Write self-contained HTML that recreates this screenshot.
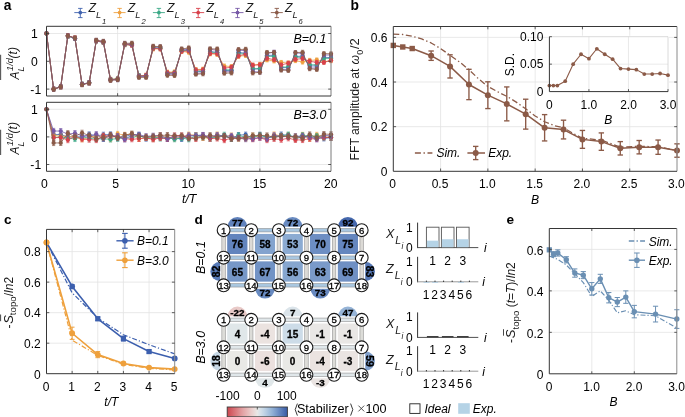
<!DOCTYPE html>
<html><head><meta charset="utf-8"><title>fig</title>
<style>html,body{margin:0;padding:0;background:#fff;width:685px;height:417px;overflow:hidden}
svg{display:block}
text{font-family:"Liberation Sans",sans-serif}</style></head>
<body><svg width="685" height="417" viewBox="0 0 685 417" style="will-change:transform">
<rect x="0" y="0" width="685" height="417" fill="#fff"/>
<g id="pa">
<line x1="117.62" y1="26.3" x2="117.62" y2="96" stroke="#e3e3e3" stroke-width="0.8"/>
<line x1="188.75" y1="26.3" x2="188.75" y2="96" stroke="#e3e3e3" stroke-width="0.8"/>
<line x1="259.88" y1="26.3" x2="259.88" y2="96" stroke="#e3e3e3" stroke-width="0.8"/>
<line x1="46.5" y1="33.5" x2="331" y2="33.5" stroke="#e3e3e3" stroke-width="0.8"/>
<line x1="46.5" y1="61.3" x2="331" y2="61.3" stroke="#e3e3e3" stroke-width="0.8"/>
<line x1="46.5" y1="89.1" x2="331" y2="89.1" stroke="#e3e3e3" stroke-width="0.8"/>
<polyline points="46.5,33.5 53.61,89.17 60.73,86.72 67.84,36.09 74.95,38.23 82.06,84.29 89.17,82.95 96.29,40.82 103.4,42.3 110.51,79.64 117.62,79.18 124.74,44.65 131.85,44.86 138.96,75.85 146.07,76.21 153.19,48.07 160.3,47.91 167.41,73.04 174.53,73.19 181.64,50.55 188.75,49.93 195.86,72.04 202.97,71.03 210.09,51.82 217.2,52.16 224.31,70.66 231.43,70.27 238.54,52.35 245.65,53.32 252.76,68.99 259.88,68.73 266.99,55.35 274.1,55.27 281.21,67.73 288.32,67.58 295.44,56.6 302.55,56.05 309.66,65.92 316.77,65.95 323.89,57.26 331,57.63" fill="none" stroke="#3f62ae" stroke-width="0.75" stroke-linejoin="round"/>
<circle cx="46.5" cy="33.5" r="2.15" fill="#3f62ae" stroke="none" stroke-width="1"/>
<line x1="53.61" y1="87.17" x2="53.61" y2="91.17" stroke="#3f62ae" stroke-width="0.7"/>
<line x1="52.01" y1="87.17" x2="55.21" y2="87.17" stroke="#3f62ae" stroke-width="0.7"/>
<line x1="52.01" y1="91.17" x2="55.21" y2="91.17" stroke="#3f62ae" stroke-width="0.7"/>
<circle cx="53.61" cy="89.17" r="2.15" fill="#3f62ae" stroke="none" stroke-width="1"/>
<line x1="60.73" y1="84.72" x2="60.73" y2="88.72" stroke="#3f62ae" stroke-width="0.7"/>
<line x1="59.12" y1="84.72" x2="62.33" y2="84.72" stroke="#3f62ae" stroke-width="0.7"/>
<line x1="59.12" y1="88.72" x2="62.33" y2="88.72" stroke="#3f62ae" stroke-width="0.7"/>
<circle cx="60.73" cy="86.72" r="2.15" fill="#3f62ae" stroke="none" stroke-width="1"/>
<line x1="67.84" y1="34.09" x2="67.84" y2="38.09" stroke="#3f62ae" stroke-width="0.7"/>
<line x1="66.24" y1="34.09" x2="69.44" y2="34.09" stroke="#3f62ae" stroke-width="0.7"/>
<line x1="66.24" y1="38.09" x2="69.44" y2="38.09" stroke="#3f62ae" stroke-width="0.7"/>
<circle cx="67.84" cy="36.09" r="2.15" fill="#3f62ae" stroke="none" stroke-width="1"/>
<line x1="74.95" y1="36.23" x2="74.95" y2="40.23" stroke="#3f62ae" stroke-width="0.7"/>
<line x1="73.35" y1="36.23" x2="76.55" y2="36.23" stroke="#3f62ae" stroke-width="0.7"/>
<line x1="73.35" y1="40.23" x2="76.55" y2="40.23" stroke="#3f62ae" stroke-width="0.7"/>
<circle cx="74.95" cy="38.23" r="2.15" fill="#3f62ae" stroke="none" stroke-width="1"/>
<line x1="82.06" y1="82.29" x2="82.06" y2="86.29" stroke="#3f62ae" stroke-width="0.7"/>
<line x1="80.46" y1="82.29" x2="83.66" y2="82.29" stroke="#3f62ae" stroke-width="0.7"/>
<line x1="80.46" y1="86.29" x2="83.66" y2="86.29" stroke="#3f62ae" stroke-width="0.7"/>
<circle cx="82.06" cy="84.29" r="2.15" fill="#3f62ae" stroke="none" stroke-width="1"/>
<line x1="89.17" y1="80.95" x2="89.17" y2="84.95" stroke="#3f62ae" stroke-width="0.7"/>
<line x1="87.58" y1="80.95" x2="90.77" y2="80.95" stroke="#3f62ae" stroke-width="0.7"/>
<line x1="87.58" y1="84.95" x2="90.77" y2="84.95" stroke="#3f62ae" stroke-width="0.7"/>
<circle cx="89.17" cy="82.95" r="2.15" fill="#3f62ae" stroke="none" stroke-width="1"/>
<line x1="96.29" y1="38.82" x2="96.29" y2="42.82" stroke="#3f62ae" stroke-width="0.7"/>
<line x1="94.69" y1="38.82" x2="97.89" y2="38.82" stroke="#3f62ae" stroke-width="0.7"/>
<line x1="94.69" y1="42.82" x2="97.89" y2="42.82" stroke="#3f62ae" stroke-width="0.7"/>
<circle cx="96.29" cy="40.82" r="2.15" fill="#3f62ae" stroke="none" stroke-width="1"/>
<line x1="103.4" y1="40.3" x2="103.4" y2="44.3" stroke="#3f62ae" stroke-width="0.7"/>
<line x1="101.8" y1="40.3" x2="105" y2="40.3" stroke="#3f62ae" stroke-width="0.7"/>
<line x1="101.8" y1="44.3" x2="105" y2="44.3" stroke="#3f62ae" stroke-width="0.7"/>
<circle cx="103.4" cy="42.3" r="2.15" fill="#3f62ae" stroke="none" stroke-width="1"/>
<line x1="110.51" y1="77.64" x2="110.51" y2="81.64" stroke="#3f62ae" stroke-width="0.7"/>
<line x1="108.91" y1="77.64" x2="112.11" y2="77.64" stroke="#3f62ae" stroke-width="0.7"/>
<line x1="108.91" y1="81.64" x2="112.11" y2="81.64" stroke="#3f62ae" stroke-width="0.7"/>
<circle cx="110.51" cy="79.64" r="2.15" fill="#3f62ae" stroke="none" stroke-width="1"/>
<line x1="117.62" y1="77.18" x2="117.62" y2="81.18" stroke="#3f62ae" stroke-width="0.7"/>
<line x1="116.03" y1="77.18" x2="119.22" y2="77.18" stroke="#3f62ae" stroke-width="0.7"/>
<line x1="116.03" y1="81.18" x2="119.22" y2="81.18" stroke="#3f62ae" stroke-width="0.7"/>
<circle cx="117.62" cy="79.18" r="2.15" fill="#3f62ae" stroke="none" stroke-width="1"/>
<line x1="124.74" y1="42.65" x2="124.74" y2="46.65" stroke="#3f62ae" stroke-width="0.7"/>
<line x1="123.14" y1="42.65" x2="126.34" y2="42.65" stroke="#3f62ae" stroke-width="0.7"/>
<line x1="123.14" y1="46.65" x2="126.34" y2="46.65" stroke="#3f62ae" stroke-width="0.7"/>
<circle cx="124.74" cy="44.65" r="2.15" fill="#3f62ae" stroke="none" stroke-width="1"/>
<line x1="131.85" y1="42.86" x2="131.85" y2="46.86" stroke="#3f62ae" stroke-width="0.7"/>
<line x1="130.25" y1="42.86" x2="133.45" y2="42.86" stroke="#3f62ae" stroke-width="0.7"/>
<line x1="130.25" y1="46.86" x2="133.45" y2="46.86" stroke="#3f62ae" stroke-width="0.7"/>
<circle cx="131.85" cy="44.86" r="2.15" fill="#3f62ae" stroke="none" stroke-width="1"/>
<line x1="138.96" y1="73.85" x2="138.96" y2="77.85" stroke="#3f62ae" stroke-width="0.7"/>
<line x1="137.36" y1="73.85" x2="140.56" y2="73.85" stroke="#3f62ae" stroke-width="0.7"/>
<line x1="137.36" y1="77.85" x2="140.56" y2="77.85" stroke="#3f62ae" stroke-width="0.7"/>
<circle cx="138.96" cy="75.85" r="2.15" fill="#3f62ae" stroke="none" stroke-width="1"/>
<line x1="146.07" y1="74.21" x2="146.07" y2="78.21" stroke="#3f62ae" stroke-width="0.7"/>
<line x1="144.47" y1="74.21" x2="147.67" y2="74.21" stroke="#3f62ae" stroke-width="0.7"/>
<line x1="144.47" y1="78.21" x2="147.67" y2="78.21" stroke="#3f62ae" stroke-width="0.7"/>
<circle cx="146.07" cy="76.21" r="2.15" fill="#3f62ae" stroke="none" stroke-width="1"/>
<line x1="153.19" y1="46.07" x2="153.19" y2="50.07" stroke="#3f62ae" stroke-width="0.7"/>
<line x1="151.59" y1="46.07" x2="154.79" y2="46.07" stroke="#3f62ae" stroke-width="0.7"/>
<line x1="151.59" y1="50.07" x2="154.79" y2="50.07" stroke="#3f62ae" stroke-width="0.7"/>
<circle cx="153.19" cy="48.07" r="2.15" fill="#3f62ae" stroke="none" stroke-width="1"/>
<line x1="160.3" y1="45.91" x2="160.3" y2="49.91" stroke="#3f62ae" stroke-width="0.7"/>
<line x1="158.7" y1="45.91" x2="161.9" y2="45.91" stroke="#3f62ae" stroke-width="0.7"/>
<line x1="158.7" y1="49.91" x2="161.9" y2="49.91" stroke="#3f62ae" stroke-width="0.7"/>
<circle cx="160.3" cy="47.91" r="2.15" fill="#3f62ae" stroke="none" stroke-width="1"/>
<line x1="167.41" y1="71.04" x2="167.41" y2="75.04" stroke="#3f62ae" stroke-width="0.7"/>
<line x1="165.81" y1="71.04" x2="169.01" y2="71.04" stroke="#3f62ae" stroke-width="0.7"/>
<line x1="165.81" y1="75.04" x2="169.01" y2="75.04" stroke="#3f62ae" stroke-width="0.7"/>
<circle cx="167.41" cy="73.04" r="2.15" fill="#3f62ae" stroke="none" stroke-width="1"/>
<line x1="174.53" y1="71.19" x2="174.53" y2="75.19" stroke="#3f62ae" stroke-width="0.7"/>
<line x1="172.93" y1="71.19" x2="176.12" y2="71.19" stroke="#3f62ae" stroke-width="0.7"/>
<line x1="172.93" y1="75.19" x2="176.12" y2="75.19" stroke="#3f62ae" stroke-width="0.7"/>
<circle cx="174.53" cy="73.19" r="2.15" fill="#3f62ae" stroke="none" stroke-width="1"/>
<line x1="181.64" y1="48.55" x2="181.64" y2="52.55" stroke="#3f62ae" stroke-width="0.7"/>
<line x1="180.04" y1="48.55" x2="183.24" y2="48.55" stroke="#3f62ae" stroke-width="0.7"/>
<line x1="180.04" y1="52.55" x2="183.24" y2="52.55" stroke="#3f62ae" stroke-width="0.7"/>
<circle cx="181.64" cy="50.55" r="2.15" fill="#3f62ae" stroke="none" stroke-width="1"/>
<line x1="188.75" y1="47.93" x2="188.75" y2="51.93" stroke="#3f62ae" stroke-width="0.7"/>
<line x1="187.15" y1="47.93" x2="190.35" y2="47.93" stroke="#3f62ae" stroke-width="0.7"/>
<line x1="187.15" y1="51.93" x2="190.35" y2="51.93" stroke="#3f62ae" stroke-width="0.7"/>
<circle cx="188.75" cy="49.93" r="2.15" fill="#3f62ae" stroke="none" stroke-width="1"/>
<line x1="195.86" y1="70.04" x2="195.86" y2="74.04" stroke="#3f62ae" stroke-width="0.7"/>
<line x1="194.26" y1="70.04" x2="197.46" y2="70.04" stroke="#3f62ae" stroke-width="0.7"/>
<line x1="194.26" y1="74.04" x2="197.46" y2="74.04" stroke="#3f62ae" stroke-width="0.7"/>
<circle cx="195.86" cy="72.04" r="2.15" fill="#3f62ae" stroke="none" stroke-width="1"/>
<line x1="202.97" y1="69.03" x2="202.97" y2="73.03" stroke="#3f62ae" stroke-width="0.7"/>
<line x1="201.38" y1="69.03" x2="204.57" y2="69.03" stroke="#3f62ae" stroke-width="0.7"/>
<line x1="201.38" y1="73.03" x2="204.57" y2="73.03" stroke="#3f62ae" stroke-width="0.7"/>
<circle cx="202.97" cy="71.03" r="2.15" fill="#3f62ae" stroke="none" stroke-width="1"/>
<line x1="210.09" y1="49.82" x2="210.09" y2="53.82" stroke="#3f62ae" stroke-width="0.7"/>
<line x1="208.49" y1="49.82" x2="211.69" y2="49.82" stroke="#3f62ae" stroke-width="0.7"/>
<line x1="208.49" y1="53.82" x2="211.69" y2="53.82" stroke="#3f62ae" stroke-width="0.7"/>
<circle cx="210.09" cy="51.82" r="2.15" fill="#3f62ae" stroke="none" stroke-width="1"/>
<line x1="217.2" y1="50.16" x2="217.2" y2="54.16" stroke="#3f62ae" stroke-width="0.7"/>
<line x1="215.6" y1="50.16" x2="218.8" y2="50.16" stroke="#3f62ae" stroke-width="0.7"/>
<line x1="215.6" y1="54.16" x2="218.8" y2="54.16" stroke="#3f62ae" stroke-width="0.7"/>
<circle cx="217.2" cy="52.16" r="2.15" fill="#3f62ae" stroke="none" stroke-width="1"/>
<line x1="224.31" y1="68.66" x2="224.31" y2="72.66" stroke="#3f62ae" stroke-width="0.7"/>
<line x1="222.71" y1="68.66" x2="225.91" y2="68.66" stroke="#3f62ae" stroke-width="0.7"/>
<line x1="222.71" y1="72.66" x2="225.91" y2="72.66" stroke="#3f62ae" stroke-width="0.7"/>
<circle cx="224.31" cy="70.66" r="2.15" fill="#3f62ae" stroke="none" stroke-width="1"/>
<line x1="231.43" y1="68.27" x2="231.43" y2="72.27" stroke="#3f62ae" stroke-width="0.7"/>
<line x1="229.83" y1="68.27" x2="233.03" y2="68.27" stroke="#3f62ae" stroke-width="0.7"/>
<line x1="229.83" y1="72.27" x2="233.03" y2="72.27" stroke="#3f62ae" stroke-width="0.7"/>
<circle cx="231.43" cy="70.27" r="2.15" fill="#3f62ae" stroke="none" stroke-width="1"/>
<line x1="238.54" y1="50.35" x2="238.54" y2="54.35" stroke="#3f62ae" stroke-width="0.7"/>
<line x1="236.94" y1="50.35" x2="240.14" y2="50.35" stroke="#3f62ae" stroke-width="0.7"/>
<line x1="236.94" y1="54.35" x2="240.14" y2="54.35" stroke="#3f62ae" stroke-width="0.7"/>
<circle cx="238.54" cy="52.35" r="2.15" fill="#3f62ae" stroke="none" stroke-width="1"/>
<line x1="245.65" y1="51.32" x2="245.65" y2="55.32" stroke="#3f62ae" stroke-width="0.7"/>
<line x1="244.05" y1="51.32" x2="247.25" y2="51.32" stroke="#3f62ae" stroke-width="0.7"/>
<line x1="244.05" y1="55.32" x2="247.25" y2="55.32" stroke="#3f62ae" stroke-width="0.7"/>
<circle cx="245.65" cy="53.32" r="2.15" fill="#3f62ae" stroke="none" stroke-width="1"/>
<line x1="252.76" y1="66.99" x2="252.76" y2="70.99" stroke="#3f62ae" stroke-width="0.7"/>
<line x1="251.16" y1="66.99" x2="254.36" y2="66.99" stroke="#3f62ae" stroke-width="0.7"/>
<line x1="251.16" y1="70.99" x2="254.36" y2="70.99" stroke="#3f62ae" stroke-width="0.7"/>
<circle cx="252.76" cy="68.99" r="2.15" fill="#3f62ae" stroke="none" stroke-width="1"/>
<line x1="259.88" y1="66.73" x2="259.88" y2="70.73" stroke="#3f62ae" stroke-width="0.7"/>
<line x1="258.27" y1="66.73" x2="261.48" y2="66.73" stroke="#3f62ae" stroke-width="0.7"/>
<line x1="258.27" y1="70.73" x2="261.48" y2="70.73" stroke="#3f62ae" stroke-width="0.7"/>
<circle cx="259.88" cy="68.73" r="2.15" fill="#3f62ae" stroke="none" stroke-width="1"/>
<line x1="266.99" y1="53.35" x2="266.99" y2="57.35" stroke="#3f62ae" stroke-width="0.7"/>
<line x1="265.39" y1="53.35" x2="268.59" y2="53.35" stroke="#3f62ae" stroke-width="0.7"/>
<line x1="265.39" y1="57.35" x2="268.59" y2="57.35" stroke="#3f62ae" stroke-width="0.7"/>
<circle cx="266.99" cy="55.35" r="2.15" fill="#3f62ae" stroke="none" stroke-width="1"/>
<line x1="274.1" y1="53.27" x2="274.1" y2="57.27" stroke="#3f62ae" stroke-width="0.7"/>
<line x1="272.5" y1="53.27" x2="275.7" y2="53.27" stroke="#3f62ae" stroke-width="0.7"/>
<line x1="272.5" y1="57.27" x2="275.7" y2="57.27" stroke="#3f62ae" stroke-width="0.7"/>
<circle cx="274.1" cy="55.27" r="2.15" fill="#3f62ae" stroke="none" stroke-width="1"/>
<line x1="281.21" y1="65.73" x2="281.21" y2="69.73" stroke="#3f62ae" stroke-width="0.7"/>
<line x1="279.61" y1="65.73" x2="282.81" y2="65.73" stroke="#3f62ae" stroke-width="0.7"/>
<line x1="279.61" y1="69.73" x2="282.81" y2="69.73" stroke="#3f62ae" stroke-width="0.7"/>
<circle cx="281.21" cy="67.73" r="2.15" fill="#3f62ae" stroke="none" stroke-width="1"/>
<line x1="288.32" y1="65.58" x2="288.32" y2="69.58" stroke="#3f62ae" stroke-width="0.7"/>
<line x1="286.72" y1="65.58" x2="289.93" y2="65.58" stroke="#3f62ae" stroke-width="0.7"/>
<line x1="286.72" y1="69.58" x2="289.93" y2="69.58" stroke="#3f62ae" stroke-width="0.7"/>
<circle cx="288.32" cy="67.58" r="2.15" fill="#3f62ae" stroke="none" stroke-width="1"/>
<line x1="295.44" y1="54.6" x2="295.44" y2="58.6" stroke="#3f62ae" stroke-width="0.7"/>
<line x1="293.84" y1="54.6" x2="297.04" y2="54.6" stroke="#3f62ae" stroke-width="0.7"/>
<line x1="293.84" y1="58.6" x2="297.04" y2="58.6" stroke="#3f62ae" stroke-width="0.7"/>
<circle cx="295.44" cy="56.6" r="2.15" fill="#3f62ae" stroke="none" stroke-width="1"/>
<line x1="302.55" y1="54.05" x2="302.55" y2="58.05" stroke="#3f62ae" stroke-width="0.7"/>
<line x1="300.95" y1="54.05" x2="304.15" y2="54.05" stroke="#3f62ae" stroke-width="0.7"/>
<line x1="300.95" y1="58.05" x2="304.15" y2="58.05" stroke="#3f62ae" stroke-width="0.7"/>
<circle cx="302.55" cy="56.05" r="2.15" fill="#3f62ae" stroke="none" stroke-width="1"/>
<line x1="309.66" y1="63.92" x2="309.66" y2="67.92" stroke="#3f62ae" stroke-width="0.7"/>
<line x1="308.06" y1="63.92" x2="311.26" y2="63.92" stroke="#3f62ae" stroke-width="0.7"/>
<line x1="308.06" y1="67.92" x2="311.26" y2="67.92" stroke="#3f62ae" stroke-width="0.7"/>
<circle cx="309.66" cy="65.92" r="2.15" fill="#3f62ae" stroke="none" stroke-width="1"/>
<line x1="316.77" y1="63.95" x2="316.77" y2="67.95" stroke="#3f62ae" stroke-width="0.7"/>
<line x1="315.17" y1="63.95" x2="318.38" y2="63.95" stroke="#3f62ae" stroke-width="0.7"/>
<line x1="315.17" y1="67.95" x2="318.38" y2="67.95" stroke="#3f62ae" stroke-width="0.7"/>
<circle cx="316.77" cy="65.95" r="2.15" fill="#3f62ae" stroke="none" stroke-width="1"/>
<line x1="323.89" y1="55.26" x2="323.89" y2="59.26" stroke="#3f62ae" stroke-width="0.7"/>
<line x1="322.29" y1="55.26" x2="325.49" y2="55.26" stroke="#3f62ae" stroke-width="0.7"/>
<line x1="322.29" y1="59.26" x2="325.49" y2="59.26" stroke="#3f62ae" stroke-width="0.7"/>
<circle cx="323.89" cy="57.26" r="2.15" fill="#3f62ae" stroke="none" stroke-width="1"/>
<line x1="331" y1="55.63" x2="331" y2="59.63" stroke="#3f62ae" stroke-width="0.7"/>
<line x1="329.4" y1="55.63" x2="332.6" y2="55.63" stroke="#3f62ae" stroke-width="0.7"/>
<line x1="329.4" y1="59.63" x2="332.6" y2="59.63" stroke="#3f62ae" stroke-width="0.7"/>
<circle cx="331" cy="57.63" r="2.15" fill="#3f62ae" stroke="none" stroke-width="1"/>
<polyline points="46.5,33.5 53.61,89 60.73,86.76 67.84,35.94 74.95,38.11 82.06,84.32 89.17,82.63 96.29,40.66 103.4,42.18 110.51,79.23 117.62,78.98 124.74,44.7 131.85,45.02 138.96,75.85 146.07,75.28 153.19,48.98 160.3,48.83 167.41,72.13 174.53,71.92 181.64,51.49 188.75,52.23 195.86,69.55 202.97,69.21 210.09,53.84 217.2,54.45 224.31,66.03 231.43,66.57 238.54,56.31 245.65,55.49 252.76,65.13 259.88,64.27 266.99,59.88 274.1,60.97 281.21,62.45 288.32,62.97 295.44,60.64 302.55,62.05 309.66,60.37 316.77,59.98 323.89,61.85 331,60.68" fill="none" stroke="#eea03f" stroke-width="0.75" stroke-linejoin="round"/>
<circle cx="46.5" cy="33.5" r="2.15" fill="#eea03f" stroke="none" stroke-width="1"/>
<line x1="53.61" y1="87" x2="53.61" y2="91" stroke="#eea03f" stroke-width="0.7"/>
<line x1="52.01" y1="87" x2="55.21" y2="87" stroke="#eea03f" stroke-width="0.7"/>
<line x1="52.01" y1="91" x2="55.21" y2="91" stroke="#eea03f" stroke-width="0.7"/>
<circle cx="53.61" cy="89" r="2.15" fill="#eea03f" stroke="none" stroke-width="1"/>
<line x1="60.73" y1="84.76" x2="60.73" y2="88.76" stroke="#eea03f" stroke-width="0.7"/>
<line x1="59.12" y1="84.76" x2="62.33" y2="84.76" stroke="#eea03f" stroke-width="0.7"/>
<line x1="59.12" y1="88.76" x2="62.33" y2="88.76" stroke="#eea03f" stroke-width="0.7"/>
<circle cx="60.73" cy="86.76" r="2.15" fill="#eea03f" stroke="none" stroke-width="1"/>
<line x1="67.84" y1="33.94" x2="67.84" y2="37.94" stroke="#eea03f" stroke-width="0.7"/>
<line x1="66.24" y1="33.94" x2="69.44" y2="33.94" stroke="#eea03f" stroke-width="0.7"/>
<line x1="66.24" y1="37.94" x2="69.44" y2="37.94" stroke="#eea03f" stroke-width="0.7"/>
<circle cx="67.84" cy="35.94" r="2.15" fill="#eea03f" stroke="none" stroke-width="1"/>
<line x1="74.95" y1="36.11" x2="74.95" y2="40.11" stroke="#eea03f" stroke-width="0.7"/>
<line x1="73.35" y1="36.11" x2="76.55" y2="36.11" stroke="#eea03f" stroke-width="0.7"/>
<line x1="73.35" y1="40.11" x2="76.55" y2="40.11" stroke="#eea03f" stroke-width="0.7"/>
<circle cx="74.95" cy="38.11" r="2.15" fill="#eea03f" stroke="none" stroke-width="1"/>
<line x1="82.06" y1="82.32" x2="82.06" y2="86.32" stroke="#eea03f" stroke-width="0.7"/>
<line x1="80.46" y1="82.32" x2="83.66" y2="82.32" stroke="#eea03f" stroke-width="0.7"/>
<line x1="80.46" y1="86.32" x2="83.66" y2="86.32" stroke="#eea03f" stroke-width="0.7"/>
<circle cx="82.06" cy="84.32" r="2.15" fill="#eea03f" stroke="none" stroke-width="1"/>
<line x1="89.17" y1="80.63" x2="89.17" y2="84.63" stroke="#eea03f" stroke-width="0.7"/>
<line x1="87.58" y1="80.63" x2="90.77" y2="80.63" stroke="#eea03f" stroke-width="0.7"/>
<line x1="87.58" y1="84.63" x2="90.77" y2="84.63" stroke="#eea03f" stroke-width="0.7"/>
<circle cx="89.17" cy="82.63" r="2.15" fill="#eea03f" stroke="none" stroke-width="1"/>
<line x1="96.29" y1="38.66" x2="96.29" y2="42.66" stroke="#eea03f" stroke-width="0.7"/>
<line x1="94.69" y1="38.66" x2="97.89" y2="38.66" stroke="#eea03f" stroke-width="0.7"/>
<line x1="94.69" y1="42.66" x2="97.89" y2="42.66" stroke="#eea03f" stroke-width="0.7"/>
<circle cx="96.29" cy="40.66" r="2.15" fill="#eea03f" stroke="none" stroke-width="1"/>
<line x1="103.4" y1="40.18" x2="103.4" y2="44.18" stroke="#eea03f" stroke-width="0.7"/>
<line x1="101.8" y1="40.18" x2="105" y2="40.18" stroke="#eea03f" stroke-width="0.7"/>
<line x1="101.8" y1="44.18" x2="105" y2="44.18" stroke="#eea03f" stroke-width="0.7"/>
<circle cx="103.4" cy="42.18" r="2.15" fill="#eea03f" stroke="none" stroke-width="1"/>
<line x1="110.51" y1="77.23" x2="110.51" y2="81.23" stroke="#eea03f" stroke-width="0.7"/>
<line x1="108.91" y1="77.23" x2="112.11" y2="77.23" stroke="#eea03f" stroke-width="0.7"/>
<line x1="108.91" y1="81.23" x2="112.11" y2="81.23" stroke="#eea03f" stroke-width="0.7"/>
<circle cx="110.51" cy="79.23" r="2.15" fill="#eea03f" stroke="none" stroke-width="1"/>
<line x1="117.62" y1="76.98" x2="117.62" y2="80.98" stroke="#eea03f" stroke-width="0.7"/>
<line x1="116.03" y1="76.98" x2="119.22" y2="76.98" stroke="#eea03f" stroke-width="0.7"/>
<line x1="116.03" y1="80.98" x2="119.22" y2="80.98" stroke="#eea03f" stroke-width="0.7"/>
<circle cx="117.62" cy="78.98" r="2.15" fill="#eea03f" stroke="none" stroke-width="1"/>
<line x1="124.74" y1="42.7" x2="124.74" y2="46.7" stroke="#eea03f" stroke-width="0.7"/>
<line x1="123.14" y1="42.7" x2="126.34" y2="42.7" stroke="#eea03f" stroke-width="0.7"/>
<line x1="123.14" y1="46.7" x2="126.34" y2="46.7" stroke="#eea03f" stroke-width="0.7"/>
<circle cx="124.74" cy="44.7" r="2.15" fill="#eea03f" stroke="none" stroke-width="1"/>
<line x1="131.85" y1="43.02" x2="131.85" y2="47.02" stroke="#eea03f" stroke-width="0.7"/>
<line x1="130.25" y1="43.02" x2="133.45" y2="43.02" stroke="#eea03f" stroke-width="0.7"/>
<line x1="130.25" y1="47.02" x2="133.45" y2="47.02" stroke="#eea03f" stroke-width="0.7"/>
<circle cx="131.85" cy="45.02" r="2.15" fill="#eea03f" stroke="none" stroke-width="1"/>
<line x1="138.96" y1="73.85" x2="138.96" y2="77.85" stroke="#eea03f" stroke-width="0.7"/>
<line x1="137.36" y1="73.85" x2="140.56" y2="73.85" stroke="#eea03f" stroke-width="0.7"/>
<line x1="137.36" y1="77.85" x2="140.56" y2="77.85" stroke="#eea03f" stroke-width="0.7"/>
<circle cx="138.96" cy="75.85" r="2.15" fill="#eea03f" stroke="none" stroke-width="1"/>
<line x1="146.07" y1="73.28" x2="146.07" y2="77.28" stroke="#eea03f" stroke-width="0.7"/>
<line x1="144.47" y1="73.28" x2="147.67" y2="73.28" stroke="#eea03f" stroke-width="0.7"/>
<line x1="144.47" y1="77.28" x2="147.67" y2="77.28" stroke="#eea03f" stroke-width="0.7"/>
<circle cx="146.07" cy="75.28" r="2.15" fill="#eea03f" stroke="none" stroke-width="1"/>
<line x1="153.19" y1="46.98" x2="153.19" y2="50.98" stroke="#eea03f" stroke-width="0.7"/>
<line x1="151.59" y1="46.98" x2="154.79" y2="46.98" stroke="#eea03f" stroke-width="0.7"/>
<line x1="151.59" y1="50.98" x2="154.79" y2="50.98" stroke="#eea03f" stroke-width="0.7"/>
<circle cx="153.19" cy="48.98" r="2.15" fill="#eea03f" stroke="none" stroke-width="1"/>
<line x1="160.3" y1="46.83" x2="160.3" y2="50.83" stroke="#eea03f" stroke-width="0.7"/>
<line x1="158.7" y1="46.83" x2="161.9" y2="46.83" stroke="#eea03f" stroke-width="0.7"/>
<line x1="158.7" y1="50.83" x2="161.9" y2="50.83" stroke="#eea03f" stroke-width="0.7"/>
<circle cx="160.3" cy="48.83" r="2.15" fill="#eea03f" stroke="none" stroke-width="1"/>
<line x1="167.41" y1="70.13" x2="167.41" y2="74.13" stroke="#eea03f" stroke-width="0.7"/>
<line x1="165.81" y1="70.13" x2="169.01" y2="70.13" stroke="#eea03f" stroke-width="0.7"/>
<line x1="165.81" y1="74.13" x2="169.01" y2="74.13" stroke="#eea03f" stroke-width="0.7"/>
<circle cx="167.41" cy="72.13" r="2.15" fill="#eea03f" stroke="none" stroke-width="1"/>
<line x1="174.53" y1="69.92" x2="174.53" y2="73.92" stroke="#eea03f" stroke-width="0.7"/>
<line x1="172.93" y1="69.92" x2="176.12" y2="69.92" stroke="#eea03f" stroke-width="0.7"/>
<line x1="172.93" y1="73.92" x2="176.12" y2="73.92" stroke="#eea03f" stroke-width="0.7"/>
<circle cx="174.53" cy="71.92" r="2.15" fill="#eea03f" stroke="none" stroke-width="1"/>
<line x1="181.64" y1="49.49" x2="181.64" y2="53.49" stroke="#eea03f" stroke-width="0.7"/>
<line x1="180.04" y1="49.49" x2="183.24" y2="49.49" stroke="#eea03f" stroke-width="0.7"/>
<line x1="180.04" y1="53.49" x2="183.24" y2="53.49" stroke="#eea03f" stroke-width="0.7"/>
<circle cx="181.64" cy="51.49" r="2.15" fill="#eea03f" stroke="none" stroke-width="1"/>
<line x1="188.75" y1="50.23" x2="188.75" y2="54.23" stroke="#eea03f" stroke-width="0.7"/>
<line x1="187.15" y1="50.23" x2="190.35" y2="50.23" stroke="#eea03f" stroke-width="0.7"/>
<line x1="187.15" y1="54.23" x2="190.35" y2="54.23" stroke="#eea03f" stroke-width="0.7"/>
<circle cx="188.75" cy="52.23" r="2.15" fill="#eea03f" stroke="none" stroke-width="1"/>
<line x1="195.86" y1="67.55" x2="195.86" y2="71.55" stroke="#eea03f" stroke-width="0.7"/>
<line x1="194.26" y1="67.55" x2="197.46" y2="67.55" stroke="#eea03f" stroke-width="0.7"/>
<line x1="194.26" y1="71.55" x2="197.46" y2="71.55" stroke="#eea03f" stroke-width="0.7"/>
<circle cx="195.86" cy="69.55" r="2.15" fill="#eea03f" stroke="none" stroke-width="1"/>
<line x1="202.97" y1="67.21" x2="202.97" y2="71.21" stroke="#eea03f" stroke-width="0.7"/>
<line x1="201.38" y1="67.21" x2="204.57" y2="67.21" stroke="#eea03f" stroke-width="0.7"/>
<line x1="201.38" y1="71.21" x2="204.57" y2="71.21" stroke="#eea03f" stroke-width="0.7"/>
<circle cx="202.97" cy="69.21" r="2.15" fill="#eea03f" stroke="none" stroke-width="1"/>
<line x1="210.09" y1="51.84" x2="210.09" y2="55.84" stroke="#eea03f" stroke-width="0.7"/>
<line x1="208.49" y1="51.84" x2="211.69" y2="51.84" stroke="#eea03f" stroke-width="0.7"/>
<line x1="208.49" y1="55.84" x2="211.69" y2="55.84" stroke="#eea03f" stroke-width="0.7"/>
<circle cx="210.09" cy="53.84" r="2.15" fill="#eea03f" stroke="none" stroke-width="1"/>
<line x1="217.2" y1="52.45" x2="217.2" y2="56.45" stroke="#eea03f" stroke-width="0.7"/>
<line x1="215.6" y1="52.45" x2="218.8" y2="52.45" stroke="#eea03f" stroke-width="0.7"/>
<line x1="215.6" y1="56.45" x2="218.8" y2="56.45" stroke="#eea03f" stroke-width="0.7"/>
<circle cx="217.2" cy="54.45" r="2.15" fill="#eea03f" stroke="none" stroke-width="1"/>
<line x1="224.31" y1="64.03" x2="224.31" y2="68.03" stroke="#eea03f" stroke-width="0.7"/>
<line x1="222.71" y1="64.03" x2="225.91" y2="64.03" stroke="#eea03f" stroke-width="0.7"/>
<line x1="222.71" y1="68.03" x2="225.91" y2="68.03" stroke="#eea03f" stroke-width="0.7"/>
<circle cx="224.31" cy="66.03" r="2.15" fill="#eea03f" stroke="none" stroke-width="1"/>
<line x1="231.43" y1="64.57" x2="231.43" y2="68.57" stroke="#eea03f" stroke-width="0.7"/>
<line x1="229.83" y1="64.57" x2="233.03" y2="64.57" stroke="#eea03f" stroke-width="0.7"/>
<line x1="229.83" y1="68.57" x2="233.03" y2="68.57" stroke="#eea03f" stroke-width="0.7"/>
<circle cx="231.43" cy="66.57" r="2.15" fill="#eea03f" stroke="none" stroke-width="1"/>
<line x1="238.54" y1="54.31" x2="238.54" y2="58.31" stroke="#eea03f" stroke-width="0.7"/>
<line x1="236.94" y1="54.31" x2="240.14" y2="54.31" stroke="#eea03f" stroke-width="0.7"/>
<line x1="236.94" y1="58.31" x2="240.14" y2="58.31" stroke="#eea03f" stroke-width="0.7"/>
<circle cx="238.54" cy="56.31" r="2.15" fill="#eea03f" stroke="none" stroke-width="1"/>
<line x1="245.65" y1="53.49" x2="245.65" y2="57.49" stroke="#eea03f" stroke-width="0.7"/>
<line x1="244.05" y1="53.49" x2="247.25" y2="53.49" stroke="#eea03f" stroke-width="0.7"/>
<line x1="244.05" y1="57.49" x2="247.25" y2="57.49" stroke="#eea03f" stroke-width="0.7"/>
<circle cx="245.65" cy="55.49" r="2.15" fill="#eea03f" stroke="none" stroke-width="1"/>
<line x1="252.76" y1="63.13" x2="252.76" y2="67.13" stroke="#eea03f" stroke-width="0.7"/>
<line x1="251.16" y1="63.13" x2="254.36" y2="63.13" stroke="#eea03f" stroke-width="0.7"/>
<line x1="251.16" y1="67.13" x2="254.36" y2="67.13" stroke="#eea03f" stroke-width="0.7"/>
<circle cx="252.76" cy="65.13" r="2.15" fill="#eea03f" stroke="none" stroke-width="1"/>
<line x1="259.88" y1="62.27" x2="259.88" y2="66.27" stroke="#eea03f" stroke-width="0.7"/>
<line x1="258.27" y1="62.27" x2="261.48" y2="62.27" stroke="#eea03f" stroke-width="0.7"/>
<line x1="258.27" y1="66.27" x2="261.48" y2="66.27" stroke="#eea03f" stroke-width="0.7"/>
<circle cx="259.88" cy="64.27" r="2.15" fill="#eea03f" stroke="none" stroke-width="1"/>
<line x1="266.99" y1="57.88" x2="266.99" y2="61.88" stroke="#eea03f" stroke-width="0.7"/>
<line x1="265.39" y1="57.88" x2="268.59" y2="57.88" stroke="#eea03f" stroke-width="0.7"/>
<line x1="265.39" y1="61.88" x2="268.59" y2="61.88" stroke="#eea03f" stroke-width="0.7"/>
<circle cx="266.99" cy="59.88" r="2.15" fill="#eea03f" stroke="none" stroke-width="1"/>
<line x1="274.1" y1="58.97" x2="274.1" y2="62.97" stroke="#eea03f" stroke-width="0.7"/>
<line x1="272.5" y1="58.97" x2="275.7" y2="58.97" stroke="#eea03f" stroke-width="0.7"/>
<line x1="272.5" y1="62.97" x2="275.7" y2="62.97" stroke="#eea03f" stroke-width="0.7"/>
<circle cx="274.1" cy="60.97" r="2.15" fill="#eea03f" stroke="none" stroke-width="1"/>
<line x1="281.21" y1="60.45" x2="281.21" y2="64.45" stroke="#eea03f" stroke-width="0.7"/>
<line x1="279.61" y1="60.45" x2="282.81" y2="60.45" stroke="#eea03f" stroke-width="0.7"/>
<line x1="279.61" y1="64.45" x2="282.81" y2="64.45" stroke="#eea03f" stroke-width="0.7"/>
<circle cx="281.21" cy="62.45" r="2.15" fill="#eea03f" stroke="none" stroke-width="1"/>
<line x1="288.32" y1="60.97" x2="288.32" y2="64.97" stroke="#eea03f" stroke-width="0.7"/>
<line x1="286.72" y1="60.97" x2="289.93" y2="60.97" stroke="#eea03f" stroke-width="0.7"/>
<line x1="286.72" y1="64.97" x2="289.93" y2="64.97" stroke="#eea03f" stroke-width="0.7"/>
<circle cx="288.32" cy="62.97" r="2.15" fill="#eea03f" stroke="none" stroke-width="1"/>
<line x1="295.44" y1="58.64" x2="295.44" y2="62.64" stroke="#eea03f" stroke-width="0.7"/>
<line x1="293.84" y1="58.64" x2="297.04" y2="58.64" stroke="#eea03f" stroke-width="0.7"/>
<line x1="293.84" y1="62.64" x2="297.04" y2="62.64" stroke="#eea03f" stroke-width="0.7"/>
<circle cx="295.44" cy="60.64" r="2.15" fill="#eea03f" stroke="none" stroke-width="1"/>
<line x1="302.55" y1="60.05" x2="302.55" y2="64.05" stroke="#eea03f" stroke-width="0.7"/>
<line x1="300.95" y1="60.05" x2="304.15" y2="60.05" stroke="#eea03f" stroke-width="0.7"/>
<line x1="300.95" y1="64.05" x2="304.15" y2="64.05" stroke="#eea03f" stroke-width="0.7"/>
<circle cx="302.55" cy="62.05" r="2.15" fill="#eea03f" stroke="none" stroke-width="1"/>
<line x1="309.66" y1="58.37" x2="309.66" y2="62.37" stroke="#eea03f" stroke-width="0.7"/>
<line x1="308.06" y1="58.37" x2="311.26" y2="58.37" stroke="#eea03f" stroke-width="0.7"/>
<line x1="308.06" y1="62.37" x2="311.26" y2="62.37" stroke="#eea03f" stroke-width="0.7"/>
<circle cx="309.66" cy="60.37" r="2.15" fill="#eea03f" stroke="none" stroke-width="1"/>
<line x1="316.77" y1="57.98" x2="316.77" y2="61.98" stroke="#eea03f" stroke-width="0.7"/>
<line x1="315.17" y1="57.98" x2="318.38" y2="57.98" stroke="#eea03f" stroke-width="0.7"/>
<line x1="315.17" y1="61.98" x2="318.38" y2="61.98" stroke="#eea03f" stroke-width="0.7"/>
<circle cx="316.77" cy="59.98" r="2.15" fill="#eea03f" stroke="none" stroke-width="1"/>
<line x1="323.89" y1="59.85" x2="323.89" y2="63.85" stroke="#eea03f" stroke-width="0.7"/>
<line x1="322.29" y1="59.85" x2="325.49" y2="59.85" stroke="#eea03f" stroke-width="0.7"/>
<line x1="322.29" y1="63.85" x2="325.49" y2="63.85" stroke="#eea03f" stroke-width="0.7"/>
<circle cx="323.89" cy="61.85" r="2.15" fill="#eea03f" stroke="none" stroke-width="1"/>
<line x1="331" y1="58.68" x2="331" y2="62.68" stroke="#eea03f" stroke-width="0.7"/>
<line x1="329.4" y1="58.68" x2="332.6" y2="58.68" stroke="#eea03f" stroke-width="0.7"/>
<line x1="329.4" y1="62.68" x2="332.6" y2="62.68" stroke="#eea03f" stroke-width="0.7"/>
<circle cx="331" cy="60.68" r="2.15" fill="#eea03f" stroke="none" stroke-width="1"/>
<polyline points="46.5,33.5 53.61,89.17 60.73,86.87 67.84,36.06 74.95,38.4 82.06,84.17 89.17,82.61 96.29,41.05 103.4,42.44 110.51,79.51 117.62,78.83 124.74,44.51 131.85,44.7 138.96,75.74 146.07,75.67 153.19,48.01 160.3,48.15 167.41,73.54 174.53,72.59 181.64,50.5 188.75,50.37 195.86,70.92 202.97,71.13 210.09,52.1 217.2,52.64 224.31,69.63 231.43,70.09 238.54,53.76 245.65,53.82 252.76,69 259.88,68.56 266.99,56.27 274.1,56.54 281.21,67.06 288.32,66.95 295.44,56.92 302.55,57.63 309.66,64.65 316.77,64.87 323.89,58.55 331,58.56" fill="none" stroke="#3aa886" stroke-width="0.75" stroke-linejoin="round"/>
<circle cx="46.5" cy="33.5" r="2.15" fill="#3aa886" stroke="none" stroke-width="1"/>
<line x1="53.61" y1="87.17" x2="53.61" y2="91.17" stroke="#3aa886" stroke-width="0.7"/>
<line x1="52.01" y1="87.17" x2="55.21" y2="87.17" stroke="#3aa886" stroke-width="0.7"/>
<line x1="52.01" y1="91.17" x2="55.21" y2="91.17" stroke="#3aa886" stroke-width="0.7"/>
<circle cx="53.61" cy="89.17" r="2.15" fill="#3aa886" stroke="none" stroke-width="1"/>
<line x1="60.73" y1="84.87" x2="60.73" y2="88.87" stroke="#3aa886" stroke-width="0.7"/>
<line x1="59.12" y1="84.87" x2="62.33" y2="84.87" stroke="#3aa886" stroke-width="0.7"/>
<line x1="59.12" y1="88.87" x2="62.33" y2="88.87" stroke="#3aa886" stroke-width="0.7"/>
<circle cx="60.73" cy="86.87" r="2.15" fill="#3aa886" stroke="none" stroke-width="1"/>
<line x1="67.84" y1="34.06" x2="67.84" y2="38.06" stroke="#3aa886" stroke-width="0.7"/>
<line x1="66.24" y1="34.06" x2="69.44" y2="34.06" stroke="#3aa886" stroke-width="0.7"/>
<line x1="66.24" y1="38.06" x2="69.44" y2="38.06" stroke="#3aa886" stroke-width="0.7"/>
<circle cx="67.84" cy="36.06" r="2.15" fill="#3aa886" stroke="none" stroke-width="1"/>
<line x1="74.95" y1="36.4" x2="74.95" y2="40.4" stroke="#3aa886" stroke-width="0.7"/>
<line x1="73.35" y1="36.4" x2="76.55" y2="36.4" stroke="#3aa886" stroke-width="0.7"/>
<line x1="73.35" y1="40.4" x2="76.55" y2="40.4" stroke="#3aa886" stroke-width="0.7"/>
<circle cx="74.95" cy="38.4" r="2.15" fill="#3aa886" stroke="none" stroke-width="1"/>
<line x1="82.06" y1="82.17" x2="82.06" y2="86.17" stroke="#3aa886" stroke-width="0.7"/>
<line x1="80.46" y1="82.17" x2="83.66" y2="82.17" stroke="#3aa886" stroke-width="0.7"/>
<line x1="80.46" y1="86.17" x2="83.66" y2="86.17" stroke="#3aa886" stroke-width="0.7"/>
<circle cx="82.06" cy="84.17" r="2.15" fill="#3aa886" stroke="none" stroke-width="1"/>
<line x1="89.17" y1="80.61" x2="89.17" y2="84.61" stroke="#3aa886" stroke-width="0.7"/>
<line x1="87.58" y1="80.61" x2="90.77" y2="80.61" stroke="#3aa886" stroke-width="0.7"/>
<line x1="87.58" y1="84.61" x2="90.77" y2="84.61" stroke="#3aa886" stroke-width="0.7"/>
<circle cx="89.17" cy="82.61" r="2.15" fill="#3aa886" stroke="none" stroke-width="1"/>
<line x1="96.29" y1="39.05" x2="96.29" y2="43.05" stroke="#3aa886" stroke-width="0.7"/>
<line x1="94.69" y1="39.05" x2="97.89" y2="39.05" stroke="#3aa886" stroke-width="0.7"/>
<line x1="94.69" y1="43.05" x2="97.89" y2="43.05" stroke="#3aa886" stroke-width="0.7"/>
<circle cx="96.29" cy="41.05" r="2.15" fill="#3aa886" stroke="none" stroke-width="1"/>
<line x1="103.4" y1="40.44" x2="103.4" y2="44.44" stroke="#3aa886" stroke-width="0.7"/>
<line x1="101.8" y1="40.44" x2="105" y2="40.44" stroke="#3aa886" stroke-width="0.7"/>
<line x1="101.8" y1="44.44" x2="105" y2="44.44" stroke="#3aa886" stroke-width="0.7"/>
<circle cx="103.4" cy="42.44" r="2.15" fill="#3aa886" stroke="none" stroke-width="1"/>
<line x1="110.51" y1="77.51" x2="110.51" y2="81.51" stroke="#3aa886" stroke-width="0.7"/>
<line x1="108.91" y1="77.51" x2="112.11" y2="77.51" stroke="#3aa886" stroke-width="0.7"/>
<line x1="108.91" y1="81.51" x2="112.11" y2="81.51" stroke="#3aa886" stroke-width="0.7"/>
<circle cx="110.51" cy="79.51" r="2.15" fill="#3aa886" stroke="none" stroke-width="1"/>
<line x1="117.62" y1="76.83" x2="117.62" y2="80.83" stroke="#3aa886" stroke-width="0.7"/>
<line x1="116.03" y1="76.83" x2="119.22" y2="76.83" stroke="#3aa886" stroke-width="0.7"/>
<line x1="116.03" y1="80.83" x2="119.22" y2="80.83" stroke="#3aa886" stroke-width="0.7"/>
<circle cx="117.62" cy="78.83" r="2.15" fill="#3aa886" stroke="none" stroke-width="1"/>
<line x1="124.74" y1="42.51" x2="124.74" y2="46.51" stroke="#3aa886" stroke-width="0.7"/>
<line x1="123.14" y1="42.51" x2="126.34" y2="42.51" stroke="#3aa886" stroke-width="0.7"/>
<line x1="123.14" y1="46.51" x2="126.34" y2="46.51" stroke="#3aa886" stroke-width="0.7"/>
<circle cx="124.74" cy="44.51" r="2.15" fill="#3aa886" stroke="none" stroke-width="1"/>
<line x1="131.85" y1="42.7" x2="131.85" y2="46.7" stroke="#3aa886" stroke-width="0.7"/>
<line x1="130.25" y1="42.7" x2="133.45" y2="42.7" stroke="#3aa886" stroke-width="0.7"/>
<line x1="130.25" y1="46.7" x2="133.45" y2="46.7" stroke="#3aa886" stroke-width="0.7"/>
<circle cx="131.85" cy="44.7" r="2.15" fill="#3aa886" stroke="none" stroke-width="1"/>
<line x1="138.96" y1="73.74" x2="138.96" y2="77.74" stroke="#3aa886" stroke-width="0.7"/>
<line x1="137.36" y1="73.74" x2="140.56" y2="73.74" stroke="#3aa886" stroke-width="0.7"/>
<line x1="137.36" y1="77.74" x2="140.56" y2="77.74" stroke="#3aa886" stroke-width="0.7"/>
<circle cx="138.96" cy="75.74" r="2.15" fill="#3aa886" stroke="none" stroke-width="1"/>
<line x1="146.07" y1="73.67" x2="146.07" y2="77.67" stroke="#3aa886" stroke-width="0.7"/>
<line x1="144.47" y1="73.67" x2="147.67" y2="73.67" stroke="#3aa886" stroke-width="0.7"/>
<line x1="144.47" y1="77.67" x2="147.67" y2="77.67" stroke="#3aa886" stroke-width="0.7"/>
<circle cx="146.07" cy="75.67" r="2.15" fill="#3aa886" stroke="none" stroke-width="1"/>
<line x1="153.19" y1="46.01" x2="153.19" y2="50.01" stroke="#3aa886" stroke-width="0.7"/>
<line x1="151.59" y1="46.01" x2="154.79" y2="46.01" stroke="#3aa886" stroke-width="0.7"/>
<line x1="151.59" y1="50.01" x2="154.79" y2="50.01" stroke="#3aa886" stroke-width="0.7"/>
<circle cx="153.19" cy="48.01" r="2.15" fill="#3aa886" stroke="none" stroke-width="1"/>
<line x1="160.3" y1="46.15" x2="160.3" y2="50.15" stroke="#3aa886" stroke-width="0.7"/>
<line x1="158.7" y1="46.15" x2="161.9" y2="46.15" stroke="#3aa886" stroke-width="0.7"/>
<line x1="158.7" y1="50.15" x2="161.9" y2="50.15" stroke="#3aa886" stroke-width="0.7"/>
<circle cx="160.3" cy="48.15" r="2.15" fill="#3aa886" stroke="none" stroke-width="1"/>
<line x1="167.41" y1="71.54" x2="167.41" y2="75.54" stroke="#3aa886" stroke-width="0.7"/>
<line x1="165.81" y1="71.54" x2="169.01" y2="71.54" stroke="#3aa886" stroke-width="0.7"/>
<line x1="165.81" y1="75.54" x2="169.01" y2="75.54" stroke="#3aa886" stroke-width="0.7"/>
<circle cx="167.41" cy="73.54" r="2.15" fill="#3aa886" stroke="none" stroke-width="1"/>
<line x1="174.53" y1="70.59" x2="174.53" y2="74.59" stroke="#3aa886" stroke-width="0.7"/>
<line x1="172.93" y1="70.59" x2="176.12" y2="70.59" stroke="#3aa886" stroke-width="0.7"/>
<line x1="172.93" y1="74.59" x2="176.12" y2="74.59" stroke="#3aa886" stroke-width="0.7"/>
<circle cx="174.53" cy="72.59" r="2.15" fill="#3aa886" stroke="none" stroke-width="1"/>
<line x1="181.64" y1="48.5" x2="181.64" y2="52.5" stroke="#3aa886" stroke-width="0.7"/>
<line x1="180.04" y1="48.5" x2="183.24" y2="48.5" stroke="#3aa886" stroke-width="0.7"/>
<line x1="180.04" y1="52.5" x2="183.24" y2="52.5" stroke="#3aa886" stroke-width="0.7"/>
<circle cx="181.64" cy="50.5" r="2.15" fill="#3aa886" stroke="none" stroke-width="1"/>
<line x1="188.75" y1="48.37" x2="188.75" y2="52.37" stroke="#3aa886" stroke-width="0.7"/>
<line x1="187.15" y1="48.37" x2="190.35" y2="48.37" stroke="#3aa886" stroke-width="0.7"/>
<line x1="187.15" y1="52.37" x2="190.35" y2="52.37" stroke="#3aa886" stroke-width="0.7"/>
<circle cx="188.75" cy="50.37" r="2.15" fill="#3aa886" stroke="none" stroke-width="1"/>
<line x1="195.86" y1="68.92" x2="195.86" y2="72.92" stroke="#3aa886" stroke-width="0.7"/>
<line x1="194.26" y1="68.92" x2="197.46" y2="68.92" stroke="#3aa886" stroke-width="0.7"/>
<line x1="194.26" y1="72.92" x2="197.46" y2="72.92" stroke="#3aa886" stroke-width="0.7"/>
<circle cx="195.86" cy="70.92" r="2.15" fill="#3aa886" stroke="none" stroke-width="1"/>
<line x1="202.97" y1="69.13" x2="202.97" y2="73.13" stroke="#3aa886" stroke-width="0.7"/>
<line x1="201.38" y1="69.13" x2="204.57" y2="69.13" stroke="#3aa886" stroke-width="0.7"/>
<line x1="201.38" y1="73.13" x2="204.57" y2="73.13" stroke="#3aa886" stroke-width="0.7"/>
<circle cx="202.97" cy="71.13" r="2.15" fill="#3aa886" stroke="none" stroke-width="1"/>
<line x1="210.09" y1="50.1" x2="210.09" y2="54.1" stroke="#3aa886" stroke-width="0.7"/>
<line x1="208.49" y1="50.1" x2="211.69" y2="50.1" stroke="#3aa886" stroke-width="0.7"/>
<line x1="208.49" y1="54.1" x2="211.69" y2="54.1" stroke="#3aa886" stroke-width="0.7"/>
<circle cx="210.09" cy="52.1" r="2.15" fill="#3aa886" stroke="none" stroke-width="1"/>
<line x1="217.2" y1="50.64" x2="217.2" y2="54.64" stroke="#3aa886" stroke-width="0.7"/>
<line x1="215.6" y1="50.64" x2="218.8" y2="50.64" stroke="#3aa886" stroke-width="0.7"/>
<line x1="215.6" y1="54.64" x2="218.8" y2="54.64" stroke="#3aa886" stroke-width="0.7"/>
<circle cx="217.2" cy="52.64" r="2.15" fill="#3aa886" stroke="none" stroke-width="1"/>
<line x1="224.31" y1="67.63" x2="224.31" y2="71.63" stroke="#3aa886" stroke-width="0.7"/>
<line x1="222.71" y1="67.63" x2="225.91" y2="67.63" stroke="#3aa886" stroke-width="0.7"/>
<line x1="222.71" y1="71.63" x2="225.91" y2="71.63" stroke="#3aa886" stroke-width="0.7"/>
<circle cx="224.31" cy="69.63" r="2.15" fill="#3aa886" stroke="none" stroke-width="1"/>
<line x1="231.43" y1="68.09" x2="231.43" y2="72.09" stroke="#3aa886" stroke-width="0.7"/>
<line x1="229.83" y1="68.09" x2="233.03" y2="68.09" stroke="#3aa886" stroke-width="0.7"/>
<line x1="229.83" y1="72.09" x2="233.03" y2="72.09" stroke="#3aa886" stroke-width="0.7"/>
<circle cx="231.43" cy="70.09" r="2.15" fill="#3aa886" stroke="none" stroke-width="1"/>
<line x1="238.54" y1="51.76" x2="238.54" y2="55.76" stroke="#3aa886" stroke-width="0.7"/>
<line x1="236.94" y1="51.76" x2="240.14" y2="51.76" stroke="#3aa886" stroke-width="0.7"/>
<line x1="236.94" y1="55.76" x2="240.14" y2="55.76" stroke="#3aa886" stroke-width="0.7"/>
<circle cx="238.54" cy="53.76" r="2.15" fill="#3aa886" stroke="none" stroke-width="1"/>
<line x1="245.65" y1="51.82" x2="245.65" y2="55.82" stroke="#3aa886" stroke-width="0.7"/>
<line x1="244.05" y1="51.82" x2="247.25" y2="51.82" stroke="#3aa886" stroke-width="0.7"/>
<line x1="244.05" y1="55.82" x2="247.25" y2="55.82" stroke="#3aa886" stroke-width="0.7"/>
<circle cx="245.65" cy="53.82" r="2.15" fill="#3aa886" stroke="none" stroke-width="1"/>
<line x1="252.76" y1="67" x2="252.76" y2="71" stroke="#3aa886" stroke-width="0.7"/>
<line x1="251.16" y1="67" x2="254.36" y2="67" stroke="#3aa886" stroke-width="0.7"/>
<line x1="251.16" y1="71" x2="254.36" y2="71" stroke="#3aa886" stroke-width="0.7"/>
<circle cx="252.76" cy="69" r="2.15" fill="#3aa886" stroke="none" stroke-width="1"/>
<line x1="259.88" y1="66.56" x2="259.88" y2="70.56" stroke="#3aa886" stroke-width="0.7"/>
<line x1="258.27" y1="66.56" x2="261.48" y2="66.56" stroke="#3aa886" stroke-width="0.7"/>
<line x1="258.27" y1="70.56" x2="261.48" y2="70.56" stroke="#3aa886" stroke-width="0.7"/>
<circle cx="259.88" cy="68.56" r="2.15" fill="#3aa886" stroke="none" stroke-width="1"/>
<line x1="266.99" y1="54.27" x2="266.99" y2="58.27" stroke="#3aa886" stroke-width="0.7"/>
<line x1="265.39" y1="54.27" x2="268.59" y2="54.27" stroke="#3aa886" stroke-width="0.7"/>
<line x1="265.39" y1="58.27" x2="268.59" y2="58.27" stroke="#3aa886" stroke-width="0.7"/>
<circle cx="266.99" cy="56.27" r="2.15" fill="#3aa886" stroke="none" stroke-width="1"/>
<line x1="274.1" y1="54.54" x2="274.1" y2="58.54" stroke="#3aa886" stroke-width="0.7"/>
<line x1="272.5" y1="54.54" x2="275.7" y2="54.54" stroke="#3aa886" stroke-width="0.7"/>
<line x1="272.5" y1="58.54" x2="275.7" y2="58.54" stroke="#3aa886" stroke-width="0.7"/>
<circle cx="274.1" cy="56.54" r="2.15" fill="#3aa886" stroke="none" stroke-width="1"/>
<line x1="281.21" y1="65.06" x2="281.21" y2="69.06" stroke="#3aa886" stroke-width="0.7"/>
<line x1="279.61" y1="65.06" x2="282.81" y2="65.06" stroke="#3aa886" stroke-width="0.7"/>
<line x1="279.61" y1="69.06" x2="282.81" y2="69.06" stroke="#3aa886" stroke-width="0.7"/>
<circle cx="281.21" cy="67.06" r="2.15" fill="#3aa886" stroke="none" stroke-width="1"/>
<line x1="288.32" y1="64.95" x2="288.32" y2="68.95" stroke="#3aa886" stroke-width="0.7"/>
<line x1="286.72" y1="64.95" x2="289.93" y2="64.95" stroke="#3aa886" stroke-width="0.7"/>
<line x1="286.72" y1="68.95" x2="289.93" y2="68.95" stroke="#3aa886" stroke-width="0.7"/>
<circle cx="288.32" cy="66.95" r="2.15" fill="#3aa886" stroke="none" stroke-width="1"/>
<line x1="295.44" y1="54.92" x2="295.44" y2="58.92" stroke="#3aa886" stroke-width="0.7"/>
<line x1="293.84" y1="54.92" x2="297.04" y2="54.92" stroke="#3aa886" stroke-width="0.7"/>
<line x1="293.84" y1="58.92" x2="297.04" y2="58.92" stroke="#3aa886" stroke-width="0.7"/>
<circle cx="295.44" cy="56.92" r="2.15" fill="#3aa886" stroke="none" stroke-width="1"/>
<line x1="302.55" y1="55.63" x2="302.55" y2="59.63" stroke="#3aa886" stroke-width="0.7"/>
<line x1="300.95" y1="55.63" x2="304.15" y2="55.63" stroke="#3aa886" stroke-width="0.7"/>
<line x1="300.95" y1="59.63" x2="304.15" y2="59.63" stroke="#3aa886" stroke-width="0.7"/>
<circle cx="302.55" cy="57.63" r="2.15" fill="#3aa886" stroke="none" stroke-width="1"/>
<line x1="309.66" y1="62.65" x2="309.66" y2="66.65" stroke="#3aa886" stroke-width="0.7"/>
<line x1="308.06" y1="62.65" x2="311.26" y2="62.65" stroke="#3aa886" stroke-width="0.7"/>
<line x1="308.06" y1="66.65" x2="311.26" y2="66.65" stroke="#3aa886" stroke-width="0.7"/>
<circle cx="309.66" cy="64.65" r="2.15" fill="#3aa886" stroke="none" stroke-width="1"/>
<line x1="316.77" y1="62.87" x2="316.77" y2="66.87" stroke="#3aa886" stroke-width="0.7"/>
<line x1="315.17" y1="62.87" x2="318.38" y2="62.87" stroke="#3aa886" stroke-width="0.7"/>
<line x1="315.17" y1="66.87" x2="318.38" y2="66.87" stroke="#3aa886" stroke-width="0.7"/>
<circle cx="316.77" cy="64.87" r="2.15" fill="#3aa886" stroke="none" stroke-width="1"/>
<line x1="323.89" y1="56.55" x2="323.89" y2="60.55" stroke="#3aa886" stroke-width="0.7"/>
<line x1="322.29" y1="56.55" x2="325.49" y2="56.55" stroke="#3aa886" stroke-width="0.7"/>
<line x1="322.29" y1="60.55" x2="325.49" y2="60.55" stroke="#3aa886" stroke-width="0.7"/>
<circle cx="323.89" cy="58.55" r="2.15" fill="#3aa886" stroke="none" stroke-width="1"/>
<line x1="331" y1="56.56" x2="331" y2="60.56" stroke="#3aa886" stroke-width="0.7"/>
<line x1="329.4" y1="56.56" x2="332.6" y2="56.56" stroke="#3aa886" stroke-width="0.7"/>
<line x1="329.4" y1="60.56" x2="332.6" y2="60.56" stroke="#3aa886" stroke-width="0.7"/>
<circle cx="331" cy="58.56" r="2.15" fill="#3aa886" stroke="none" stroke-width="1"/>
<polyline points="46.5,33.5 53.61,89.13 60.73,86.97 67.84,35.69 74.95,37.91 82.06,84.4 89.17,82.89 96.29,40.9 103.4,42.15 110.51,79.77 117.62,79.09 124.74,44.19 131.85,45.15 138.96,76.25 146.07,75.29 153.19,48.21 160.3,48.82 167.41,72.79 174.53,72.94 181.64,51.27 188.75,50.95 195.86,70.05 202.97,69.85 210.09,53.38 217.2,53.67 224.31,68.11 231.43,67.25 238.54,55.95 245.65,54.12 252.76,65.15 259.88,64.86 266.99,58.32 274.1,59.66 281.21,64.91 288.32,63.21 295.44,59.31 302.55,58.58 309.66,61.35 316.77,62.35 323.89,62.45 331,60.2" fill="none" stroke="#d8404a" stroke-width="0.75" stroke-linejoin="round"/>
<circle cx="46.5" cy="33.5" r="2.15" fill="#d8404a" stroke="none" stroke-width="1"/>
<line x1="53.61" y1="87.13" x2="53.61" y2="91.13" stroke="#d8404a" stroke-width="0.7"/>
<line x1="52.01" y1="87.13" x2="55.21" y2="87.13" stroke="#d8404a" stroke-width="0.7"/>
<line x1="52.01" y1="91.13" x2="55.21" y2="91.13" stroke="#d8404a" stroke-width="0.7"/>
<circle cx="53.61" cy="89.13" r="2.15" fill="#d8404a" stroke="none" stroke-width="1"/>
<line x1="60.73" y1="84.97" x2="60.73" y2="88.97" stroke="#d8404a" stroke-width="0.7"/>
<line x1="59.12" y1="84.97" x2="62.33" y2="84.97" stroke="#d8404a" stroke-width="0.7"/>
<line x1="59.12" y1="88.97" x2="62.33" y2="88.97" stroke="#d8404a" stroke-width="0.7"/>
<circle cx="60.73" cy="86.97" r="2.15" fill="#d8404a" stroke="none" stroke-width="1"/>
<line x1="67.84" y1="33.69" x2="67.84" y2="37.69" stroke="#d8404a" stroke-width="0.7"/>
<line x1="66.24" y1="33.69" x2="69.44" y2="33.69" stroke="#d8404a" stroke-width="0.7"/>
<line x1="66.24" y1="37.69" x2="69.44" y2="37.69" stroke="#d8404a" stroke-width="0.7"/>
<circle cx="67.84" cy="35.69" r="2.15" fill="#d8404a" stroke="none" stroke-width="1"/>
<line x1="74.95" y1="35.91" x2="74.95" y2="39.91" stroke="#d8404a" stroke-width="0.7"/>
<line x1="73.35" y1="35.91" x2="76.55" y2="35.91" stroke="#d8404a" stroke-width="0.7"/>
<line x1="73.35" y1="39.91" x2="76.55" y2="39.91" stroke="#d8404a" stroke-width="0.7"/>
<circle cx="74.95" cy="37.91" r="2.15" fill="#d8404a" stroke="none" stroke-width="1"/>
<line x1="82.06" y1="82.4" x2="82.06" y2="86.4" stroke="#d8404a" stroke-width="0.7"/>
<line x1="80.46" y1="82.4" x2="83.66" y2="82.4" stroke="#d8404a" stroke-width="0.7"/>
<line x1="80.46" y1="86.4" x2="83.66" y2="86.4" stroke="#d8404a" stroke-width="0.7"/>
<circle cx="82.06" cy="84.4" r="2.15" fill="#d8404a" stroke="none" stroke-width="1"/>
<line x1="89.17" y1="80.89" x2="89.17" y2="84.89" stroke="#d8404a" stroke-width="0.7"/>
<line x1="87.58" y1="80.89" x2="90.77" y2="80.89" stroke="#d8404a" stroke-width="0.7"/>
<line x1="87.58" y1="84.89" x2="90.77" y2="84.89" stroke="#d8404a" stroke-width="0.7"/>
<circle cx="89.17" cy="82.89" r="2.15" fill="#d8404a" stroke="none" stroke-width="1"/>
<line x1="96.29" y1="38.9" x2="96.29" y2="42.9" stroke="#d8404a" stroke-width="0.7"/>
<line x1="94.69" y1="38.9" x2="97.89" y2="38.9" stroke="#d8404a" stroke-width="0.7"/>
<line x1="94.69" y1="42.9" x2="97.89" y2="42.9" stroke="#d8404a" stroke-width="0.7"/>
<circle cx="96.29" cy="40.9" r="2.15" fill="#d8404a" stroke="none" stroke-width="1"/>
<line x1="103.4" y1="40.15" x2="103.4" y2="44.15" stroke="#d8404a" stroke-width="0.7"/>
<line x1="101.8" y1="40.15" x2="105" y2="40.15" stroke="#d8404a" stroke-width="0.7"/>
<line x1="101.8" y1="44.15" x2="105" y2="44.15" stroke="#d8404a" stroke-width="0.7"/>
<circle cx="103.4" cy="42.15" r="2.15" fill="#d8404a" stroke="none" stroke-width="1"/>
<line x1="110.51" y1="77.77" x2="110.51" y2="81.77" stroke="#d8404a" stroke-width="0.7"/>
<line x1="108.91" y1="77.77" x2="112.11" y2="77.77" stroke="#d8404a" stroke-width="0.7"/>
<line x1="108.91" y1="81.77" x2="112.11" y2="81.77" stroke="#d8404a" stroke-width="0.7"/>
<circle cx="110.51" cy="79.77" r="2.15" fill="#d8404a" stroke="none" stroke-width="1"/>
<line x1="117.62" y1="77.09" x2="117.62" y2="81.09" stroke="#d8404a" stroke-width="0.7"/>
<line x1="116.03" y1="77.09" x2="119.22" y2="77.09" stroke="#d8404a" stroke-width="0.7"/>
<line x1="116.03" y1="81.09" x2="119.22" y2="81.09" stroke="#d8404a" stroke-width="0.7"/>
<circle cx="117.62" cy="79.09" r="2.15" fill="#d8404a" stroke="none" stroke-width="1"/>
<line x1="124.74" y1="42.19" x2="124.74" y2="46.19" stroke="#d8404a" stroke-width="0.7"/>
<line x1="123.14" y1="42.19" x2="126.34" y2="42.19" stroke="#d8404a" stroke-width="0.7"/>
<line x1="123.14" y1="46.19" x2="126.34" y2="46.19" stroke="#d8404a" stroke-width="0.7"/>
<circle cx="124.74" cy="44.19" r="2.15" fill="#d8404a" stroke="none" stroke-width="1"/>
<line x1="131.85" y1="43.15" x2="131.85" y2="47.15" stroke="#d8404a" stroke-width="0.7"/>
<line x1="130.25" y1="43.15" x2="133.45" y2="43.15" stroke="#d8404a" stroke-width="0.7"/>
<line x1="130.25" y1="47.15" x2="133.45" y2="47.15" stroke="#d8404a" stroke-width="0.7"/>
<circle cx="131.85" cy="45.15" r="2.15" fill="#d8404a" stroke="none" stroke-width="1"/>
<line x1="138.96" y1="74.25" x2="138.96" y2="78.25" stroke="#d8404a" stroke-width="0.7"/>
<line x1="137.36" y1="74.25" x2="140.56" y2="74.25" stroke="#d8404a" stroke-width="0.7"/>
<line x1="137.36" y1="78.25" x2="140.56" y2="78.25" stroke="#d8404a" stroke-width="0.7"/>
<circle cx="138.96" cy="76.25" r="2.15" fill="#d8404a" stroke="none" stroke-width="1"/>
<line x1="146.07" y1="73.29" x2="146.07" y2="77.29" stroke="#d8404a" stroke-width="0.7"/>
<line x1="144.47" y1="73.29" x2="147.67" y2="73.29" stroke="#d8404a" stroke-width="0.7"/>
<line x1="144.47" y1="77.29" x2="147.67" y2="77.29" stroke="#d8404a" stroke-width="0.7"/>
<circle cx="146.07" cy="75.29" r="2.15" fill="#d8404a" stroke="none" stroke-width="1"/>
<line x1="153.19" y1="46.21" x2="153.19" y2="50.21" stroke="#d8404a" stroke-width="0.7"/>
<line x1="151.59" y1="46.21" x2="154.79" y2="46.21" stroke="#d8404a" stroke-width="0.7"/>
<line x1="151.59" y1="50.21" x2="154.79" y2="50.21" stroke="#d8404a" stroke-width="0.7"/>
<circle cx="153.19" cy="48.21" r="2.15" fill="#d8404a" stroke="none" stroke-width="1"/>
<line x1="160.3" y1="46.82" x2="160.3" y2="50.82" stroke="#d8404a" stroke-width="0.7"/>
<line x1="158.7" y1="46.82" x2="161.9" y2="46.82" stroke="#d8404a" stroke-width="0.7"/>
<line x1="158.7" y1="50.82" x2="161.9" y2="50.82" stroke="#d8404a" stroke-width="0.7"/>
<circle cx="160.3" cy="48.82" r="2.15" fill="#d8404a" stroke="none" stroke-width="1"/>
<line x1="167.41" y1="70.79" x2="167.41" y2="74.79" stroke="#d8404a" stroke-width="0.7"/>
<line x1="165.81" y1="70.79" x2="169.01" y2="70.79" stroke="#d8404a" stroke-width="0.7"/>
<line x1="165.81" y1="74.79" x2="169.01" y2="74.79" stroke="#d8404a" stroke-width="0.7"/>
<circle cx="167.41" cy="72.79" r="2.15" fill="#d8404a" stroke="none" stroke-width="1"/>
<line x1="174.53" y1="70.94" x2="174.53" y2="74.94" stroke="#d8404a" stroke-width="0.7"/>
<line x1="172.93" y1="70.94" x2="176.12" y2="70.94" stroke="#d8404a" stroke-width="0.7"/>
<line x1="172.93" y1="74.94" x2="176.12" y2="74.94" stroke="#d8404a" stroke-width="0.7"/>
<circle cx="174.53" cy="72.94" r="2.15" fill="#d8404a" stroke="none" stroke-width="1"/>
<line x1="181.64" y1="49.27" x2="181.64" y2="53.27" stroke="#d8404a" stroke-width="0.7"/>
<line x1="180.04" y1="49.27" x2="183.24" y2="49.27" stroke="#d8404a" stroke-width="0.7"/>
<line x1="180.04" y1="53.27" x2="183.24" y2="53.27" stroke="#d8404a" stroke-width="0.7"/>
<circle cx="181.64" cy="51.27" r="2.15" fill="#d8404a" stroke="none" stroke-width="1"/>
<line x1="188.75" y1="48.95" x2="188.75" y2="52.95" stroke="#d8404a" stroke-width="0.7"/>
<line x1="187.15" y1="48.95" x2="190.35" y2="48.95" stroke="#d8404a" stroke-width="0.7"/>
<line x1="187.15" y1="52.95" x2="190.35" y2="52.95" stroke="#d8404a" stroke-width="0.7"/>
<circle cx="188.75" cy="50.95" r="2.15" fill="#d8404a" stroke="none" stroke-width="1"/>
<line x1="195.86" y1="68.05" x2="195.86" y2="72.05" stroke="#d8404a" stroke-width="0.7"/>
<line x1="194.26" y1="68.05" x2="197.46" y2="68.05" stroke="#d8404a" stroke-width="0.7"/>
<line x1="194.26" y1="72.05" x2="197.46" y2="72.05" stroke="#d8404a" stroke-width="0.7"/>
<circle cx="195.86" cy="70.05" r="2.15" fill="#d8404a" stroke="none" stroke-width="1"/>
<line x1="202.97" y1="67.85" x2="202.97" y2="71.85" stroke="#d8404a" stroke-width="0.7"/>
<line x1="201.38" y1="67.85" x2="204.57" y2="67.85" stroke="#d8404a" stroke-width="0.7"/>
<line x1="201.38" y1="71.85" x2="204.57" y2="71.85" stroke="#d8404a" stroke-width="0.7"/>
<circle cx="202.97" cy="69.85" r="2.15" fill="#d8404a" stroke="none" stroke-width="1"/>
<line x1="210.09" y1="51.38" x2="210.09" y2="55.38" stroke="#d8404a" stroke-width="0.7"/>
<line x1="208.49" y1="51.38" x2="211.69" y2="51.38" stroke="#d8404a" stroke-width="0.7"/>
<line x1="208.49" y1="55.38" x2="211.69" y2="55.38" stroke="#d8404a" stroke-width="0.7"/>
<circle cx="210.09" cy="53.38" r="2.15" fill="#d8404a" stroke="none" stroke-width="1"/>
<line x1="217.2" y1="51.67" x2="217.2" y2="55.67" stroke="#d8404a" stroke-width="0.7"/>
<line x1="215.6" y1="51.67" x2="218.8" y2="51.67" stroke="#d8404a" stroke-width="0.7"/>
<line x1="215.6" y1="55.67" x2="218.8" y2="55.67" stroke="#d8404a" stroke-width="0.7"/>
<circle cx="217.2" cy="53.67" r="2.15" fill="#d8404a" stroke="none" stroke-width="1"/>
<line x1="224.31" y1="66.11" x2="224.31" y2="70.11" stroke="#d8404a" stroke-width="0.7"/>
<line x1="222.71" y1="66.11" x2="225.91" y2="66.11" stroke="#d8404a" stroke-width="0.7"/>
<line x1="222.71" y1="70.11" x2="225.91" y2="70.11" stroke="#d8404a" stroke-width="0.7"/>
<circle cx="224.31" cy="68.11" r="2.15" fill="#d8404a" stroke="none" stroke-width="1"/>
<line x1="231.43" y1="65.25" x2="231.43" y2="69.25" stroke="#d8404a" stroke-width="0.7"/>
<line x1="229.83" y1="65.25" x2="233.03" y2="65.25" stroke="#d8404a" stroke-width="0.7"/>
<line x1="229.83" y1="69.25" x2="233.03" y2="69.25" stroke="#d8404a" stroke-width="0.7"/>
<circle cx="231.43" cy="67.25" r="2.15" fill="#d8404a" stroke="none" stroke-width="1"/>
<line x1="238.54" y1="53.95" x2="238.54" y2="57.95" stroke="#d8404a" stroke-width="0.7"/>
<line x1="236.94" y1="53.95" x2="240.14" y2="53.95" stroke="#d8404a" stroke-width="0.7"/>
<line x1="236.94" y1="57.95" x2="240.14" y2="57.95" stroke="#d8404a" stroke-width="0.7"/>
<circle cx="238.54" cy="55.95" r="2.15" fill="#d8404a" stroke="none" stroke-width="1"/>
<line x1="245.65" y1="52.12" x2="245.65" y2="56.12" stroke="#d8404a" stroke-width="0.7"/>
<line x1="244.05" y1="52.12" x2="247.25" y2="52.12" stroke="#d8404a" stroke-width="0.7"/>
<line x1="244.05" y1="56.12" x2="247.25" y2="56.12" stroke="#d8404a" stroke-width="0.7"/>
<circle cx="245.65" cy="54.12" r="2.15" fill="#d8404a" stroke="none" stroke-width="1"/>
<line x1="252.76" y1="63.15" x2="252.76" y2="67.15" stroke="#d8404a" stroke-width="0.7"/>
<line x1="251.16" y1="63.15" x2="254.36" y2="63.15" stroke="#d8404a" stroke-width="0.7"/>
<line x1="251.16" y1="67.15" x2="254.36" y2="67.15" stroke="#d8404a" stroke-width="0.7"/>
<circle cx="252.76" cy="65.15" r="2.15" fill="#d8404a" stroke="none" stroke-width="1"/>
<line x1="259.88" y1="62.86" x2="259.88" y2="66.86" stroke="#d8404a" stroke-width="0.7"/>
<line x1="258.27" y1="62.86" x2="261.48" y2="62.86" stroke="#d8404a" stroke-width="0.7"/>
<line x1="258.27" y1="66.86" x2="261.48" y2="66.86" stroke="#d8404a" stroke-width="0.7"/>
<circle cx="259.88" cy="64.86" r="2.15" fill="#d8404a" stroke="none" stroke-width="1"/>
<line x1="266.99" y1="56.32" x2="266.99" y2="60.32" stroke="#d8404a" stroke-width="0.7"/>
<line x1="265.39" y1="56.32" x2="268.59" y2="56.32" stroke="#d8404a" stroke-width="0.7"/>
<line x1="265.39" y1="60.32" x2="268.59" y2="60.32" stroke="#d8404a" stroke-width="0.7"/>
<circle cx="266.99" cy="58.32" r="2.15" fill="#d8404a" stroke="none" stroke-width="1"/>
<line x1="274.1" y1="57.66" x2="274.1" y2="61.66" stroke="#d8404a" stroke-width="0.7"/>
<line x1="272.5" y1="57.66" x2="275.7" y2="57.66" stroke="#d8404a" stroke-width="0.7"/>
<line x1="272.5" y1="61.66" x2="275.7" y2="61.66" stroke="#d8404a" stroke-width="0.7"/>
<circle cx="274.1" cy="59.66" r="2.15" fill="#d8404a" stroke="none" stroke-width="1"/>
<line x1="281.21" y1="62.91" x2="281.21" y2="66.91" stroke="#d8404a" stroke-width="0.7"/>
<line x1="279.61" y1="62.91" x2="282.81" y2="62.91" stroke="#d8404a" stroke-width="0.7"/>
<line x1="279.61" y1="66.91" x2="282.81" y2="66.91" stroke="#d8404a" stroke-width="0.7"/>
<circle cx="281.21" cy="64.91" r="2.15" fill="#d8404a" stroke="none" stroke-width="1"/>
<line x1="288.32" y1="61.21" x2="288.32" y2="65.21" stroke="#d8404a" stroke-width="0.7"/>
<line x1="286.72" y1="61.21" x2="289.93" y2="61.21" stroke="#d8404a" stroke-width="0.7"/>
<line x1="286.72" y1="65.21" x2="289.93" y2="65.21" stroke="#d8404a" stroke-width="0.7"/>
<circle cx="288.32" cy="63.21" r="2.15" fill="#d8404a" stroke="none" stroke-width="1"/>
<line x1="295.44" y1="57.31" x2="295.44" y2="61.31" stroke="#d8404a" stroke-width="0.7"/>
<line x1="293.84" y1="57.31" x2="297.04" y2="57.31" stroke="#d8404a" stroke-width="0.7"/>
<line x1="293.84" y1="61.31" x2="297.04" y2="61.31" stroke="#d8404a" stroke-width="0.7"/>
<circle cx="295.44" cy="59.31" r="2.15" fill="#d8404a" stroke="none" stroke-width="1"/>
<line x1="302.55" y1="56.58" x2="302.55" y2="60.58" stroke="#d8404a" stroke-width="0.7"/>
<line x1="300.95" y1="56.58" x2="304.15" y2="56.58" stroke="#d8404a" stroke-width="0.7"/>
<line x1="300.95" y1="60.58" x2="304.15" y2="60.58" stroke="#d8404a" stroke-width="0.7"/>
<circle cx="302.55" cy="58.58" r="2.15" fill="#d8404a" stroke="none" stroke-width="1"/>
<line x1="309.66" y1="59.35" x2="309.66" y2="63.35" stroke="#d8404a" stroke-width="0.7"/>
<line x1="308.06" y1="59.35" x2="311.26" y2="59.35" stroke="#d8404a" stroke-width="0.7"/>
<line x1="308.06" y1="63.35" x2="311.26" y2="63.35" stroke="#d8404a" stroke-width="0.7"/>
<circle cx="309.66" cy="61.35" r="2.15" fill="#d8404a" stroke="none" stroke-width="1"/>
<line x1="316.77" y1="60.35" x2="316.77" y2="64.35" stroke="#d8404a" stroke-width="0.7"/>
<line x1="315.17" y1="60.35" x2="318.38" y2="60.35" stroke="#d8404a" stroke-width="0.7"/>
<line x1="315.17" y1="64.35" x2="318.38" y2="64.35" stroke="#d8404a" stroke-width="0.7"/>
<circle cx="316.77" cy="62.35" r="2.15" fill="#d8404a" stroke="none" stroke-width="1"/>
<line x1="323.89" y1="60.45" x2="323.89" y2="64.45" stroke="#d8404a" stroke-width="0.7"/>
<line x1="322.29" y1="60.45" x2="325.49" y2="60.45" stroke="#d8404a" stroke-width="0.7"/>
<line x1="322.29" y1="64.45" x2="325.49" y2="64.45" stroke="#d8404a" stroke-width="0.7"/>
<circle cx="323.89" cy="62.45" r="2.15" fill="#d8404a" stroke="none" stroke-width="1"/>
<line x1="331" y1="58.2" x2="331" y2="62.2" stroke="#d8404a" stroke-width="0.7"/>
<line x1="329.4" y1="58.2" x2="332.6" y2="58.2" stroke="#d8404a" stroke-width="0.7"/>
<line x1="329.4" y1="62.2" x2="332.6" y2="62.2" stroke="#d8404a" stroke-width="0.7"/>
<circle cx="331" cy="60.2" r="2.15" fill="#d8404a" stroke="none" stroke-width="1"/>
<polyline points="46.5,33.5 53.61,89.04 60.73,86.69 67.84,35.8 74.95,38.35 82.06,84.29 89.17,82.73 96.29,40.39 103.4,41.55 110.51,80.06 117.62,79.66 124.74,43.54 131.85,44.16 138.96,76.68 146.07,76.5 153.19,46.93 160.3,46.97 167.41,74.22 174.53,74.37 181.64,49.43 188.75,49.25 195.86,73.5 202.97,72.7 210.09,49.44 217.2,50.2 224.31,71.87 231.43,71.65 238.54,50.22 245.65,50.63 252.76,71.55 259.88,72.07 266.99,53.5 274.1,52.21 281.21,69.5 288.32,69.66 295.44,52.79 302.55,53.56 309.66,68.03 316.77,68.07 323.89,55 331,54.96" fill="none" stroke="#7658a6" stroke-width="0.75" stroke-linejoin="round"/>
<circle cx="46.5" cy="33.5" r="2.15" fill="#7658a6" stroke="none" stroke-width="1"/>
<line x1="53.61" y1="87.04" x2="53.61" y2="91.04" stroke="#7658a6" stroke-width="0.7"/>
<line x1="52.01" y1="87.04" x2="55.21" y2="87.04" stroke="#7658a6" stroke-width="0.7"/>
<line x1="52.01" y1="91.04" x2="55.21" y2="91.04" stroke="#7658a6" stroke-width="0.7"/>
<circle cx="53.61" cy="89.04" r="2.15" fill="#7658a6" stroke="none" stroke-width="1"/>
<line x1="60.73" y1="84.69" x2="60.73" y2="88.69" stroke="#7658a6" stroke-width="0.7"/>
<line x1="59.12" y1="84.69" x2="62.33" y2="84.69" stroke="#7658a6" stroke-width="0.7"/>
<line x1="59.12" y1="88.69" x2="62.33" y2="88.69" stroke="#7658a6" stroke-width="0.7"/>
<circle cx="60.73" cy="86.69" r="2.15" fill="#7658a6" stroke="none" stroke-width="1"/>
<line x1="67.84" y1="33.8" x2="67.84" y2="37.8" stroke="#7658a6" stroke-width="0.7"/>
<line x1="66.24" y1="33.8" x2="69.44" y2="33.8" stroke="#7658a6" stroke-width="0.7"/>
<line x1="66.24" y1="37.8" x2="69.44" y2="37.8" stroke="#7658a6" stroke-width="0.7"/>
<circle cx="67.84" cy="35.8" r="2.15" fill="#7658a6" stroke="none" stroke-width="1"/>
<line x1="74.95" y1="36.35" x2="74.95" y2="40.35" stroke="#7658a6" stroke-width="0.7"/>
<line x1="73.35" y1="36.35" x2="76.55" y2="36.35" stroke="#7658a6" stroke-width="0.7"/>
<line x1="73.35" y1="40.35" x2="76.55" y2="40.35" stroke="#7658a6" stroke-width="0.7"/>
<circle cx="74.95" cy="38.35" r="2.15" fill="#7658a6" stroke="none" stroke-width="1"/>
<line x1="82.06" y1="82.29" x2="82.06" y2="86.29" stroke="#7658a6" stroke-width="0.7"/>
<line x1="80.46" y1="82.29" x2="83.66" y2="82.29" stroke="#7658a6" stroke-width="0.7"/>
<line x1="80.46" y1="86.29" x2="83.66" y2="86.29" stroke="#7658a6" stroke-width="0.7"/>
<circle cx="82.06" cy="84.29" r="2.15" fill="#7658a6" stroke="none" stroke-width="1"/>
<line x1="89.17" y1="80.73" x2="89.17" y2="84.73" stroke="#7658a6" stroke-width="0.7"/>
<line x1="87.58" y1="80.73" x2="90.77" y2="80.73" stroke="#7658a6" stroke-width="0.7"/>
<line x1="87.58" y1="84.73" x2="90.77" y2="84.73" stroke="#7658a6" stroke-width="0.7"/>
<circle cx="89.17" cy="82.73" r="2.15" fill="#7658a6" stroke="none" stroke-width="1"/>
<line x1="96.29" y1="38.39" x2="96.29" y2="42.39" stroke="#7658a6" stroke-width="0.7"/>
<line x1="94.69" y1="38.39" x2="97.89" y2="38.39" stroke="#7658a6" stroke-width="0.7"/>
<line x1="94.69" y1="42.39" x2="97.89" y2="42.39" stroke="#7658a6" stroke-width="0.7"/>
<circle cx="96.29" cy="40.39" r="2.15" fill="#7658a6" stroke="none" stroke-width="1"/>
<line x1="103.4" y1="39.55" x2="103.4" y2="43.55" stroke="#7658a6" stroke-width="0.7"/>
<line x1="101.8" y1="39.55" x2="105" y2="39.55" stroke="#7658a6" stroke-width="0.7"/>
<line x1="101.8" y1="43.55" x2="105" y2="43.55" stroke="#7658a6" stroke-width="0.7"/>
<circle cx="103.4" cy="41.55" r="2.15" fill="#7658a6" stroke="none" stroke-width="1"/>
<line x1="110.51" y1="78.06" x2="110.51" y2="82.06" stroke="#7658a6" stroke-width="0.7"/>
<line x1="108.91" y1="78.06" x2="112.11" y2="78.06" stroke="#7658a6" stroke-width="0.7"/>
<line x1="108.91" y1="82.06" x2="112.11" y2="82.06" stroke="#7658a6" stroke-width="0.7"/>
<circle cx="110.51" cy="80.06" r="2.15" fill="#7658a6" stroke="none" stroke-width="1"/>
<line x1="117.62" y1="77.66" x2="117.62" y2="81.66" stroke="#7658a6" stroke-width="0.7"/>
<line x1="116.03" y1="77.66" x2="119.22" y2="77.66" stroke="#7658a6" stroke-width="0.7"/>
<line x1="116.03" y1="81.66" x2="119.22" y2="81.66" stroke="#7658a6" stroke-width="0.7"/>
<circle cx="117.62" cy="79.66" r="2.15" fill="#7658a6" stroke="none" stroke-width="1"/>
<line x1="124.74" y1="41.54" x2="124.74" y2="45.54" stroke="#7658a6" stroke-width="0.7"/>
<line x1="123.14" y1="41.54" x2="126.34" y2="41.54" stroke="#7658a6" stroke-width="0.7"/>
<line x1="123.14" y1="45.54" x2="126.34" y2="45.54" stroke="#7658a6" stroke-width="0.7"/>
<circle cx="124.74" cy="43.54" r="2.15" fill="#7658a6" stroke="none" stroke-width="1"/>
<line x1="131.85" y1="42.16" x2="131.85" y2="46.16" stroke="#7658a6" stroke-width="0.7"/>
<line x1="130.25" y1="42.16" x2="133.45" y2="42.16" stroke="#7658a6" stroke-width="0.7"/>
<line x1="130.25" y1="46.16" x2="133.45" y2="46.16" stroke="#7658a6" stroke-width="0.7"/>
<circle cx="131.85" cy="44.16" r="2.15" fill="#7658a6" stroke="none" stroke-width="1"/>
<line x1="138.96" y1="74.68" x2="138.96" y2="78.68" stroke="#7658a6" stroke-width="0.7"/>
<line x1="137.36" y1="74.68" x2="140.56" y2="74.68" stroke="#7658a6" stroke-width="0.7"/>
<line x1="137.36" y1="78.68" x2="140.56" y2="78.68" stroke="#7658a6" stroke-width="0.7"/>
<circle cx="138.96" cy="76.68" r="2.15" fill="#7658a6" stroke="none" stroke-width="1"/>
<line x1="146.07" y1="74.5" x2="146.07" y2="78.5" stroke="#7658a6" stroke-width="0.7"/>
<line x1="144.47" y1="74.5" x2="147.67" y2="74.5" stroke="#7658a6" stroke-width="0.7"/>
<line x1="144.47" y1="78.5" x2="147.67" y2="78.5" stroke="#7658a6" stroke-width="0.7"/>
<circle cx="146.07" cy="76.5" r="2.15" fill="#7658a6" stroke="none" stroke-width="1"/>
<line x1="153.19" y1="44.93" x2="153.19" y2="48.93" stroke="#7658a6" stroke-width="0.7"/>
<line x1="151.59" y1="44.93" x2="154.79" y2="44.93" stroke="#7658a6" stroke-width="0.7"/>
<line x1="151.59" y1="48.93" x2="154.79" y2="48.93" stroke="#7658a6" stroke-width="0.7"/>
<circle cx="153.19" cy="46.93" r="2.15" fill="#7658a6" stroke="none" stroke-width="1"/>
<line x1="160.3" y1="44.97" x2="160.3" y2="48.97" stroke="#7658a6" stroke-width="0.7"/>
<line x1="158.7" y1="44.97" x2="161.9" y2="44.97" stroke="#7658a6" stroke-width="0.7"/>
<line x1="158.7" y1="48.97" x2="161.9" y2="48.97" stroke="#7658a6" stroke-width="0.7"/>
<circle cx="160.3" cy="46.97" r="2.15" fill="#7658a6" stroke="none" stroke-width="1"/>
<line x1="167.41" y1="72.22" x2="167.41" y2="76.22" stroke="#7658a6" stroke-width="0.7"/>
<line x1="165.81" y1="72.22" x2="169.01" y2="72.22" stroke="#7658a6" stroke-width="0.7"/>
<line x1="165.81" y1="76.22" x2="169.01" y2="76.22" stroke="#7658a6" stroke-width="0.7"/>
<circle cx="167.41" cy="74.22" r="2.15" fill="#7658a6" stroke="none" stroke-width="1"/>
<line x1="174.53" y1="72.37" x2="174.53" y2="76.37" stroke="#7658a6" stroke-width="0.7"/>
<line x1="172.93" y1="72.37" x2="176.12" y2="72.37" stroke="#7658a6" stroke-width="0.7"/>
<line x1="172.93" y1="76.37" x2="176.12" y2="76.37" stroke="#7658a6" stroke-width="0.7"/>
<circle cx="174.53" cy="74.37" r="2.15" fill="#7658a6" stroke="none" stroke-width="1"/>
<line x1="181.64" y1="47.43" x2="181.64" y2="51.43" stroke="#7658a6" stroke-width="0.7"/>
<line x1="180.04" y1="47.43" x2="183.24" y2="47.43" stroke="#7658a6" stroke-width="0.7"/>
<line x1="180.04" y1="51.43" x2="183.24" y2="51.43" stroke="#7658a6" stroke-width="0.7"/>
<circle cx="181.64" cy="49.43" r="2.15" fill="#7658a6" stroke="none" stroke-width="1"/>
<line x1="188.75" y1="47.25" x2="188.75" y2="51.25" stroke="#7658a6" stroke-width="0.7"/>
<line x1="187.15" y1="47.25" x2="190.35" y2="47.25" stroke="#7658a6" stroke-width="0.7"/>
<line x1="187.15" y1="51.25" x2="190.35" y2="51.25" stroke="#7658a6" stroke-width="0.7"/>
<circle cx="188.75" cy="49.25" r="2.15" fill="#7658a6" stroke="none" stroke-width="1"/>
<line x1="195.86" y1="71.5" x2="195.86" y2="75.5" stroke="#7658a6" stroke-width="0.7"/>
<line x1="194.26" y1="71.5" x2="197.46" y2="71.5" stroke="#7658a6" stroke-width="0.7"/>
<line x1="194.26" y1="75.5" x2="197.46" y2="75.5" stroke="#7658a6" stroke-width="0.7"/>
<circle cx="195.86" cy="73.5" r="2.15" fill="#7658a6" stroke="none" stroke-width="1"/>
<line x1="202.97" y1="70.7" x2="202.97" y2="74.7" stroke="#7658a6" stroke-width="0.7"/>
<line x1="201.38" y1="70.7" x2="204.57" y2="70.7" stroke="#7658a6" stroke-width="0.7"/>
<line x1="201.38" y1="74.7" x2="204.57" y2="74.7" stroke="#7658a6" stroke-width="0.7"/>
<circle cx="202.97" cy="72.7" r="2.15" fill="#7658a6" stroke="none" stroke-width="1"/>
<line x1="210.09" y1="47.44" x2="210.09" y2="51.44" stroke="#7658a6" stroke-width="0.7"/>
<line x1="208.49" y1="47.44" x2="211.69" y2="47.44" stroke="#7658a6" stroke-width="0.7"/>
<line x1="208.49" y1="51.44" x2="211.69" y2="51.44" stroke="#7658a6" stroke-width="0.7"/>
<circle cx="210.09" cy="49.44" r="2.15" fill="#7658a6" stroke="none" stroke-width="1"/>
<line x1="217.2" y1="48.2" x2="217.2" y2="52.2" stroke="#7658a6" stroke-width="0.7"/>
<line x1="215.6" y1="48.2" x2="218.8" y2="48.2" stroke="#7658a6" stroke-width="0.7"/>
<line x1="215.6" y1="52.2" x2="218.8" y2="52.2" stroke="#7658a6" stroke-width="0.7"/>
<circle cx="217.2" cy="50.2" r="2.15" fill="#7658a6" stroke="none" stroke-width="1"/>
<line x1="224.31" y1="69.87" x2="224.31" y2="73.87" stroke="#7658a6" stroke-width="0.7"/>
<line x1="222.71" y1="69.87" x2="225.91" y2="69.87" stroke="#7658a6" stroke-width="0.7"/>
<line x1="222.71" y1="73.87" x2="225.91" y2="73.87" stroke="#7658a6" stroke-width="0.7"/>
<circle cx="224.31" cy="71.87" r="2.15" fill="#7658a6" stroke="none" stroke-width="1"/>
<line x1="231.43" y1="69.65" x2="231.43" y2="73.65" stroke="#7658a6" stroke-width="0.7"/>
<line x1="229.83" y1="69.65" x2="233.03" y2="69.65" stroke="#7658a6" stroke-width="0.7"/>
<line x1="229.83" y1="73.65" x2="233.03" y2="73.65" stroke="#7658a6" stroke-width="0.7"/>
<circle cx="231.43" cy="71.65" r="2.15" fill="#7658a6" stroke="none" stroke-width="1"/>
<line x1="238.54" y1="48.22" x2="238.54" y2="52.22" stroke="#7658a6" stroke-width="0.7"/>
<line x1="236.94" y1="48.22" x2="240.14" y2="48.22" stroke="#7658a6" stroke-width="0.7"/>
<line x1="236.94" y1="52.22" x2="240.14" y2="52.22" stroke="#7658a6" stroke-width="0.7"/>
<circle cx="238.54" cy="50.22" r="2.15" fill="#7658a6" stroke="none" stroke-width="1"/>
<line x1="245.65" y1="48.63" x2="245.65" y2="52.63" stroke="#7658a6" stroke-width="0.7"/>
<line x1="244.05" y1="48.63" x2="247.25" y2="48.63" stroke="#7658a6" stroke-width="0.7"/>
<line x1="244.05" y1="52.63" x2="247.25" y2="52.63" stroke="#7658a6" stroke-width="0.7"/>
<circle cx="245.65" cy="50.63" r="2.15" fill="#7658a6" stroke="none" stroke-width="1"/>
<line x1="252.76" y1="69.55" x2="252.76" y2="73.55" stroke="#7658a6" stroke-width="0.7"/>
<line x1="251.16" y1="69.55" x2="254.36" y2="69.55" stroke="#7658a6" stroke-width="0.7"/>
<line x1="251.16" y1="73.55" x2="254.36" y2="73.55" stroke="#7658a6" stroke-width="0.7"/>
<circle cx="252.76" cy="71.55" r="2.15" fill="#7658a6" stroke="none" stroke-width="1"/>
<line x1="259.88" y1="70.07" x2="259.88" y2="74.07" stroke="#7658a6" stroke-width="0.7"/>
<line x1="258.27" y1="70.07" x2="261.48" y2="70.07" stroke="#7658a6" stroke-width="0.7"/>
<line x1="258.27" y1="74.07" x2="261.48" y2="74.07" stroke="#7658a6" stroke-width="0.7"/>
<circle cx="259.88" cy="72.07" r="2.15" fill="#7658a6" stroke="none" stroke-width="1"/>
<line x1="266.99" y1="51.5" x2="266.99" y2="55.5" stroke="#7658a6" stroke-width="0.7"/>
<line x1="265.39" y1="51.5" x2="268.59" y2="51.5" stroke="#7658a6" stroke-width="0.7"/>
<line x1="265.39" y1="55.5" x2="268.59" y2="55.5" stroke="#7658a6" stroke-width="0.7"/>
<circle cx="266.99" cy="53.5" r="2.15" fill="#7658a6" stroke="none" stroke-width="1"/>
<line x1="274.1" y1="50.21" x2="274.1" y2="54.21" stroke="#7658a6" stroke-width="0.7"/>
<line x1="272.5" y1="50.21" x2="275.7" y2="50.21" stroke="#7658a6" stroke-width="0.7"/>
<line x1="272.5" y1="54.21" x2="275.7" y2="54.21" stroke="#7658a6" stroke-width="0.7"/>
<circle cx="274.1" cy="52.21" r="2.15" fill="#7658a6" stroke="none" stroke-width="1"/>
<line x1="281.21" y1="67.5" x2="281.21" y2="71.5" stroke="#7658a6" stroke-width="0.7"/>
<line x1="279.61" y1="67.5" x2="282.81" y2="67.5" stroke="#7658a6" stroke-width="0.7"/>
<line x1="279.61" y1="71.5" x2="282.81" y2="71.5" stroke="#7658a6" stroke-width="0.7"/>
<circle cx="281.21" cy="69.5" r="2.15" fill="#7658a6" stroke="none" stroke-width="1"/>
<line x1="288.32" y1="67.66" x2="288.32" y2="71.66" stroke="#7658a6" stroke-width="0.7"/>
<line x1="286.72" y1="67.66" x2="289.93" y2="67.66" stroke="#7658a6" stroke-width="0.7"/>
<line x1="286.72" y1="71.66" x2="289.93" y2="71.66" stroke="#7658a6" stroke-width="0.7"/>
<circle cx="288.32" cy="69.66" r="2.15" fill="#7658a6" stroke="none" stroke-width="1"/>
<line x1="295.44" y1="50.79" x2="295.44" y2="54.79" stroke="#7658a6" stroke-width="0.7"/>
<line x1="293.84" y1="50.79" x2="297.04" y2="50.79" stroke="#7658a6" stroke-width="0.7"/>
<line x1="293.84" y1="54.79" x2="297.04" y2="54.79" stroke="#7658a6" stroke-width="0.7"/>
<circle cx="295.44" cy="52.79" r="2.15" fill="#7658a6" stroke="none" stroke-width="1"/>
<line x1="302.55" y1="51.56" x2="302.55" y2="55.56" stroke="#7658a6" stroke-width="0.7"/>
<line x1="300.95" y1="51.56" x2="304.15" y2="51.56" stroke="#7658a6" stroke-width="0.7"/>
<line x1="300.95" y1="55.56" x2="304.15" y2="55.56" stroke="#7658a6" stroke-width="0.7"/>
<circle cx="302.55" cy="53.56" r="2.15" fill="#7658a6" stroke="none" stroke-width="1"/>
<line x1="309.66" y1="66.03" x2="309.66" y2="70.03" stroke="#7658a6" stroke-width="0.7"/>
<line x1="308.06" y1="66.03" x2="311.26" y2="66.03" stroke="#7658a6" stroke-width="0.7"/>
<line x1="308.06" y1="70.03" x2="311.26" y2="70.03" stroke="#7658a6" stroke-width="0.7"/>
<circle cx="309.66" cy="68.03" r="2.15" fill="#7658a6" stroke="none" stroke-width="1"/>
<line x1="316.77" y1="66.07" x2="316.77" y2="70.07" stroke="#7658a6" stroke-width="0.7"/>
<line x1="315.17" y1="66.07" x2="318.38" y2="66.07" stroke="#7658a6" stroke-width="0.7"/>
<line x1="315.17" y1="70.07" x2="318.38" y2="70.07" stroke="#7658a6" stroke-width="0.7"/>
<circle cx="316.77" cy="68.07" r="2.15" fill="#7658a6" stroke="none" stroke-width="1"/>
<line x1="323.89" y1="53" x2="323.89" y2="57" stroke="#7658a6" stroke-width="0.7"/>
<line x1="322.29" y1="53" x2="325.49" y2="53" stroke="#7658a6" stroke-width="0.7"/>
<line x1="322.29" y1="57" x2="325.49" y2="57" stroke="#7658a6" stroke-width="0.7"/>
<circle cx="323.89" cy="55" r="2.15" fill="#7658a6" stroke="none" stroke-width="1"/>
<line x1="331" y1="52.96" x2="331" y2="56.96" stroke="#7658a6" stroke-width="0.7"/>
<line x1="329.4" y1="52.96" x2="332.6" y2="52.96" stroke="#7658a6" stroke-width="0.7"/>
<line x1="329.4" y1="56.96" x2="332.6" y2="56.96" stroke="#7658a6" stroke-width="0.7"/>
<circle cx="331" cy="54.96" r="2.15" fill="#7658a6" stroke="none" stroke-width="1"/>
<polyline points="46.5,33.5 53.61,89.18 60.73,86.85 67.84,35.82 74.95,37.98 82.06,84.82 89.17,83.06 96.29,40.25 103.4,41.31 110.51,80.43 117.62,79.67 124.74,43.28 131.85,43.22 138.96,77.42 146.07,77.4 153.19,46.27 160.3,46.69 167.41,75.25 174.53,75.49 181.64,48.98 188.75,47.94 195.86,74.14 202.97,73.84 210.09,48.83 217.2,49.01 224.31,73.18 231.43,72.95 238.54,49.56 245.65,49.27 252.76,72.93 259.88,72.34 266.99,52.47 274.1,52.44 281.21,70.09 288.32,70.46 295.44,52.59 302.55,52.28 309.66,68.72 316.77,69.45 323.89,53.61 331,53.78" fill="none" stroke="#8a5a48" stroke-width="0.75" stroke-linejoin="round"/>
<circle cx="46.5" cy="33.5" r="2.15" fill="#8a5a48" stroke="none" stroke-width="1"/>
<line x1="53.61" y1="87.18" x2="53.61" y2="91.18" stroke="#8a5a48" stroke-width="0.7"/>
<line x1="52.01" y1="87.18" x2="55.21" y2="87.18" stroke="#8a5a48" stroke-width="0.7"/>
<line x1="52.01" y1="91.18" x2="55.21" y2="91.18" stroke="#8a5a48" stroke-width="0.7"/>
<circle cx="53.61" cy="89.18" r="2.15" fill="#8a5a48" stroke="none" stroke-width="1"/>
<line x1="60.73" y1="84.85" x2="60.73" y2="88.85" stroke="#8a5a48" stroke-width="0.7"/>
<line x1="59.12" y1="84.85" x2="62.33" y2="84.85" stroke="#8a5a48" stroke-width="0.7"/>
<line x1="59.12" y1="88.85" x2="62.33" y2="88.85" stroke="#8a5a48" stroke-width="0.7"/>
<circle cx="60.73" cy="86.85" r="2.15" fill="#8a5a48" stroke="none" stroke-width="1"/>
<line x1="67.84" y1="33.82" x2="67.84" y2="37.82" stroke="#8a5a48" stroke-width="0.7"/>
<line x1="66.24" y1="33.82" x2="69.44" y2="33.82" stroke="#8a5a48" stroke-width="0.7"/>
<line x1="66.24" y1="37.82" x2="69.44" y2="37.82" stroke="#8a5a48" stroke-width="0.7"/>
<circle cx="67.84" cy="35.82" r="2.15" fill="#8a5a48" stroke="none" stroke-width="1"/>
<line x1="74.95" y1="35.98" x2="74.95" y2="39.98" stroke="#8a5a48" stroke-width="0.7"/>
<line x1="73.35" y1="35.98" x2="76.55" y2="35.98" stroke="#8a5a48" stroke-width="0.7"/>
<line x1="73.35" y1="39.98" x2="76.55" y2="39.98" stroke="#8a5a48" stroke-width="0.7"/>
<circle cx="74.95" cy="37.98" r="2.15" fill="#8a5a48" stroke="none" stroke-width="1"/>
<line x1="82.06" y1="82.82" x2="82.06" y2="86.82" stroke="#8a5a48" stroke-width="0.7"/>
<line x1="80.46" y1="82.82" x2="83.66" y2="82.82" stroke="#8a5a48" stroke-width="0.7"/>
<line x1="80.46" y1="86.82" x2="83.66" y2="86.82" stroke="#8a5a48" stroke-width="0.7"/>
<circle cx="82.06" cy="84.82" r="2.15" fill="#8a5a48" stroke="none" stroke-width="1"/>
<line x1="89.17" y1="81.06" x2="89.17" y2="85.06" stroke="#8a5a48" stroke-width="0.7"/>
<line x1="87.58" y1="81.06" x2="90.77" y2="81.06" stroke="#8a5a48" stroke-width="0.7"/>
<line x1="87.58" y1="85.06" x2="90.77" y2="85.06" stroke="#8a5a48" stroke-width="0.7"/>
<circle cx="89.17" cy="83.06" r="2.15" fill="#8a5a48" stroke="none" stroke-width="1"/>
<line x1="96.29" y1="38.25" x2="96.29" y2="42.25" stroke="#8a5a48" stroke-width="0.7"/>
<line x1="94.69" y1="38.25" x2="97.89" y2="38.25" stroke="#8a5a48" stroke-width="0.7"/>
<line x1="94.69" y1="42.25" x2="97.89" y2="42.25" stroke="#8a5a48" stroke-width="0.7"/>
<circle cx="96.29" cy="40.25" r="2.15" fill="#8a5a48" stroke="none" stroke-width="1"/>
<line x1="103.4" y1="39.31" x2="103.4" y2="43.31" stroke="#8a5a48" stroke-width="0.7"/>
<line x1="101.8" y1="39.31" x2="105" y2="39.31" stroke="#8a5a48" stroke-width="0.7"/>
<line x1="101.8" y1="43.31" x2="105" y2="43.31" stroke="#8a5a48" stroke-width="0.7"/>
<circle cx="103.4" cy="41.31" r="2.15" fill="#8a5a48" stroke="none" stroke-width="1"/>
<line x1="110.51" y1="78.43" x2="110.51" y2="82.43" stroke="#8a5a48" stroke-width="0.7"/>
<line x1="108.91" y1="78.43" x2="112.11" y2="78.43" stroke="#8a5a48" stroke-width="0.7"/>
<line x1="108.91" y1="82.43" x2="112.11" y2="82.43" stroke="#8a5a48" stroke-width="0.7"/>
<circle cx="110.51" cy="80.43" r="2.15" fill="#8a5a48" stroke="none" stroke-width="1"/>
<line x1="117.62" y1="77.67" x2="117.62" y2="81.67" stroke="#8a5a48" stroke-width="0.7"/>
<line x1="116.03" y1="77.67" x2="119.22" y2="77.67" stroke="#8a5a48" stroke-width="0.7"/>
<line x1="116.03" y1="81.67" x2="119.22" y2="81.67" stroke="#8a5a48" stroke-width="0.7"/>
<circle cx="117.62" cy="79.67" r="2.15" fill="#8a5a48" stroke="none" stroke-width="1"/>
<line x1="124.74" y1="41.28" x2="124.74" y2="45.28" stroke="#8a5a48" stroke-width="0.7"/>
<line x1="123.14" y1="41.28" x2="126.34" y2="41.28" stroke="#8a5a48" stroke-width="0.7"/>
<line x1="123.14" y1="45.28" x2="126.34" y2="45.28" stroke="#8a5a48" stroke-width="0.7"/>
<circle cx="124.74" cy="43.28" r="2.15" fill="#8a5a48" stroke="none" stroke-width="1"/>
<line x1="131.85" y1="41.22" x2="131.85" y2="45.22" stroke="#8a5a48" stroke-width="0.7"/>
<line x1="130.25" y1="41.22" x2="133.45" y2="41.22" stroke="#8a5a48" stroke-width="0.7"/>
<line x1="130.25" y1="45.22" x2="133.45" y2="45.22" stroke="#8a5a48" stroke-width="0.7"/>
<circle cx="131.85" cy="43.22" r="2.15" fill="#8a5a48" stroke="none" stroke-width="1"/>
<line x1="138.96" y1="75.42" x2="138.96" y2="79.42" stroke="#8a5a48" stroke-width="0.7"/>
<line x1="137.36" y1="75.42" x2="140.56" y2="75.42" stroke="#8a5a48" stroke-width="0.7"/>
<line x1="137.36" y1="79.42" x2="140.56" y2="79.42" stroke="#8a5a48" stroke-width="0.7"/>
<circle cx="138.96" cy="77.42" r="2.15" fill="#8a5a48" stroke="none" stroke-width="1"/>
<line x1="146.07" y1="75.4" x2="146.07" y2="79.4" stroke="#8a5a48" stroke-width="0.7"/>
<line x1="144.47" y1="75.4" x2="147.67" y2="75.4" stroke="#8a5a48" stroke-width="0.7"/>
<line x1="144.47" y1="79.4" x2="147.67" y2="79.4" stroke="#8a5a48" stroke-width="0.7"/>
<circle cx="146.07" cy="77.4" r="2.15" fill="#8a5a48" stroke="none" stroke-width="1"/>
<line x1="153.19" y1="44.27" x2="153.19" y2="48.27" stroke="#8a5a48" stroke-width="0.7"/>
<line x1="151.59" y1="44.27" x2="154.79" y2="44.27" stroke="#8a5a48" stroke-width="0.7"/>
<line x1="151.59" y1="48.27" x2="154.79" y2="48.27" stroke="#8a5a48" stroke-width="0.7"/>
<circle cx="153.19" cy="46.27" r="2.15" fill="#8a5a48" stroke="none" stroke-width="1"/>
<line x1="160.3" y1="44.69" x2="160.3" y2="48.69" stroke="#8a5a48" stroke-width="0.7"/>
<line x1="158.7" y1="44.69" x2="161.9" y2="44.69" stroke="#8a5a48" stroke-width="0.7"/>
<line x1="158.7" y1="48.69" x2="161.9" y2="48.69" stroke="#8a5a48" stroke-width="0.7"/>
<circle cx="160.3" cy="46.69" r="2.15" fill="#8a5a48" stroke="none" stroke-width="1"/>
<line x1="167.41" y1="73.25" x2="167.41" y2="77.25" stroke="#8a5a48" stroke-width="0.7"/>
<line x1="165.81" y1="73.25" x2="169.01" y2="73.25" stroke="#8a5a48" stroke-width="0.7"/>
<line x1="165.81" y1="77.25" x2="169.01" y2="77.25" stroke="#8a5a48" stroke-width="0.7"/>
<circle cx="167.41" cy="75.25" r="2.15" fill="#8a5a48" stroke="none" stroke-width="1"/>
<line x1="174.53" y1="73.49" x2="174.53" y2="77.49" stroke="#8a5a48" stroke-width="0.7"/>
<line x1="172.93" y1="73.49" x2="176.12" y2="73.49" stroke="#8a5a48" stroke-width="0.7"/>
<line x1="172.93" y1="77.49" x2="176.12" y2="77.49" stroke="#8a5a48" stroke-width="0.7"/>
<circle cx="174.53" cy="75.49" r="2.15" fill="#8a5a48" stroke="none" stroke-width="1"/>
<line x1="181.64" y1="46.98" x2="181.64" y2="50.98" stroke="#8a5a48" stroke-width="0.7"/>
<line x1="180.04" y1="46.98" x2="183.24" y2="46.98" stroke="#8a5a48" stroke-width="0.7"/>
<line x1="180.04" y1="50.98" x2="183.24" y2="50.98" stroke="#8a5a48" stroke-width="0.7"/>
<circle cx="181.64" cy="48.98" r="2.15" fill="#8a5a48" stroke="none" stroke-width="1"/>
<line x1="188.75" y1="45.94" x2="188.75" y2="49.94" stroke="#8a5a48" stroke-width="0.7"/>
<line x1="187.15" y1="45.94" x2="190.35" y2="45.94" stroke="#8a5a48" stroke-width="0.7"/>
<line x1="187.15" y1="49.94" x2="190.35" y2="49.94" stroke="#8a5a48" stroke-width="0.7"/>
<circle cx="188.75" cy="47.94" r="2.15" fill="#8a5a48" stroke="none" stroke-width="1"/>
<line x1="195.86" y1="72.14" x2="195.86" y2="76.14" stroke="#8a5a48" stroke-width="0.7"/>
<line x1="194.26" y1="72.14" x2="197.46" y2="72.14" stroke="#8a5a48" stroke-width="0.7"/>
<line x1="194.26" y1="76.14" x2="197.46" y2="76.14" stroke="#8a5a48" stroke-width="0.7"/>
<circle cx="195.86" cy="74.14" r="2.15" fill="#8a5a48" stroke="none" stroke-width="1"/>
<line x1="202.97" y1="71.84" x2="202.97" y2="75.84" stroke="#8a5a48" stroke-width="0.7"/>
<line x1="201.38" y1="71.84" x2="204.57" y2="71.84" stroke="#8a5a48" stroke-width="0.7"/>
<line x1="201.38" y1="75.84" x2="204.57" y2="75.84" stroke="#8a5a48" stroke-width="0.7"/>
<circle cx="202.97" cy="73.84" r="2.15" fill="#8a5a48" stroke="none" stroke-width="1"/>
<line x1="210.09" y1="46.83" x2="210.09" y2="50.83" stroke="#8a5a48" stroke-width="0.7"/>
<line x1="208.49" y1="46.83" x2="211.69" y2="46.83" stroke="#8a5a48" stroke-width="0.7"/>
<line x1="208.49" y1="50.83" x2="211.69" y2="50.83" stroke="#8a5a48" stroke-width="0.7"/>
<circle cx="210.09" cy="48.83" r="2.15" fill="#8a5a48" stroke="none" stroke-width="1"/>
<line x1="217.2" y1="47.01" x2="217.2" y2="51.01" stroke="#8a5a48" stroke-width="0.7"/>
<line x1="215.6" y1="47.01" x2="218.8" y2="47.01" stroke="#8a5a48" stroke-width="0.7"/>
<line x1="215.6" y1="51.01" x2="218.8" y2="51.01" stroke="#8a5a48" stroke-width="0.7"/>
<circle cx="217.2" cy="49.01" r="2.15" fill="#8a5a48" stroke="none" stroke-width="1"/>
<line x1="224.31" y1="71.18" x2="224.31" y2="75.18" stroke="#8a5a48" stroke-width="0.7"/>
<line x1="222.71" y1="71.18" x2="225.91" y2="71.18" stroke="#8a5a48" stroke-width="0.7"/>
<line x1="222.71" y1="75.18" x2="225.91" y2="75.18" stroke="#8a5a48" stroke-width="0.7"/>
<circle cx="224.31" cy="73.18" r="2.15" fill="#8a5a48" stroke="none" stroke-width="1"/>
<line x1="231.43" y1="70.95" x2="231.43" y2="74.95" stroke="#8a5a48" stroke-width="0.7"/>
<line x1="229.83" y1="70.95" x2="233.03" y2="70.95" stroke="#8a5a48" stroke-width="0.7"/>
<line x1="229.83" y1="74.95" x2="233.03" y2="74.95" stroke="#8a5a48" stroke-width="0.7"/>
<circle cx="231.43" cy="72.95" r="2.15" fill="#8a5a48" stroke="none" stroke-width="1"/>
<line x1="238.54" y1="47.56" x2="238.54" y2="51.56" stroke="#8a5a48" stroke-width="0.7"/>
<line x1="236.94" y1="47.56" x2="240.14" y2="47.56" stroke="#8a5a48" stroke-width="0.7"/>
<line x1="236.94" y1="51.56" x2="240.14" y2="51.56" stroke="#8a5a48" stroke-width="0.7"/>
<circle cx="238.54" cy="49.56" r="2.15" fill="#8a5a48" stroke="none" stroke-width="1"/>
<line x1="245.65" y1="47.27" x2="245.65" y2="51.27" stroke="#8a5a48" stroke-width="0.7"/>
<line x1="244.05" y1="47.27" x2="247.25" y2="47.27" stroke="#8a5a48" stroke-width="0.7"/>
<line x1="244.05" y1="51.27" x2="247.25" y2="51.27" stroke="#8a5a48" stroke-width="0.7"/>
<circle cx="245.65" cy="49.27" r="2.15" fill="#8a5a48" stroke="none" stroke-width="1"/>
<line x1="252.76" y1="70.93" x2="252.76" y2="74.93" stroke="#8a5a48" stroke-width="0.7"/>
<line x1="251.16" y1="70.93" x2="254.36" y2="70.93" stroke="#8a5a48" stroke-width="0.7"/>
<line x1="251.16" y1="74.93" x2="254.36" y2="74.93" stroke="#8a5a48" stroke-width="0.7"/>
<circle cx="252.76" cy="72.93" r="2.15" fill="#8a5a48" stroke="none" stroke-width="1"/>
<line x1="259.88" y1="70.34" x2="259.88" y2="74.34" stroke="#8a5a48" stroke-width="0.7"/>
<line x1="258.27" y1="70.34" x2="261.48" y2="70.34" stroke="#8a5a48" stroke-width="0.7"/>
<line x1="258.27" y1="74.34" x2="261.48" y2="74.34" stroke="#8a5a48" stroke-width="0.7"/>
<circle cx="259.88" cy="72.34" r="2.15" fill="#8a5a48" stroke="none" stroke-width="1"/>
<line x1="266.99" y1="50.47" x2="266.99" y2="54.47" stroke="#8a5a48" stroke-width="0.7"/>
<line x1="265.39" y1="50.47" x2="268.59" y2="50.47" stroke="#8a5a48" stroke-width="0.7"/>
<line x1="265.39" y1="54.47" x2="268.59" y2="54.47" stroke="#8a5a48" stroke-width="0.7"/>
<circle cx="266.99" cy="52.47" r="2.15" fill="#8a5a48" stroke="none" stroke-width="1"/>
<line x1="274.1" y1="50.44" x2="274.1" y2="54.44" stroke="#8a5a48" stroke-width="0.7"/>
<line x1="272.5" y1="50.44" x2="275.7" y2="50.44" stroke="#8a5a48" stroke-width="0.7"/>
<line x1="272.5" y1="54.44" x2="275.7" y2="54.44" stroke="#8a5a48" stroke-width="0.7"/>
<circle cx="274.1" cy="52.44" r="2.15" fill="#8a5a48" stroke="none" stroke-width="1"/>
<line x1="281.21" y1="68.09" x2="281.21" y2="72.09" stroke="#8a5a48" stroke-width="0.7"/>
<line x1="279.61" y1="68.09" x2="282.81" y2="68.09" stroke="#8a5a48" stroke-width="0.7"/>
<line x1="279.61" y1="72.09" x2="282.81" y2="72.09" stroke="#8a5a48" stroke-width="0.7"/>
<circle cx="281.21" cy="70.09" r="2.15" fill="#8a5a48" stroke="none" stroke-width="1"/>
<line x1="288.32" y1="68.46" x2="288.32" y2="72.46" stroke="#8a5a48" stroke-width="0.7"/>
<line x1="286.72" y1="68.46" x2="289.93" y2="68.46" stroke="#8a5a48" stroke-width="0.7"/>
<line x1="286.72" y1="72.46" x2="289.93" y2="72.46" stroke="#8a5a48" stroke-width="0.7"/>
<circle cx="288.32" cy="70.46" r="2.15" fill="#8a5a48" stroke="none" stroke-width="1"/>
<line x1="295.44" y1="50.59" x2="295.44" y2="54.59" stroke="#8a5a48" stroke-width="0.7"/>
<line x1="293.84" y1="50.59" x2="297.04" y2="50.59" stroke="#8a5a48" stroke-width="0.7"/>
<line x1="293.84" y1="54.59" x2="297.04" y2="54.59" stroke="#8a5a48" stroke-width="0.7"/>
<circle cx="295.44" cy="52.59" r="2.15" fill="#8a5a48" stroke="none" stroke-width="1"/>
<line x1="302.55" y1="50.28" x2="302.55" y2="54.28" stroke="#8a5a48" stroke-width="0.7"/>
<line x1="300.95" y1="50.28" x2="304.15" y2="50.28" stroke="#8a5a48" stroke-width="0.7"/>
<line x1="300.95" y1="54.28" x2="304.15" y2="54.28" stroke="#8a5a48" stroke-width="0.7"/>
<circle cx="302.55" cy="52.28" r="2.15" fill="#8a5a48" stroke="none" stroke-width="1"/>
<line x1="309.66" y1="66.72" x2="309.66" y2="70.72" stroke="#8a5a48" stroke-width="0.7"/>
<line x1="308.06" y1="66.72" x2="311.26" y2="66.72" stroke="#8a5a48" stroke-width="0.7"/>
<line x1="308.06" y1="70.72" x2="311.26" y2="70.72" stroke="#8a5a48" stroke-width="0.7"/>
<circle cx="309.66" cy="68.72" r="2.15" fill="#8a5a48" stroke="none" stroke-width="1"/>
<line x1="316.77" y1="67.45" x2="316.77" y2="71.45" stroke="#8a5a48" stroke-width="0.7"/>
<line x1="315.17" y1="67.45" x2="318.38" y2="67.45" stroke="#8a5a48" stroke-width="0.7"/>
<line x1="315.17" y1="71.45" x2="318.38" y2="71.45" stroke="#8a5a48" stroke-width="0.7"/>
<circle cx="316.77" cy="69.45" r="2.15" fill="#8a5a48" stroke="none" stroke-width="1"/>
<line x1="323.89" y1="51.61" x2="323.89" y2="55.61" stroke="#8a5a48" stroke-width="0.7"/>
<line x1="322.29" y1="51.61" x2="325.49" y2="51.61" stroke="#8a5a48" stroke-width="0.7"/>
<line x1="322.29" y1="55.61" x2="325.49" y2="55.61" stroke="#8a5a48" stroke-width="0.7"/>
<circle cx="323.89" cy="53.61" r="2.15" fill="#8a5a48" stroke="none" stroke-width="1"/>
<line x1="331" y1="51.78" x2="331" y2="55.78" stroke="#8a5a48" stroke-width="0.7"/>
<line x1="329.4" y1="51.78" x2="332.6" y2="51.78" stroke="#8a5a48" stroke-width="0.7"/>
<line x1="329.4" y1="55.78" x2="332.6" y2="55.78" stroke="#8a5a48" stroke-width="0.7"/>
<circle cx="331" cy="53.78" r="2.15" fill="#8a5a48" stroke="none" stroke-width="1"/>
<line x1="46.5" y1="26.3" x2="331" y2="26.3" stroke="#363636" stroke-width="1"/>
<line x1="331" y1="26.3" x2="331" y2="96" stroke="#7a7a7a" stroke-width="1"/>
<line x1="46.5" y1="26.3" x2="46.5" y2="96" stroke="#363636" stroke-width="1"/>
<line x1="46.5" y1="96" x2="331" y2="96" stroke="#363636" stroke-width="1"/>
<line x1="117.62" y1="96" x2="117.62" y2="93.2" stroke="#363636" stroke-width="0.8"/>
<line x1="117.62" y1="26.3" x2="117.62" y2="29.1" stroke="#363636" stroke-width="0.8"/>
<line x1="188.75" y1="96" x2="188.75" y2="93.2" stroke="#363636" stroke-width="0.8"/>
<line x1="188.75" y1="26.3" x2="188.75" y2="29.1" stroke="#363636" stroke-width="0.8"/>
<line x1="259.88" y1="96" x2="259.88" y2="93.2" stroke="#363636" stroke-width="0.8"/>
<line x1="259.88" y1="26.3" x2="259.88" y2="29.1" stroke="#363636" stroke-width="0.8"/>
<line x1="46.5" y1="33.5" x2="49.3" y2="33.5" stroke="#363636" stroke-width="0.8"/>
<line x1="331" y1="33.5" x2="328.2" y2="33.5" stroke="#363636" stroke-width="0.8"/>
<line x1="46.5" y1="61.3" x2="49.3" y2="61.3" stroke="#363636" stroke-width="0.8"/>
<line x1="331" y1="61.3" x2="328.2" y2="61.3" stroke="#363636" stroke-width="0.8"/>
<line x1="46.5" y1="89.1" x2="49.3" y2="89.1" stroke="#363636" stroke-width="0.8"/>
<line x1="331" y1="89.1" x2="328.2" y2="89.1" stroke="#363636" stroke-width="0.8"/>
<text x="37.8" y="38.1" font-size="12.2" text-anchor="end">1</text>
<text x="37.7" y="65.9" font-size="12.2" text-anchor="end">0</text>
<text x="41.2" y="93.7" font-size="12.2" text-anchor="end">-1</text>
<text x="326.5" y="43.4" font-size="12.5" text-anchor="end" font-style="italic">B=0.1</text>
<line x1="117.62" y1="102.3" x2="117.62" y2="171.3" stroke="#e3e3e3" stroke-width="0.8"/>
<line x1="188.75" y1="102.3" x2="188.75" y2="171.3" stroke="#e3e3e3" stroke-width="0.8"/>
<line x1="259.88" y1="102.3" x2="259.88" y2="171.3" stroke="#e3e3e3" stroke-width="0.8"/>
<line x1="46.5" y1="109.3" x2="331" y2="109.3" stroke="#e3e3e3" stroke-width="0.8"/>
<line x1="46.5" y1="136.9" x2="331" y2="136.9" stroke="#e3e3e3" stroke-width="0.8"/>
<line x1="46.5" y1="164.5" x2="331" y2="164.5" stroke="#e3e3e3" stroke-width="0.8"/>
<polyline points="46.5,109.3 53.61,134.67 60.73,134.37 67.84,137.16 74.95,136.72 82.06,137.02 89.17,134.46 96.29,135.8 103.4,134.82 110.51,134.46 117.62,138.23 124.74,136.57 131.85,134.45 138.96,135.02 146.07,138.6 153.19,138.68 160.3,137.17 167.41,138.91 174.53,138.12 181.64,138.9 188.75,136.1 195.86,135.57 202.97,135.04 210.09,138.52 217.2,135.89 224.31,136.15 231.43,138.58 238.54,135.1 245.65,134.71 252.76,138.22 259.88,134.78 266.99,137.38 274.1,136.96 281.21,134.6 288.32,135.34 295.44,138.49 302.55,137.22 309.66,136.83 316.77,137.65 323.89,138.33 331,137.75" fill="none" stroke="#3f62ae" stroke-width="0.75" stroke-linejoin="round"/>
<circle cx="46.5" cy="109.3" r="2.15" fill="#3f62ae" stroke="none" stroke-width="1"/>
<line x1="53.61" y1="132.07" x2="53.61" y2="137.27" stroke="#3f62ae" stroke-width="0.7"/>
<line x1="52.01" y1="132.07" x2="55.21" y2="132.07" stroke="#3f62ae" stroke-width="0.7"/>
<line x1="52.01" y1="137.27" x2="55.21" y2="137.27" stroke="#3f62ae" stroke-width="0.7"/>
<circle cx="53.61" cy="134.67" r="2.15" fill="#3f62ae" stroke="none" stroke-width="1"/>
<line x1="60.73" y1="131.77" x2="60.73" y2="136.97" stroke="#3f62ae" stroke-width="0.7"/>
<line x1="59.12" y1="131.77" x2="62.33" y2="131.77" stroke="#3f62ae" stroke-width="0.7"/>
<line x1="59.12" y1="136.97" x2="62.33" y2="136.97" stroke="#3f62ae" stroke-width="0.7"/>
<circle cx="60.73" cy="134.37" r="2.15" fill="#3f62ae" stroke="none" stroke-width="1"/>
<line x1="67.84" y1="134.56" x2="67.84" y2="139.76" stroke="#3f62ae" stroke-width="0.7"/>
<line x1="66.24" y1="134.56" x2="69.44" y2="134.56" stroke="#3f62ae" stroke-width="0.7"/>
<line x1="66.24" y1="139.76" x2="69.44" y2="139.76" stroke="#3f62ae" stroke-width="0.7"/>
<circle cx="67.84" cy="137.16" r="2.15" fill="#3f62ae" stroke="none" stroke-width="1"/>
<line x1="74.95" y1="134.12" x2="74.95" y2="139.32" stroke="#3f62ae" stroke-width="0.7"/>
<line x1="73.35" y1="134.12" x2="76.55" y2="134.12" stroke="#3f62ae" stroke-width="0.7"/>
<line x1="73.35" y1="139.32" x2="76.55" y2="139.32" stroke="#3f62ae" stroke-width="0.7"/>
<circle cx="74.95" cy="136.72" r="2.15" fill="#3f62ae" stroke="none" stroke-width="1"/>
<line x1="82.06" y1="134.42" x2="82.06" y2="139.62" stroke="#3f62ae" stroke-width="0.7"/>
<line x1="80.46" y1="134.42" x2="83.66" y2="134.42" stroke="#3f62ae" stroke-width="0.7"/>
<line x1="80.46" y1="139.62" x2="83.66" y2="139.62" stroke="#3f62ae" stroke-width="0.7"/>
<circle cx="82.06" cy="137.02" r="2.15" fill="#3f62ae" stroke="none" stroke-width="1"/>
<line x1="89.17" y1="131.86" x2="89.17" y2="137.06" stroke="#3f62ae" stroke-width="0.7"/>
<line x1="87.58" y1="131.86" x2="90.77" y2="131.86" stroke="#3f62ae" stroke-width="0.7"/>
<line x1="87.58" y1="137.06" x2="90.77" y2="137.06" stroke="#3f62ae" stroke-width="0.7"/>
<circle cx="89.17" cy="134.46" r="2.15" fill="#3f62ae" stroke="none" stroke-width="1"/>
<line x1="96.29" y1="133.2" x2="96.29" y2="138.4" stroke="#3f62ae" stroke-width="0.7"/>
<line x1="94.69" y1="133.2" x2="97.89" y2="133.2" stroke="#3f62ae" stroke-width="0.7"/>
<line x1="94.69" y1="138.4" x2="97.89" y2="138.4" stroke="#3f62ae" stroke-width="0.7"/>
<circle cx="96.29" cy="135.8" r="2.15" fill="#3f62ae" stroke="none" stroke-width="1"/>
<line x1="103.4" y1="132.22" x2="103.4" y2="137.42" stroke="#3f62ae" stroke-width="0.7"/>
<line x1="101.8" y1="132.22" x2="105" y2="132.22" stroke="#3f62ae" stroke-width="0.7"/>
<line x1="101.8" y1="137.42" x2="105" y2="137.42" stroke="#3f62ae" stroke-width="0.7"/>
<circle cx="103.4" cy="134.82" r="2.15" fill="#3f62ae" stroke="none" stroke-width="1"/>
<line x1="110.51" y1="131.86" x2="110.51" y2="137.06" stroke="#3f62ae" stroke-width="0.7"/>
<line x1="108.91" y1="131.86" x2="112.11" y2="131.86" stroke="#3f62ae" stroke-width="0.7"/>
<line x1="108.91" y1="137.06" x2="112.11" y2="137.06" stroke="#3f62ae" stroke-width="0.7"/>
<circle cx="110.51" cy="134.46" r="2.15" fill="#3f62ae" stroke="none" stroke-width="1"/>
<line x1="117.62" y1="135.63" x2="117.62" y2="140.83" stroke="#3f62ae" stroke-width="0.7"/>
<line x1="116.03" y1="135.63" x2="119.22" y2="135.63" stroke="#3f62ae" stroke-width="0.7"/>
<line x1="116.03" y1="140.83" x2="119.22" y2="140.83" stroke="#3f62ae" stroke-width="0.7"/>
<circle cx="117.62" cy="138.23" r="2.15" fill="#3f62ae" stroke="none" stroke-width="1"/>
<line x1="124.74" y1="133.97" x2="124.74" y2="139.17" stroke="#3f62ae" stroke-width="0.7"/>
<line x1="123.14" y1="133.97" x2="126.34" y2="133.97" stroke="#3f62ae" stroke-width="0.7"/>
<line x1="123.14" y1="139.17" x2="126.34" y2="139.17" stroke="#3f62ae" stroke-width="0.7"/>
<circle cx="124.74" cy="136.57" r="2.15" fill="#3f62ae" stroke="none" stroke-width="1"/>
<line x1="131.85" y1="131.85" x2="131.85" y2="137.05" stroke="#3f62ae" stroke-width="0.7"/>
<line x1="130.25" y1="131.85" x2="133.45" y2="131.85" stroke="#3f62ae" stroke-width="0.7"/>
<line x1="130.25" y1="137.05" x2="133.45" y2="137.05" stroke="#3f62ae" stroke-width="0.7"/>
<circle cx="131.85" cy="134.45" r="2.15" fill="#3f62ae" stroke="none" stroke-width="1"/>
<line x1="138.96" y1="132.42" x2="138.96" y2="137.62" stroke="#3f62ae" stroke-width="0.7"/>
<line x1="137.36" y1="132.42" x2="140.56" y2="132.42" stroke="#3f62ae" stroke-width="0.7"/>
<line x1="137.36" y1="137.62" x2="140.56" y2="137.62" stroke="#3f62ae" stroke-width="0.7"/>
<circle cx="138.96" cy="135.02" r="2.15" fill="#3f62ae" stroke="none" stroke-width="1"/>
<line x1="146.07" y1="136" x2="146.07" y2="141.2" stroke="#3f62ae" stroke-width="0.7"/>
<line x1="144.47" y1="136" x2="147.67" y2="136" stroke="#3f62ae" stroke-width="0.7"/>
<line x1="144.47" y1="141.2" x2="147.67" y2="141.2" stroke="#3f62ae" stroke-width="0.7"/>
<circle cx="146.07" cy="138.6" r="2.15" fill="#3f62ae" stroke="none" stroke-width="1"/>
<line x1="153.19" y1="136.08" x2="153.19" y2="141.28" stroke="#3f62ae" stroke-width="0.7"/>
<line x1="151.59" y1="136.08" x2="154.79" y2="136.08" stroke="#3f62ae" stroke-width="0.7"/>
<line x1="151.59" y1="141.28" x2="154.79" y2="141.28" stroke="#3f62ae" stroke-width="0.7"/>
<circle cx="153.19" cy="138.68" r="2.15" fill="#3f62ae" stroke="none" stroke-width="1"/>
<line x1="160.3" y1="134.57" x2="160.3" y2="139.77" stroke="#3f62ae" stroke-width="0.7"/>
<line x1="158.7" y1="134.57" x2="161.9" y2="134.57" stroke="#3f62ae" stroke-width="0.7"/>
<line x1="158.7" y1="139.77" x2="161.9" y2="139.77" stroke="#3f62ae" stroke-width="0.7"/>
<circle cx="160.3" cy="137.17" r="2.15" fill="#3f62ae" stroke="none" stroke-width="1"/>
<line x1="167.41" y1="136.31" x2="167.41" y2="141.51" stroke="#3f62ae" stroke-width="0.7"/>
<line x1="165.81" y1="136.31" x2="169.01" y2="136.31" stroke="#3f62ae" stroke-width="0.7"/>
<line x1="165.81" y1="141.51" x2="169.01" y2="141.51" stroke="#3f62ae" stroke-width="0.7"/>
<circle cx="167.41" cy="138.91" r="2.15" fill="#3f62ae" stroke="none" stroke-width="1"/>
<line x1="174.53" y1="135.52" x2="174.53" y2="140.72" stroke="#3f62ae" stroke-width="0.7"/>
<line x1="172.93" y1="135.52" x2="176.12" y2="135.52" stroke="#3f62ae" stroke-width="0.7"/>
<line x1="172.93" y1="140.72" x2="176.12" y2="140.72" stroke="#3f62ae" stroke-width="0.7"/>
<circle cx="174.53" cy="138.12" r="2.15" fill="#3f62ae" stroke="none" stroke-width="1"/>
<line x1="181.64" y1="136.3" x2="181.64" y2="141.5" stroke="#3f62ae" stroke-width="0.7"/>
<line x1="180.04" y1="136.3" x2="183.24" y2="136.3" stroke="#3f62ae" stroke-width="0.7"/>
<line x1="180.04" y1="141.5" x2="183.24" y2="141.5" stroke="#3f62ae" stroke-width="0.7"/>
<circle cx="181.64" cy="138.9" r="2.15" fill="#3f62ae" stroke="none" stroke-width="1"/>
<line x1="188.75" y1="133.5" x2="188.75" y2="138.7" stroke="#3f62ae" stroke-width="0.7"/>
<line x1="187.15" y1="133.5" x2="190.35" y2="133.5" stroke="#3f62ae" stroke-width="0.7"/>
<line x1="187.15" y1="138.7" x2="190.35" y2="138.7" stroke="#3f62ae" stroke-width="0.7"/>
<circle cx="188.75" cy="136.1" r="2.15" fill="#3f62ae" stroke="none" stroke-width="1"/>
<line x1="195.86" y1="132.97" x2="195.86" y2="138.17" stroke="#3f62ae" stroke-width="0.7"/>
<line x1="194.26" y1="132.97" x2="197.46" y2="132.97" stroke="#3f62ae" stroke-width="0.7"/>
<line x1="194.26" y1="138.17" x2="197.46" y2="138.17" stroke="#3f62ae" stroke-width="0.7"/>
<circle cx="195.86" cy="135.57" r="2.15" fill="#3f62ae" stroke="none" stroke-width="1"/>
<line x1="202.97" y1="132.44" x2="202.97" y2="137.64" stroke="#3f62ae" stroke-width="0.7"/>
<line x1="201.38" y1="132.44" x2="204.57" y2="132.44" stroke="#3f62ae" stroke-width="0.7"/>
<line x1="201.38" y1="137.64" x2="204.57" y2="137.64" stroke="#3f62ae" stroke-width="0.7"/>
<circle cx="202.97" cy="135.04" r="2.15" fill="#3f62ae" stroke="none" stroke-width="1"/>
<line x1="210.09" y1="135.92" x2="210.09" y2="141.12" stroke="#3f62ae" stroke-width="0.7"/>
<line x1="208.49" y1="135.92" x2="211.69" y2="135.92" stroke="#3f62ae" stroke-width="0.7"/>
<line x1="208.49" y1="141.12" x2="211.69" y2="141.12" stroke="#3f62ae" stroke-width="0.7"/>
<circle cx="210.09" cy="138.52" r="2.15" fill="#3f62ae" stroke="none" stroke-width="1"/>
<line x1="217.2" y1="133.29" x2="217.2" y2="138.49" stroke="#3f62ae" stroke-width="0.7"/>
<line x1="215.6" y1="133.29" x2="218.8" y2="133.29" stroke="#3f62ae" stroke-width="0.7"/>
<line x1="215.6" y1="138.49" x2="218.8" y2="138.49" stroke="#3f62ae" stroke-width="0.7"/>
<circle cx="217.2" cy="135.89" r="2.15" fill="#3f62ae" stroke="none" stroke-width="1"/>
<line x1="224.31" y1="133.55" x2="224.31" y2="138.75" stroke="#3f62ae" stroke-width="0.7"/>
<line x1="222.71" y1="133.55" x2="225.91" y2="133.55" stroke="#3f62ae" stroke-width="0.7"/>
<line x1="222.71" y1="138.75" x2="225.91" y2="138.75" stroke="#3f62ae" stroke-width="0.7"/>
<circle cx="224.31" cy="136.15" r="2.15" fill="#3f62ae" stroke="none" stroke-width="1"/>
<line x1="231.43" y1="135.98" x2="231.43" y2="141.18" stroke="#3f62ae" stroke-width="0.7"/>
<line x1="229.83" y1="135.98" x2="233.03" y2="135.98" stroke="#3f62ae" stroke-width="0.7"/>
<line x1="229.83" y1="141.18" x2="233.03" y2="141.18" stroke="#3f62ae" stroke-width="0.7"/>
<circle cx="231.43" cy="138.58" r="2.15" fill="#3f62ae" stroke="none" stroke-width="1"/>
<line x1="238.54" y1="132.5" x2="238.54" y2="137.7" stroke="#3f62ae" stroke-width="0.7"/>
<line x1="236.94" y1="132.5" x2="240.14" y2="132.5" stroke="#3f62ae" stroke-width="0.7"/>
<line x1="236.94" y1="137.7" x2="240.14" y2="137.7" stroke="#3f62ae" stroke-width="0.7"/>
<circle cx="238.54" cy="135.1" r="2.15" fill="#3f62ae" stroke="none" stroke-width="1"/>
<line x1="245.65" y1="132.11" x2="245.65" y2="137.31" stroke="#3f62ae" stroke-width="0.7"/>
<line x1="244.05" y1="132.11" x2="247.25" y2="132.11" stroke="#3f62ae" stroke-width="0.7"/>
<line x1="244.05" y1="137.31" x2="247.25" y2="137.31" stroke="#3f62ae" stroke-width="0.7"/>
<circle cx="245.65" cy="134.71" r="2.15" fill="#3f62ae" stroke="none" stroke-width="1"/>
<line x1="252.76" y1="135.62" x2="252.76" y2="140.82" stroke="#3f62ae" stroke-width="0.7"/>
<line x1="251.16" y1="135.62" x2="254.36" y2="135.62" stroke="#3f62ae" stroke-width="0.7"/>
<line x1="251.16" y1="140.82" x2="254.36" y2="140.82" stroke="#3f62ae" stroke-width="0.7"/>
<circle cx="252.76" cy="138.22" r="2.15" fill="#3f62ae" stroke="none" stroke-width="1"/>
<line x1="259.88" y1="132.18" x2="259.88" y2="137.38" stroke="#3f62ae" stroke-width="0.7"/>
<line x1="258.27" y1="132.18" x2="261.48" y2="132.18" stroke="#3f62ae" stroke-width="0.7"/>
<line x1="258.27" y1="137.38" x2="261.48" y2="137.38" stroke="#3f62ae" stroke-width="0.7"/>
<circle cx="259.88" cy="134.78" r="2.15" fill="#3f62ae" stroke="none" stroke-width="1"/>
<line x1="266.99" y1="134.78" x2="266.99" y2="139.98" stroke="#3f62ae" stroke-width="0.7"/>
<line x1="265.39" y1="134.78" x2="268.59" y2="134.78" stroke="#3f62ae" stroke-width="0.7"/>
<line x1="265.39" y1="139.98" x2="268.59" y2="139.98" stroke="#3f62ae" stroke-width="0.7"/>
<circle cx="266.99" cy="137.38" r="2.15" fill="#3f62ae" stroke="none" stroke-width="1"/>
<line x1="274.1" y1="134.36" x2="274.1" y2="139.56" stroke="#3f62ae" stroke-width="0.7"/>
<line x1="272.5" y1="134.36" x2="275.7" y2="134.36" stroke="#3f62ae" stroke-width="0.7"/>
<line x1="272.5" y1="139.56" x2="275.7" y2="139.56" stroke="#3f62ae" stroke-width="0.7"/>
<circle cx="274.1" cy="136.96" r="2.15" fill="#3f62ae" stroke="none" stroke-width="1"/>
<line x1="281.21" y1="132" x2="281.21" y2="137.2" stroke="#3f62ae" stroke-width="0.7"/>
<line x1="279.61" y1="132" x2="282.81" y2="132" stroke="#3f62ae" stroke-width="0.7"/>
<line x1="279.61" y1="137.2" x2="282.81" y2="137.2" stroke="#3f62ae" stroke-width="0.7"/>
<circle cx="281.21" cy="134.6" r="2.15" fill="#3f62ae" stroke="none" stroke-width="1"/>
<line x1="288.32" y1="132.74" x2="288.32" y2="137.94" stroke="#3f62ae" stroke-width="0.7"/>
<line x1="286.72" y1="132.74" x2="289.93" y2="132.74" stroke="#3f62ae" stroke-width="0.7"/>
<line x1="286.72" y1="137.94" x2="289.93" y2="137.94" stroke="#3f62ae" stroke-width="0.7"/>
<circle cx="288.32" cy="135.34" r="2.15" fill="#3f62ae" stroke="none" stroke-width="1"/>
<line x1="295.44" y1="135.89" x2="295.44" y2="141.09" stroke="#3f62ae" stroke-width="0.7"/>
<line x1="293.84" y1="135.89" x2="297.04" y2="135.89" stroke="#3f62ae" stroke-width="0.7"/>
<line x1="293.84" y1="141.09" x2="297.04" y2="141.09" stroke="#3f62ae" stroke-width="0.7"/>
<circle cx="295.44" cy="138.49" r="2.15" fill="#3f62ae" stroke="none" stroke-width="1"/>
<line x1="302.55" y1="134.62" x2="302.55" y2="139.82" stroke="#3f62ae" stroke-width="0.7"/>
<line x1="300.95" y1="134.62" x2="304.15" y2="134.62" stroke="#3f62ae" stroke-width="0.7"/>
<line x1="300.95" y1="139.82" x2="304.15" y2="139.82" stroke="#3f62ae" stroke-width="0.7"/>
<circle cx="302.55" cy="137.22" r="2.15" fill="#3f62ae" stroke="none" stroke-width="1"/>
<line x1="309.66" y1="134.23" x2="309.66" y2="139.43" stroke="#3f62ae" stroke-width="0.7"/>
<line x1="308.06" y1="134.23" x2="311.26" y2="134.23" stroke="#3f62ae" stroke-width="0.7"/>
<line x1="308.06" y1="139.43" x2="311.26" y2="139.43" stroke="#3f62ae" stroke-width="0.7"/>
<circle cx="309.66" cy="136.83" r="2.15" fill="#3f62ae" stroke="none" stroke-width="1"/>
<line x1="316.77" y1="135.05" x2="316.77" y2="140.25" stroke="#3f62ae" stroke-width="0.7"/>
<line x1="315.17" y1="135.05" x2="318.38" y2="135.05" stroke="#3f62ae" stroke-width="0.7"/>
<line x1="315.17" y1="140.25" x2="318.38" y2="140.25" stroke="#3f62ae" stroke-width="0.7"/>
<circle cx="316.77" cy="137.65" r="2.15" fill="#3f62ae" stroke="none" stroke-width="1"/>
<line x1="323.89" y1="135.73" x2="323.89" y2="140.93" stroke="#3f62ae" stroke-width="0.7"/>
<line x1="322.29" y1="135.73" x2="325.49" y2="135.73" stroke="#3f62ae" stroke-width="0.7"/>
<line x1="322.29" y1="140.93" x2="325.49" y2="140.93" stroke="#3f62ae" stroke-width="0.7"/>
<circle cx="323.89" cy="138.33" r="2.15" fill="#3f62ae" stroke="none" stroke-width="1"/>
<line x1="331" y1="135.15" x2="331" y2="140.35" stroke="#3f62ae" stroke-width="0.7"/>
<line x1="329.4" y1="135.15" x2="332.6" y2="135.15" stroke="#3f62ae" stroke-width="0.7"/>
<line x1="329.4" y1="140.35" x2="332.6" y2="140.35" stroke="#3f62ae" stroke-width="0.7"/>
<circle cx="331" cy="137.75" r="2.15" fill="#3f62ae" stroke="none" stroke-width="1"/>
<polyline points="46.5,109.3 53.61,135.15 60.73,136.32 67.84,136.33 74.95,136.95 82.06,139.28 89.17,137.55 96.29,135.94 103.4,136.56 110.51,139.03 117.62,133.95 124.74,135.03 131.85,134.02 138.96,138.81 146.07,137.72 153.19,138.78 160.3,135.31 167.41,137.7 174.53,138.36 181.64,136.99 188.75,134.69 195.86,135.13 202.97,137.76 210.09,138.27 217.2,134.66 224.31,136.29 231.43,135.68 238.54,138.55 245.65,138.7 252.76,135.74 259.88,136.97 266.99,138.63 274.1,134.57 281.21,135.99 288.32,135.21 295.44,138.58 302.55,134.95 309.66,138.66 316.77,134.92 323.89,136.84 331,137.38" fill="none" stroke="#eea03f" stroke-width="0.75" stroke-linejoin="round"/>
<circle cx="46.5" cy="109.3" r="2.15" fill="#eea03f" stroke="none" stroke-width="1"/>
<line x1="53.61" y1="132.55" x2="53.61" y2="137.75" stroke="#eea03f" stroke-width="0.7"/>
<line x1="52.01" y1="132.55" x2="55.21" y2="132.55" stroke="#eea03f" stroke-width="0.7"/>
<line x1="52.01" y1="137.75" x2="55.21" y2="137.75" stroke="#eea03f" stroke-width="0.7"/>
<circle cx="53.61" cy="135.15" r="2.15" fill="#eea03f" stroke="none" stroke-width="1"/>
<line x1="60.73" y1="133.72" x2="60.73" y2="138.92" stroke="#eea03f" stroke-width="0.7"/>
<line x1="59.12" y1="133.72" x2="62.33" y2="133.72" stroke="#eea03f" stroke-width="0.7"/>
<line x1="59.12" y1="138.92" x2="62.33" y2="138.92" stroke="#eea03f" stroke-width="0.7"/>
<circle cx="60.73" cy="136.32" r="2.15" fill="#eea03f" stroke="none" stroke-width="1"/>
<line x1="67.84" y1="133.73" x2="67.84" y2="138.93" stroke="#eea03f" stroke-width="0.7"/>
<line x1="66.24" y1="133.73" x2="69.44" y2="133.73" stroke="#eea03f" stroke-width="0.7"/>
<line x1="66.24" y1="138.93" x2="69.44" y2="138.93" stroke="#eea03f" stroke-width="0.7"/>
<circle cx="67.84" cy="136.33" r="2.15" fill="#eea03f" stroke="none" stroke-width="1"/>
<line x1="74.95" y1="134.35" x2="74.95" y2="139.55" stroke="#eea03f" stroke-width="0.7"/>
<line x1="73.35" y1="134.35" x2="76.55" y2="134.35" stroke="#eea03f" stroke-width="0.7"/>
<line x1="73.35" y1="139.55" x2="76.55" y2="139.55" stroke="#eea03f" stroke-width="0.7"/>
<circle cx="74.95" cy="136.95" r="2.15" fill="#eea03f" stroke="none" stroke-width="1"/>
<line x1="82.06" y1="136.68" x2="82.06" y2="141.88" stroke="#eea03f" stroke-width="0.7"/>
<line x1="80.46" y1="136.68" x2="83.66" y2="136.68" stroke="#eea03f" stroke-width="0.7"/>
<line x1="80.46" y1="141.88" x2="83.66" y2="141.88" stroke="#eea03f" stroke-width="0.7"/>
<circle cx="82.06" cy="139.28" r="2.15" fill="#eea03f" stroke="none" stroke-width="1"/>
<line x1="89.17" y1="134.95" x2="89.17" y2="140.15" stroke="#eea03f" stroke-width="0.7"/>
<line x1="87.58" y1="134.95" x2="90.77" y2="134.95" stroke="#eea03f" stroke-width="0.7"/>
<line x1="87.58" y1="140.15" x2="90.77" y2="140.15" stroke="#eea03f" stroke-width="0.7"/>
<circle cx="89.17" cy="137.55" r="2.15" fill="#eea03f" stroke="none" stroke-width="1"/>
<line x1="96.29" y1="133.34" x2="96.29" y2="138.54" stroke="#eea03f" stroke-width="0.7"/>
<line x1="94.69" y1="133.34" x2="97.89" y2="133.34" stroke="#eea03f" stroke-width="0.7"/>
<line x1="94.69" y1="138.54" x2="97.89" y2="138.54" stroke="#eea03f" stroke-width="0.7"/>
<circle cx="96.29" cy="135.94" r="2.15" fill="#eea03f" stroke="none" stroke-width="1"/>
<line x1="103.4" y1="133.96" x2="103.4" y2="139.16" stroke="#eea03f" stroke-width="0.7"/>
<line x1="101.8" y1="133.96" x2="105" y2="133.96" stroke="#eea03f" stroke-width="0.7"/>
<line x1="101.8" y1="139.16" x2="105" y2="139.16" stroke="#eea03f" stroke-width="0.7"/>
<circle cx="103.4" cy="136.56" r="2.15" fill="#eea03f" stroke="none" stroke-width="1"/>
<line x1="110.51" y1="136.43" x2="110.51" y2="141.63" stroke="#eea03f" stroke-width="0.7"/>
<line x1="108.91" y1="136.43" x2="112.11" y2="136.43" stroke="#eea03f" stroke-width="0.7"/>
<line x1="108.91" y1="141.63" x2="112.11" y2="141.63" stroke="#eea03f" stroke-width="0.7"/>
<circle cx="110.51" cy="139.03" r="2.15" fill="#eea03f" stroke="none" stroke-width="1"/>
<line x1="117.62" y1="131.35" x2="117.62" y2="136.55" stroke="#eea03f" stroke-width="0.7"/>
<line x1="116.03" y1="131.35" x2="119.22" y2="131.35" stroke="#eea03f" stroke-width="0.7"/>
<line x1="116.03" y1="136.55" x2="119.22" y2="136.55" stroke="#eea03f" stroke-width="0.7"/>
<circle cx="117.62" cy="133.95" r="2.15" fill="#eea03f" stroke="none" stroke-width="1"/>
<line x1="124.74" y1="132.43" x2="124.74" y2="137.63" stroke="#eea03f" stroke-width="0.7"/>
<line x1="123.14" y1="132.43" x2="126.34" y2="132.43" stroke="#eea03f" stroke-width="0.7"/>
<line x1="123.14" y1="137.63" x2="126.34" y2="137.63" stroke="#eea03f" stroke-width="0.7"/>
<circle cx="124.74" cy="135.03" r="2.15" fill="#eea03f" stroke="none" stroke-width="1"/>
<line x1="131.85" y1="131.42" x2="131.85" y2="136.62" stroke="#eea03f" stroke-width="0.7"/>
<line x1="130.25" y1="131.42" x2="133.45" y2="131.42" stroke="#eea03f" stroke-width="0.7"/>
<line x1="130.25" y1="136.62" x2="133.45" y2="136.62" stroke="#eea03f" stroke-width="0.7"/>
<circle cx="131.85" cy="134.02" r="2.15" fill="#eea03f" stroke="none" stroke-width="1"/>
<line x1="138.96" y1="136.21" x2="138.96" y2="141.41" stroke="#eea03f" stroke-width="0.7"/>
<line x1="137.36" y1="136.21" x2="140.56" y2="136.21" stroke="#eea03f" stroke-width="0.7"/>
<line x1="137.36" y1="141.41" x2="140.56" y2="141.41" stroke="#eea03f" stroke-width="0.7"/>
<circle cx="138.96" cy="138.81" r="2.15" fill="#eea03f" stroke="none" stroke-width="1"/>
<line x1="146.07" y1="135.12" x2="146.07" y2="140.32" stroke="#eea03f" stroke-width="0.7"/>
<line x1="144.47" y1="135.12" x2="147.67" y2="135.12" stroke="#eea03f" stroke-width="0.7"/>
<line x1="144.47" y1="140.32" x2="147.67" y2="140.32" stroke="#eea03f" stroke-width="0.7"/>
<circle cx="146.07" cy="137.72" r="2.15" fill="#eea03f" stroke="none" stroke-width="1"/>
<line x1="153.19" y1="136.18" x2="153.19" y2="141.38" stroke="#eea03f" stroke-width="0.7"/>
<line x1="151.59" y1="136.18" x2="154.79" y2="136.18" stroke="#eea03f" stroke-width="0.7"/>
<line x1="151.59" y1="141.38" x2="154.79" y2="141.38" stroke="#eea03f" stroke-width="0.7"/>
<circle cx="153.19" cy="138.78" r="2.15" fill="#eea03f" stroke="none" stroke-width="1"/>
<line x1="160.3" y1="132.71" x2="160.3" y2="137.91" stroke="#eea03f" stroke-width="0.7"/>
<line x1="158.7" y1="132.71" x2="161.9" y2="132.71" stroke="#eea03f" stroke-width="0.7"/>
<line x1="158.7" y1="137.91" x2="161.9" y2="137.91" stroke="#eea03f" stroke-width="0.7"/>
<circle cx="160.3" cy="135.31" r="2.15" fill="#eea03f" stroke="none" stroke-width="1"/>
<line x1="167.41" y1="135.1" x2="167.41" y2="140.3" stroke="#eea03f" stroke-width="0.7"/>
<line x1="165.81" y1="135.1" x2="169.01" y2="135.1" stroke="#eea03f" stroke-width="0.7"/>
<line x1="165.81" y1="140.3" x2="169.01" y2="140.3" stroke="#eea03f" stroke-width="0.7"/>
<circle cx="167.41" cy="137.7" r="2.15" fill="#eea03f" stroke="none" stroke-width="1"/>
<line x1="174.53" y1="135.76" x2="174.53" y2="140.96" stroke="#eea03f" stroke-width="0.7"/>
<line x1="172.93" y1="135.76" x2="176.12" y2="135.76" stroke="#eea03f" stroke-width="0.7"/>
<line x1="172.93" y1="140.96" x2="176.12" y2="140.96" stroke="#eea03f" stroke-width="0.7"/>
<circle cx="174.53" cy="138.36" r="2.15" fill="#eea03f" stroke="none" stroke-width="1"/>
<line x1="181.64" y1="134.39" x2="181.64" y2="139.59" stroke="#eea03f" stroke-width="0.7"/>
<line x1="180.04" y1="134.39" x2="183.24" y2="134.39" stroke="#eea03f" stroke-width="0.7"/>
<line x1="180.04" y1="139.59" x2="183.24" y2="139.59" stroke="#eea03f" stroke-width="0.7"/>
<circle cx="181.64" cy="136.99" r="2.15" fill="#eea03f" stroke="none" stroke-width="1"/>
<line x1="188.75" y1="132.09" x2="188.75" y2="137.29" stroke="#eea03f" stroke-width="0.7"/>
<line x1="187.15" y1="132.09" x2="190.35" y2="132.09" stroke="#eea03f" stroke-width="0.7"/>
<line x1="187.15" y1="137.29" x2="190.35" y2="137.29" stroke="#eea03f" stroke-width="0.7"/>
<circle cx="188.75" cy="134.69" r="2.15" fill="#eea03f" stroke="none" stroke-width="1"/>
<line x1="195.86" y1="132.53" x2="195.86" y2="137.73" stroke="#eea03f" stroke-width="0.7"/>
<line x1="194.26" y1="132.53" x2="197.46" y2="132.53" stroke="#eea03f" stroke-width="0.7"/>
<line x1="194.26" y1="137.73" x2="197.46" y2="137.73" stroke="#eea03f" stroke-width="0.7"/>
<circle cx="195.86" cy="135.13" r="2.15" fill="#eea03f" stroke="none" stroke-width="1"/>
<line x1="202.97" y1="135.16" x2="202.97" y2="140.36" stroke="#eea03f" stroke-width="0.7"/>
<line x1="201.38" y1="135.16" x2="204.57" y2="135.16" stroke="#eea03f" stroke-width="0.7"/>
<line x1="201.38" y1="140.36" x2="204.57" y2="140.36" stroke="#eea03f" stroke-width="0.7"/>
<circle cx="202.97" cy="137.76" r="2.15" fill="#eea03f" stroke="none" stroke-width="1"/>
<line x1="210.09" y1="135.67" x2="210.09" y2="140.87" stroke="#eea03f" stroke-width="0.7"/>
<line x1="208.49" y1="135.67" x2="211.69" y2="135.67" stroke="#eea03f" stroke-width="0.7"/>
<line x1="208.49" y1="140.87" x2="211.69" y2="140.87" stroke="#eea03f" stroke-width="0.7"/>
<circle cx="210.09" cy="138.27" r="2.15" fill="#eea03f" stroke="none" stroke-width="1"/>
<line x1="217.2" y1="132.06" x2="217.2" y2="137.26" stroke="#eea03f" stroke-width="0.7"/>
<line x1="215.6" y1="132.06" x2="218.8" y2="132.06" stroke="#eea03f" stroke-width="0.7"/>
<line x1="215.6" y1="137.26" x2="218.8" y2="137.26" stroke="#eea03f" stroke-width="0.7"/>
<circle cx="217.2" cy="134.66" r="2.15" fill="#eea03f" stroke="none" stroke-width="1"/>
<line x1="224.31" y1="133.69" x2="224.31" y2="138.89" stroke="#eea03f" stroke-width="0.7"/>
<line x1="222.71" y1="133.69" x2="225.91" y2="133.69" stroke="#eea03f" stroke-width="0.7"/>
<line x1="222.71" y1="138.89" x2="225.91" y2="138.89" stroke="#eea03f" stroke-width="0.7"/>
<circle cx="224.31" cy="136.29" r="2.15" fill="#eea03f" stroke="none" stroke-width="1"/>
<line x1="231.43" y1="133.08" x2="231.43" y2="138.28" stroke="#eea03f" stroke-width="0.7"/>
<line x1="229.83" y1="133.08" x2="233.03" y2="133.08" stroke="#eea03f" stroke-width="0.7"/>
<line x1="229.83" y1="138.28" x2="233.03" y2="138.28" stroke="#eea03f" stroke-width="0.7"/>
<circle cx="231.43" cy="135.68" r="2.15" fill="#eea03f" stroke="none" stroke-width="1"/>
<line x1="238.54" y1="135.95" x2="238.54" y2="141.15" stroke="#eea03f" stroke-width="0.7"/>
<line x1="236.94" y1="135.95" x2="240.14" y2="135.95" stroke="#eea03f" stroke-width="0.7"/>
<line x1="236.94" y1="141.15" x2="240.14" y2="141.15" stroke="#eea03f" stroke-width="0.7"/>
<circle cx="238.54" cy="138.55" r="2.15" fill="#eea03f" stroke="none" stroke-width="1"/>
<line x1="245.65" y1="136.1" x2="245.65" y2="141.3" stroke="#eea03f" stroke-width="0.7"/>
<line x1="244.05" y1="136.1" x2="247.25" y2="136.1" stroke="#eea03f" stroke-width="0.7"/>
<line x1="244.05" y1="141.3" x2="247.25" y2="141.3" stroke="#eea03f" stroke-width="0.7"/>
<circle cx="245.65" cy="138.7" r="2.15" fill="#eea03f" stroke="none" stroke-width="1"/>
<line x1="252.76" y1="133.14" x2="252.76" y2="138.34" stroke="#eea03f" stroke-width="0.7"/>
<line x1="251.16" y1="133.14" x2="254.36" y2="133.14" stroke="#eea03f" stroke-width="0.7"/>
<line x1="251.16" y1="138.34" x2="254.36" y2="138.34" stroke="#eea03f" stroke-width="0.7"/>
<circle cx="252.76" cy="135.74" r="2.15" fill="#eea03f" stroke="none" stroke-width="1"/>
<line x1="259.88" y1="134.37" x2="259.88" y2="139.57" stroke="#eea03f" stroke-width="0.7"/>
<line x1="258.27" y1="134.37" x2="261.48" y2="134.37" stroke="#eea03f" stroke-width="0.7"/>
<line x1="258.27" y1="139.57" x2="261.48" y2="139.57" stroke="#eea03f" stroke-width="0.7"/>
<circle cx="259.88" cy="136.97" r="2.15" fill="#eea03f" stroke="none" stroke-width="1"/>
<line x1="266.99" y1="136.03" x2="266.99" y2="141.23" stroke="#eea03f" stroke-width="0.7"/>
<line x1="265.39" y1="136.03" x2="268.59" y2="136.03" stroke="#eea03f" stroke-width="0.7"/>
<line x1="265.39" y1="141.23" x2="268.59" y2="141.23" stroke="#eea03f" stroke-width="0.7"/>
<circle cx="266.99" cy="138.63" r="2.15" fill="#eea03f" stroke="none" stroke-width="1"/>
<line x1="274.1" y1="131.97" x2="274.1" y2="137.17" stroke="#eea03f" stroke-width="0.7"/>
<line x1="272.5" y1="131.97" x2="275.7" y2="131.97" stroke="#eea03f" stroke-width="0.7"/>
<line x1="272.5" y1="137.17" x2="275.7" y2="137.17" stroke="#eea03f" stroke-width="0.7"/>
<circle cx="274.1" cy="134.57" r="2.15" fill="#eea03f" stroke="none" stroke-width="1"/>
<line x1="281.21" y1="133.39" x2="281.21" y2="138.59" stroke="#eea03f" stroke-width="0.7"/>
<line x1="279.61" y1="133.39" x2="282.81" y2="133.39" stroke="#eea03f" stroke-width="0.7"/>
<line x1="279.61" y1="138.59" x2="282.81" y2="138.59" stroke="#eea03f" stroke-width="0.7"/>
<circle cx="281.21" cy="135.99" r="2.15" fill="#eea03f" stroke="none" stroke-width="1"/>
<line x1="288.32" y1="132.61" x2="288.32" y2="137.81" stroke="#eea03f" stroke-width="0.7"/>
<line x1="286.72" y1="132.61" x2="289.93" y2="132.61" stroke="#eea03f" stroke-width="0.7"/>
<line x1="286.72" y1="137.81" x2="289.93" y2="137.81" stroke="#eea03f" stroke-width="0.7"/>
<circle cx="288.32" cy="135.21" r="2.15" fill="#eea03f" stroke="none" stroke-width="1"/>
<line x1="295.44" y1="135.98" x2="295.44" y2="141.18" stroke="#eea03f" stroke-width="0.7"/>
<line x1="293.84" y1="135.98" x2="297.04" y2="135.98" stroke="#eea03f" stroke-width="0.7"/>
<line x1="293.84" y1="141.18" x2="297.04" y2="141.18" stroke="#eea03f" stroke-width="0.7"/>
<circle cx="295.44" cy="138.58" r="2.15" fill="#eea03f" stroke="none" stroke-width="1"/>
<line x1="302.55" y1="132.35" x2="302.55" y2="137.55" stroke="#eea03f" stroke-width="0.7"/>
<line x1="300.95" y1="132.35" x2="304.15" y2="132.35" stroke="#eea03f" stroke-width="0.7"/>
<line x1="300.95" y1="137.55" x2="304.15" y2="137.55" stroke="#eea03f" stroke-width="0.7"/>
<circle cx="302.55" cy="134.95" r="2.15" fill="#eea03f" stroke="none" stroke-width="1"/>
<line x1="309.66" y1="136.06" x2="309.66" y2="141.26" stroke="#eea03f" stroke-width="0.7"/>
<line x1="308.06" y1="136.06" x2="311.26" y2="136.06" stroke="#eea03f" stroke-width="0.7"/>
<line x1="308.06" y1="141.26" x2="311.26" y2="141.26" stroke="#eea03f" stroke-width="0.7"/>
<circle cx="309.66" cy="138.66" r="2.15" fill="#eea03f" stroke="none" stroke-width="1"/>
<line x1="316.77" y1="132.32" x2="316.77" y2="137.52" stroke="#eea03f" stroke-width="0.7"/>
<line x1="315.17" y1="132.32" x2="318.38" y2="132.32" stroke="#eea03f" stroke-width="0.7"/>
<line x1="315.17" y1="137.52" x2="318.38" y2="137.52" stroke="#eea03f" stroke-width="0.7"/>
<circle cx="316.77" cy="134.92" r="2.15" fill="#eea03f" stroke="none" stroke-width="1"/>
<line x1="323.89" y1="134.24" x2="323.89" y2="139.44" stroke="#eea03f" stroke-width="0.7"/>
<line x1="322.29" y1="134.24" x2="325.49" y2="134.24" stroke="#eea03f" stroke-width="0.7"/>
<line x1="322.29" y1="139.44" x2="325.49" y2="139.44" stroke="#eea03f" stroke-width="0.7"/>
<circle cx="323.89" cy="136.84" r="2.15" fill="#eea03f" stroke="none" stroke-width="1"/>
<line x1="331" y1="134.78" x2="331" y2="139.98" stroke="#eea03f" stroke-width="0.7"/>
<line x1="329.4" y1="134.78" x2="332.6" y2="134.78" stroke="#eea03f" stroke-width="0.7"/>
<line x1="329.4" y1="139.98" x2="332.6" y2="139.98" stroke="#eea03f" stroke-width="0.7"/>
<circle cx="331" cy="137.38" r="2.15" fill="#eea03f" stroke="none" stroke-width="1"/>
<polyline points="46.5,109.3 53.61,137.64 60.73,137.02 67.84,138.18 74.95,138.95 82.06,136.75 89.17,138.34 96.29,139.06 103.4,138.77 110.51,139.38 117.62,138.55 124.74,137.94 131.85,137.98 138.96,135.47 146.07,137.89 153.19,136.9 160.3,138.41 167.41,137.62 174.53,139.16 181.64,138.07 188.75,139.17 195.86,135.81 202.97,136.66 210.09,138.36 217.2,137.02 224.31,134.86 231.43,138.75 238.54,135.4 245.65,137.22 252.76,136.92 259.88,135.33 266.99,137.4 274.1,136.87 281.21,136.02 288.32,134.64 295.44,137.64 302.55,135.34 309.66,135.93 316.77,136.26 323.89,137.35 331,137.62" fill="none" stroke="#3aa886" stroke-width="0.75" stroke-linejoin="round"/>
<circle cx="46.5" cy="109.3" r="2.15" fill="#3aa886" stroke="none" stroke-width="1"/>
<line x1="53.61" y1="135.04" x2="53.61" y2="140.24" stroke="#3aa886" stroke-width="0.7"/>
<line x1="52.01" y1="135.04" x2="55.21" y2="135.04" stroke="#3aa886" stroke-width="0.7"/>
<line x1="52.01" y1="140.24" x2="55.21" y2="140.24" stroke="#3aa886" stroke-width="0.7"/>
<circle cx="53.61" cy="137.64" r="2.15" fill="#3aa886" stroke="none" stroke-width="1"/>
<line x1="60.73" y1="134.42" x2="60.73" y2="139.62" stroke="#3aa886" stroke-width="0.7"/>
<line x1="59.12" y1="134.42" x2="62.33" y2="134.42" stroke="#3aa886" stroke-width="0.7"/>
<line x1="59.12" y1="139.62" x2="62.33" y2="139.62" stroke="#3aa886" stroke-width="0.7"/>
<circle cx="60.73" cy="137.02" r="2.15" fill="#3aa886" stroke="none" stroke-width="1"/>
<line x1="67.84" y1="135.58" x2="67.84" y2="140.78" stroke="#3aa886" stroke-width="0.7"/>
<line x1="66.24" y1="135.58" x2="69.44" y2="135.58" stroke="#3aa886" stroke-width="0.7"/>
<line x1="66.24" y1="140.78" x2="69.44" y2="140.78" stroke="#3aa886" stroke-width="0.7"/>
<circle cx="67.84" cy="138.18" r="2.15" fill="#3aa886" stroke="none" stroke-width="1"/>
<line x1="74.95" y1="136.35" x2="74.95" y2="141.55" stroke="#3aa886" stroke-width="0.7"/>
<line x1="73.35" y1="136.35" x2="76.55" y2="136.35" stroke="#3aa886" stroke-width="0.7"/>
<line x1="73.35" y1="141.55" x2="76.55" y2="141.55" stroke="#3aa886" stroke-width="0.7"/>
<circle cx="74.95" cy="138.95" r="2.15" fill="#3aa886" stroke="none" stroke-width="1"/>
<line x1="82.06" y1="134.15" x2="82.06" y2="139.35" stroke="#3aa886" stroke-width="0.7"/>
<line x1="80.46" y1="134.15" x2="83.66" y2="134.15" stroke="#3aa886" stroke-width="0.7"/>
<line x1="80.46" y1="139.35" x2="83.66" y2="139.35" stroke="#3aa886" stroke-width="0.7"/>
<circle cx="82.06" cy="136.75" r="2.15" fill="#3aa886" stroke="none" stroke-width="1"/>
<line x1="89.17" y1="135.74" x2="89.17" y2="140.94" stroke="#3aa886" stroke-width="0.7"/>
<line x1="87.58" y1="135.74" x2="90.77" y2="135.74" stroke="#3aa886" stroke-width="0.7"/>
<line x1="87.58" y1="140.94" x2="90.77" y2="140.94" stroke="#3aa886" stroke-width="0.7"/>
<circle cx="89.17" cy="138.34" r="2.15" fill="#3aa886" stroke="none" stroke-width="1"/>
<line x1="96.29" y1="136.46" x2="96.29" y2="141.66" stroke="#3aa886" stroke-width="0.7"/>
<line x1="94.69" y1="136.46" x2="97.89" y2="136.46" stroke="#3aa886" stroke-width="0.7"/>
<line x1="94.69" y1="141.66" x2="97.89" y2="141.66" stroke="#3aa886" stroke-width="0.7"/>
<circle cx="96.29" cy="139.06" r="2.15" fill="#3aa886" stroke="none" stroke-width="1"/>
<line x1="103.4" y1="136.17" x2="103.4" y2="141.37" stroke="#3aa886" stroke-width="0.7"/>
<line x1="101.8" y1="136.17" x2="105" y2="136.17" stroke="#3aa886" stroke-width="0.7"/>
<line x1="101.8" y1="141.37" x2="105" y2="141.37" stroke="#3aa886" stroke-width="0.7"/>
<circle cx="103.4" cy="138.77" r="2.15" fill="#3aa886" stroke="none" stroke-width="1"/>
<line x1="110.51" y1="136.78" x2="110.51" y2="141.98" stroke="#3aa886" stroke-width="0.7"/>
<line x1="108.91" y1="136.78" x2="112.11" y2="136.78" stroke="#3aa886" stroke-width="0.7"/>
<line x1="108.91" y1="141.98" x2="112.11" y2="141.98" stroke="#3aa886" stroke-width="0.7"/>
<circle cx="110.51" cy="139.38" r="2.15" fill="#3aa886" stroke="none" stroke-width="1"/>
<line x1="117.62" y1="135.95" x2="117.62" y2="141.15" stroke="#3aa886" stroke-width="0.7"/>
<line x1="116.03" y1="135.95" x2="119.22" y2="135.95" stroke="#3aa886" stroke-width="0.7"/>
<line x1="116.03" y1="141.15" x2="119.22" y2="141.15" stroke="#3aa886" stroke-width="0.7"/>
<circle cx="117.62" cy="138.55" r="2.15" fill="#3aa886" stroke="none" stroke-width="1"/>
<line x1="124.74" y1="135.34" x2="124.74" y2="140.54" stroke="#3aa886" stroke-width="0.7"/>
<line x1="123.14" y1="135.34" x2="126.34" y2="135.34" stroke="#3aa886" stroke-width="0.7"/>
<line x1="123.14" y1="140.54" x2="126.34" y2="140.54" stroke="#3aa886" stroke-width="0.7"/>
<circle cx="124.74" cy="137.94" r="2.15" fill="#3aa886" stroke="none" stroke-width="1"/>
<line x1="131.85" y1="135.38" x2="131.85" y2="140.58" stroke="#3aa886" stroke-width="0.7"/>
<line x1="130.25" y1="135.38" x2="133.45" y2="135.38" stroke="#3aa886" stroke-width="0.7"/>
<line x1="130.25" y1="140.58" x2="133.45" y2="140.58" stroke="#3aa886" stroke-width="0.7"/>
<circle cx="131.85" cy="137.98" r="2.15" fill="#3aa886" stroke="none" stroke-width="1"/>
<line x1="138.96" y1="132.87" x2="138.96" y2="138.07" stroke="#3aa886" stroke-width="0.7"/>
<line x1="137.36" y1="132.87" x2="140.56" y2="132.87" stroke="#3aa886" stroke-width="0.7"/>
<line x1="137.36" y1="138.07" x2="140.56" y2="138.07" stroke="#3aa886" stroke-width="0.7"/>
<circle cx="138.96" cy="135.47" r="2.15" fill="#3aa886" stroke="none" stroke-width="1"/>
<line x1="146.07" y1="135.29" x2="146.07" y2="140.49" stroke="#3aa886" stroke-width="0.7"/>
<line x1="144.47" y1="135.29" x2="147.67" y2="135.29" stroke="#3aa886" stroke-width="0.7"/>
<line x1="144.47" y1="140.49" x2="147.67" y2="140.49" stroke="#3aa886" stroke-width="0.7"/>
<circle cx="146.07" cy="137.89" r="2.15" fill="#3aa886" stroke="none" stroke-width="1"/>
<line x1="153.19" y1="134.3" x2="153.19" y2="139.5" stroke="#3aa886" stroke-width="0.7"/>
<line x1="151.59" y1="134.3" x2="154.79" y2="134.3" stroke="#3aa886" stroke-width="0.7"/>
<line x1="151.59" y1="139.5" x2="154.79" y2="139.5" stroke="#3aa886" stroke-width="0.7"/>
<circle cx="153.19" cy="136.9" r="2.15" fill="#3aa886" stroke="none" stroke-width="1"/>
<line x1="160.3" y1="135.81" x2="160.3" y2="141.01" stroke="#3aa886" stroke-width="0.7"/>
<line x1="158.7" y1="135.81" x2="161.9" y2="135.81" stroke="#3aa886" stroke-width="0.7"/>
<line x1="158.7" y1="141.01" x2="161.9" y2="141.01" stroke="#3aa886" stroke-width="0.7"/>
<circle cx="160.3" cy="138.41" r="2.15" fill="#3aa886" stroke="none" stroke-width="1"/>
<line x1="167.41" y1="135.02" x2="167.41" y2="140.22" stroke="#3aa886" stroke-width="0.7"/>
<line x1="165.81" y1="135.02" x2="169.01" y2="135.02" stroke="#3aa886" stroke-width="0.7"/>
<line x1="165.81" y1="140.22" x2="169.01" y2="140.22" stroke="#3aa886" stroke-width="0.7"/>
<circle cx="167.41" cy="137.62" r="2.15" fill="#3aa886" stroke="none" stroke-width="1"/>
<line x1="174.53" y1="136.56" x2="174.53" y2="141.76" stroke="#3aa886" stroke-width="0.7"/>
<line x1="172.93" y1="136.56" x2="176.12" y2="136.56" stroke="#3aa886" stroke-width="0.7"/>
<line x1="172.93" y1="141.76" x2="176.12" y2="141.76" stroke="#3aa886" stroke-width="0.7"/>
<circle cx="174.53" cy="139.16" r="2.15" fill="#3aa886" stroke="none" stroke-width="1"/>
<line x1="181.64" y1="135.47" x2="181.64" y2="140.67" stroke="#3aa886" stroke-width="0.7"/>
<line x1="180.04" y1="135.47" x2="183.24" y2="135.47" stroke="#3aa886" stroke-width="0.7"/>
<line x1="180.04" y1="140.67" x2="183.24" y2="140.67" stroke="#3aa886" stroke-width="0.7"/>
<circle cx="181.64" cy="138.07" r="2.15" fill="#3aa886" stroke="none" stroke-width="1"/>
<line x1="188.75" y1="136.57" x2="188.75" y2="141.77" stroke="#3aa886" stroke-width="0.7"/>
<line x1="187.15" y1="136.57" x2="190.35" y2="136.57" stroke="#3aa886" stroke-width="0.7"/>
<line x1="187.15" y1="141.77" x2="190.35" y2="141.77" stroke="#3aa886" stroke-width="0.7"/>
<circle cx="188.75" cy="139.17" r="2.15" fill="#3aa886" stroke="none" stroke-width="1"/>
<line x1="195.86" y1="133.21" x2="195.86" y2="138.41" stroke="#3aa886" stroke-width="0.7"/>
<line x1="194.26" y1="133.21" x2="197.46" y2="133.21" stroke="#3aa886" stroke-width="0.7"/>
<line x1="194.26" y1="138.41" x2="197.46" y2="138.41" stroke="#3aa886" stroke-width="0.7"/>
<circle cx="195.86" cy="135.81" r="2.15" fill="#3aa886" stroke="none" stroke-width="1"/>
<line x1="202.97" y1="134.06" x2="202.97" y2="139.26" stroke="#3aa886" stroke-width="0.7"/>
<line x1="201.38" y1="134.06" x2="204.57" y2="134.06" stroke="#3aa886" stroke-width="0.7"/>
<line x1="201.38" y1="139.26" x2="204.57" y2="139.26" stroke="#3aa886" stroke-width="0.7"/>
<circle cx="202.97" cy="136.66" r="2.15" fill="#3aa886" stroke="none" stroke-width="1"/>
<line x1="210.09" y1="135.76" x2="210.09" y2="140.96" stroke="#3aa886" stroke-width="0.7"/>
<line x1="208.49" y1="135.76" x2="211.69" y2="135.76" stroke="#3aa886" stroke-width="0.7"/>
<line x1="208.49" y1="140.96" x2="211.69" y2="140.96" stroke="#3aa886" stroke-width="0.7"/>
<circle cx="210.09" cy="138.36" r="2.15" fill="#3aa886" stroke="none" stroke-width="1"/>
<line x1="217.2" y1="134.42" x2="217.2" y2="139.62" stroke="#3aa886" stroke-width="0.7"/>
<line x1="215.6" y1="134.42" x2="218.8" y2="134.42" stroke="#3aa886" stroke-width="0.7"/>
<line x1="215.6" y1="139.62" x2="218.8" y2="139.62" stroke="#3aa886" stroke-width="0.7"/>
<circle cx="217.2" cy="137.02" r="2.15" fill="#3aa886" stroke="none" stroke-width="1"/>
<line x1="224.31" y1="132.26" x2="224.31" y2="137.46" stroke="#3aa886" stroke-width="0.7"/>
<line x1="222.71" y1="132.26" x2="225.91" y2="132.26" stroke="#3aa886" stroke-width="0.7"/>
<line x1="222.71" y1="137.46" x2="225.91" y2="137.46" stroke="#3aa886" stroke-width="0.7"/>
<circle cx="224.31" cy="134.86" r="2.15" fill="#3aa886" stroke="none" stroke-width="1"/>
<line x1="231.43" y1="136.15" x2="231.43" y2="141.35" stroke="#3aa886" stroke-width="0.7"/>
<line x1="229.83" y1="136.15" x2="233.03" y2="136.15" stroke="#3aa886" stroke-width="0.7"/>
<line x1="229.83" y1="141.35" x2="233.03" y2="141.35" stroke="#3aa886" stroke-width="0.7"/>
<circle cx="231.43" cy="138.75" r="2.15" fill="#3aa886" stroke="none" stroke-width="1"/>
<line x1="238.54" y1="132.8" x2="238.54" y2="138" stroke="#3aa886" stroke-width="0.7"/>
<line x1="236.94" y1="132.8" x2="240.14" y2="132.8" stroke="#3aa886" stroke-width="0.7"/>
<line x1="236.94" y1="138" x2="240.14" y2="138" stroke="#3aa886" stroke-width="0.7"/>
<circle cx="238.54" cy="135.4" r="2.15" fill="#3aa886" stroke="none" stroke-width="1"/>
<line x1="245.65" y1="134.62" x2="245.65" y2="139.82" stroke="#3aa886" stroke-width="0.7"/>
<line x1="244.05" y1="134.62" x2="247.25" y2="134.62" stroke="#3aa886" stroke-width="0.7"/>
<line x1="244.05" y1="139.82" x2="247.25" y2="139.82" stroke="#3aa886" stroke-width="0.7"/>
<circle cx="245.65" cy="137.22" r="2.15" fill="#3aa886" stroke="none" stroke-width="1"/>
<line x1="252.76" y1="134.32" x2="252.76" y2="139.52" stroke="#3aa886" stroke-width="0.7"/>
<line x1="251.16" y1="134.32" x2="254.36" y2="134.32" stroke="#3aa886" stroke-width="0.7"/>
<line x1="251.16" y1="139.52" x2="254.36" y2="139.52" stroke="#3aa886" stroke-width="0.7"/>
<circle cx="252.76" cy="136.92" r="2.15" fill="#3aa886" stroke="none" stroke-width="1"/>
<line x1="259.88" y1="132.73" x2="259.88" y2="137.93" stroke="#3aa886" stroke-width="0.7"/>
<line x1="258.27" y1="132.73" x2="261.48" y2="132.73" stroke="#3aa886" stroke-width="0.7"/>
<line x1="258.27" y1="137.93" x2="261.48" y2="137.93" stroke="#3aa886" stroke-width="0.7"/>
<circle cx="259.88" cy="135.33" r="2.15" fill="#3aa886" stroke="none" stroke-width="1"/>
<line x1="266.99" y1="134.8" x2="266.99" y2="140" stroke="#3aa886" stroke-width="0.7"/>
<line x1="265.39" y1="134.8" x2="268.59" y2="134.8" stroke="#3aa886" stroke-width="0.7"/>
<line x1="265.39" y1="140" x2="268.59" y2="140" stroke="#3aa886" stroke-width="0.7"/>
<circle cx="266.99" cy="137.4" r="2.15" fill="#3aa886" stroke="none" stroke-width="1"/>
<line x1="274.1" y1="134.27" x2="274.1" y2="139.47" stroke="#3aa886" stroke-width="0.7"/>
<line x1="272.5" y1="134.27" x2="275.7" y2="134.27" stroke="#3aa886" stroke-width="0.7"/>
<line x1="272.5" y1="139.47" x2="275.7" y2="139.47" stroke="#3aa886" stroke-width="0.7"/>
<circle cx="274.1" cy="136.87" r="2.15" fill="#3aa886" stroke="none" stroke-width="1"/>
<line x1="281.21" y1="133.42" x2="281.21" y2="138.62" stroke="#3aa886" stroke-width="0.7"/>
<line x1="279.61" y1="133.42" x2="282.81" y2="133.42" stroke="#3aa886" stroke-width="0.7"/>
<line x1="279.61" y1="138.62" x2="282.81" y2="138.62" stroke="#3aa886" stroke-width="0.7"/>
<circle cx="281.21" cy="136.02" r="2.15" fill="#3aa886" stroke="none" stroke-width="1"/>
<line x1="288.32" y1="132.04" x2="288.32" y2="137.24" stroke="#3aa886" stroke-width="0.7"/>
<line x1="286.72" y1="132.04" x2="289.93" y2="132.04" stroke="#3aa886" stroke-width="0.7"/>
<line x1="286.72" y1="137.24" x2="289.93" y2="137.24" stroke="#3aa886" stroke-width="0.7"/>
<circle cx="288.32" cy="134.64" r="2.15" fill="#3aa886" stroke="none" stroke-width="1"/>
<line x1="295.44" y1="135.04" x2="295.44" y2="140.24" stroke="#3aa886" stroke-width="0.7"/>
<line x1="293.84" y1="135.04" x2="297.04" y2="135.04" stroke="#3aa886" stroke-width="0.7"/>
<line x1="293.84" y1="140.24" x2="297.04" y2="140.24" stroke="#3aa886" stroke-width="0.7"/>
<circle cx="295.44" cy="137.64" r="2.15" fill="#3aa886" stroke="none" stroke-width="1"/>
<line x1="302.55" y1="132.74" x2="302.55" y2="137.94" stroke="#3aa886" stroke-width="0.7"/>
<line x1="300.95" y1="132.74" x2="304.15" y2="132.74" stroke="#3aa886" stroke-width="0.7"/>
<line x1="300.95" y1="137.94" x2="304.15" y2="137.94" stroke="#3aa886" stroke-width="0.7"/>
<circle cx="302.55" cy="135.34" r="2.15" fill="#3aa886" stroke="none" stroke-width="1"/>
<line x1="309.66" y1="133.33" x2="309.66" y2="138.53" stroke="#3aa886" stroke-width="0.7"/>
<line x1="308.06" y1="133.33" x2="311.26" y2="133.33" stroke="#3aa886" stroke-width="0.7"/>
<line x1="308.06" y1="138.53" x2="311.26" y2="138.53" stroke="#3aa886" stroke-width="0.7"/>
<circle cx="309.66" cy="135.93" r="2.15" fill="#3aa886" stroke="none" stroke-width="1"/>
<line x1="316.77" y1="133.66" x2="316.77" y2="138.86" stroke="#3aa886" stroke-width="0.7"/>
<line x1="315.17" y1="133.66" x2="318.38" y2="133.66" stroke="#3aa886" stroke-width="0.7"/>
<line x1="315.17" y1="138.86" x2="318.38" y2="138.86" stroke="#3aa886" stroke-width="0.7"/>
<circle cx="316.77" cy="136.26" r="2.15" fill="#3aa886" stroke="none" stroke-width="1"/>
<line x1="323.89" y1="134.75" x2="323.89" y2="139.95" stroke="#3aa886" stroke-width="0.7"/>
<line x1="322.29" y1="134.75" x2="325.49" y2="134.75" stroke="#3aa886" stroke-width="0.7"/>
<line x1="322.29" y1="139.95" x2="325.49" y2="139.95" stroke="#3aa886" stroke-width="0.7"/>
<circle cx="323.89" cy="137.35" r="2.15" fill="#3aa886" stroke="none" stroke-width="1"/>
<line x1="331" y1="135.02" x2="331" y2="140.22" stroke="#3aa886" stroke-width="0.7"/>
<line x1="329.4" y1="135.02" x2="332.6" y2="135.02" stroke="#3aa886" stroke-width="0.7"/>
<line x1="329.4" y1="140.22" x2="332.6" y2="140.22" stroke="#3aa886" stroke-width="0.7"/>
<circle cx="331" cy="137.62" r="2.15" fill="#3aa886" stroke="none" stroke-width="1"/>
<polyline points="46.5,109.3 53.61,137.64 60.73,137.51 67.84,140.1 74.95,136.4 82.06,139.08 89.17,139.59 96.29,140.02 103.4,135.84 110.51,135.68 117.62,136.79 124.74,138.93 131.85,139.15 138.96,138.87 146.07,137.92 153.19,139.33 160.3,137.98 167.41,138.84 174.53,135.56 181.64,135.51 188.75,137.51 195.86,138.93 202.97,135.54 210.09,138.62 217.2,138.4 224.31,140.07 231.43,138.28 238.54,137.85 245.65,137.72 252.76,139.13 259.88,137.71 266.99,140.05 274.1,138.83 281.21,139.65 288.32,138.2 295.44,139.88 302.55,139.97 309.66,138.65 316.77,138.98 323.89,137.33 331,137.59" fill="none" stroke="#d8404a" stroke-width="0.75" stroke-linejoin="round"/>
<circle cx="46.5" cy="109.3" r="2.15" fill="#d8404a" stroke="none" stroke-width="1"/>
<line x1="53.61" y1="135.04" x2="53.61" y2="140.24" stroke="#d8404a" stroke-width="0.7"/>
<line x1="52.01" y1="135.04" x2="55.21" y2="135.04" stroke="#d8404a" stroke-width="0.7"/>
<line x1="52.01" y1="140.24" x2="55.21" y2="140.24" stroke="#d8404a" stroke-width="0.7"/>
<circle cx="53.61" cy="137.64" r="2.15" fill="#d8404a" stroke="none" stroke-width="1"/>
<line x1="60.73" y1="134.91" x2="60.73" y2="140.11" stroke="#d8404a" stroke-width="0.7"/>
<line x1="59.12" y1="134.91" x2="62.33" y2="134.91" stroke="#d8404a" stroke-width="0.7"/>
<line x1="59.12" y1="140.11" x2="62.33" y2="140.11" stroke="#d8404a" stroke-width="0.7"/>
<circle cx="60.73" cy="137.51" r="2.15" fill="#d8404a" stroke="none" stroke-width="1"/>
<line x1="67.84" y1="137.5" x2="67.84" y2="142.7" stroke="#d8404a" stroke-width="0.7"/>
<line x1="66.24" y1="137.5" x2="69.44" y2="137.5" stroke="#d8404a" stroke-width="0.7"/>
<line x1="66.24" y1="142.7" x2="69.44" y2="142.7" stroke="#d8404a" stroke-width="0.7"/>
<circle cx="67.84" cy="140.1" r="2.15" fill="#d8404a" stroke="none" stroke-width="1"/>
<line x1="74.95" y1="133.8" x2="74.95" y2="139" stroke="#d8404a" stroke-width="0.7"/>
<line x1="73.35" y1="133.8" x2="76.55" y2="133.8" stroke="#d8404a" stroke-width="0.7"/>
<line x1="73.35" y1="139" x2="76.55" y2="139" stroke="#d8404a" stroke-width="0.7"/>
<circle cx="74.95" cy="136.4" r="2.15" fill="#d8404a" stroke="none" stroke-width="1"/>
<line x1="82.06" y1="136.48" x2="82.06" y2="141.68" stroke="#d8404a" stroke-width="0.7"/>
<line x1="80.46" y1="136.48" x2="83.66" y2="136.48" stroke="#d8404a" stroke-width="0.7"/>
<line x1="80.46" y1="141.68" x2="83.66" y2="141.68" stroke="#d8404a" stroke-width="0.7"/>
<circle cx="82.06" cy="139.08" r="2.15" fill="#d8404a" stroke="none" stroke-width="1"/>
<line x1="89.17" y1="136.99" x2="89.17" y2="142.19" stroke="#d8404a" stroke-width="0.7"/>
<line x1="87.58" y1="136.99" x2="90.77" y2="136.99" stroke="#d8404a" stroke-width="0.7"/>
<line x1="87.58" y1="142.19" x2="90.77" y2="142.19" stroke="#d8404a" stroke-width="0.7"/>
<circle cx="89.17" cy="139.59" r="2.15" fill="#d8404a" stroke="none" stroke-width="1"/>
<line x1="96.29" y1="137.42" x2="96.29" y2="142.62" stroke="#d8404a" stroke-width="0.7"/>
<line x1="94.69" y1="137.42" x2="97.89" y2="137.42" stroke="#d8404a" stroke-width="0.7"/>
<line x1="94.69" y1="142.62" x2="97.89" y2="142.62" stroke="#d8404a" stroke-width="0.7"/>
<circle cx="96.29" cy="140.02" r="2.15" fill="#d8404a" stroke="none" stroke-width="1"/>
<line x1="103.4" y1="133.24" x2="103.4" y2="138.44" stroke="#d8404a" stroke-width="0.7"/>
<line x1="101.8" y1="133.24" x2="105" y2="133.24" stroke="#d8404a" stroke-width="0.7"/>
<line x1="101.8" y1="138.44" x2="105" y2="138.44" stroke="#d8404a" stroke-width="0.7"/>
<circle cx="103.4" cy="135.84" r="2.15" fill="#d8404a" stroke="none" stroke-width="1"/>
<line x1="110.51" y1="133.08" x2="110.51" y2="138.28" stroke="#d8404a" stroke-width="0.7"/>
<line x1="108.91" y1="133.08" x2="112.11" y2="133.08" stroke="#d8404a" stroke-width="0.7"/>
<line x1="108.91" y1="138.28" x2="112.11" y2="138.28" stroke="#d8404a" stroke-width="0.7"/>
<circle cx="110.51" cy="135.68" r="2.15" fill="#d8404a" stroke="none" stroke-width="1"/>
<line x1="117.62" y1="134.19" x2="117.62" y2="139.39" stroke="#d8404a" stroke-width="0.7"/>
<line x1="116.03" y1="134.19" x2="119.22" y2="134.19" stroke="#d8404a" stroke-width="0.7"/>
<line x1="116.03" y1="139.39" x2="119.22" y2="139.39" stroke="#d8404a" stroke-width="0.7"/>
<circle cx="117.62" cy="136.79" r="2.15" fill="#d8404a" stroke="none" stroke-width="1"/>
<line x1="124.74" y1="136.33" x2="124.74" y2="141.53" stroke="#d8404a" stroke-width="0.7"/>
<line x1="123.14" y1="136.33" x2="126.34" y2="136.33" stroke="#d8404a" stroke-width="0.7"/>
<line x1="123.14" y1="141.53" x2="126.34" y2="141.53" stroke="#d8404a" stroke-width="0.7"/>
<circle cx="124.74" cy="138.93" r="2.15" fill="#d8404a" stroke="none" stroke-width="1"/>
<line x1="131.85" y1="136.55" x2="131.85" y2="141.75" stroke="#d8404a" stroke-width="0.7"/>
<line x1="130.25" y1="136.55" x2="133.45" y2="136.55" stroke="#d8404a" stroke-width="0.7"/>
<line x1="130.25" y1="141.75" x2="133.45" y2="141.75" stroke="#d8404a" stroke-width="0.7"/>
<circle cx="131.85" cy="139.15" r="2.15" fill="#d8404a" stroke="none" stroke-width="1"/>
<line x1="138.96" y1="136.27" x2="138.96" y2="141.47" stroke="#d8404a" stroke-width="0.7"/>
<line x1="137.36" y1="136.27" x2="140.56" y2="136.27" stroke="#d8404a" stroke-width="0.7"/>
<line x1="137.36" y1="141.47" x2="140.56" y2="141.47" stroke="#d8404a" stroke-width="0.7"/>
<circle cx="138.96" cy="138.87" r="2.15" fill="#d8404a" stroke="none" stroke-width="1"/>
<line x1="146.07" y1="135.32" x2="146.07" y2="140.52" stroke="#d8404a" stroke-width="0.7"/>
<line x1="144.47" y1="135.32" x2="147.67" y2="135.32" stroke="#d8404a" stroke-width="0.7"/>
<line x1="144.47" y1="140.52" x2="147.67" y2="140.52" stroke="#d8404a" stroke-width="0.7"/>
<circle cx="146.07" cy="137.92" r="2.15" fill="#d8404a" stroke="none" stroke-width="1"/>
<line x1="153.19" y1="136.73" x2="153.19" y2="141.93" stroke="#d8404a" stroke-width="0.7"/>
<line x1="151.59" y1="136.73" x2="154.79" y2="136.73" stroke="#d8404a" stroke-width="0.7"/>
<line x1="151.59" y1="141.93" x2="154.79" y2="141.93" stroke="#d8404a" stroke-width="0.7"/>
<circle cx="153.19" cy="139.33" r="2.15" fill="#d8404a" stroke="none" stroke-width="1"/>
<line x1="160.3" y1="135.38" x2="160.3" y2="140.58" stroke="#d8404a" stroke-width="0.7"/>
<line x1="158.7" y1="135.38" x2="161.9" y2="135.38" stroke="#d8404a" stroke-width="0.7"/>
<line x1="158.7" y1="140.58" x2="161.9" y2="140.58" stroke="#d8404a" stroke-width="0.7"/>
<circle cx="160.3" cy="137.98" r="2.15" fill="#d8404a" stroke="none" stroke-width="1"/>
<line x1="167.41" y1="136.24" x2="167.41" y2="141.44" stroke="#d8404a" stroke-width="0.7"/>
<line x1="165.81" y1="136.24" x2="169.01" y2="136.24" stroke="#d8404a" stroke-width="0.7"/>
<line x1="165.81" y1="141.44" x2="169.01" y2="141.44" stroke="#d8404a" stroke-width="0.7"/>
<circle cx="167.41" cy="138.84" r="2.15" fill="#d8404a" stroke="none" stroke-width="1"/>
<line x1="174.53" y1="132.96" x2="174.53" y2="138.16" stroke="#d8404a" stroke-width="0.7"/>
<line x1="172.93" y1="132.96" x2="176.12" y2="132.96" stroke="#d8404a" stroke-width="0.7"/>
<line x1="172.93" y1="138.16" x2="176.12" y2="138.16" stroke="#d8404a" stroke-width="0.7"/>
<circle cx="174.53" cy="135.56" r="2.15" fill="#d8404a" stroke="none" stroke-width="1"/>
<line x1="181.64" y1="132.91" x2="181.64" y2="138.11" stroke="#d8404a" stroke-width="0.7"/>
<line x1="180.04" y1="132.91" x2="183.24" y2="132.91" stroke="#d8404a" stroke-width="0.7"/>
<line x1="180.04" y1="138.11" x2="183.24" y2="138.11" stroke="#d8404a" stroke-width="0.7"/>
<circle cx="181.64" cy="135.51" r="2.15" fill="#d8404a" stroke="none" stroke-width="1"/>
<line x1="188.75" y1="134.91" x2="188.75" y2="140.11" stroke="#d8404a" stroke-width="0.7"/>
<line x1="187.15" y1="134.91" x2="190.35" y2="134.91" stroke="#d8404a" stroke-width="0.7"/>
<line x1="187.15" y1="140.11" x2="190.35" y2="140.11" stroke="#d8404a" stroke-width="0.7"/>
<circle cx="188.75" cy="137.51" r="2.15" fill="#d8404a" stroke="none" stroke-width="1"/>
<line x1="195.86" y1="136.33" x2="195.86" y2="141.53" stroke="#d8404a" stroke-width="0.7"/>
<line x1="194.26" y1="136.33" x2="197.46" y2="136.33" stroke="#d8404a" stroke-width="0.7"/>
<line x1="194.26" y1="141.53" x2="197.46" y2="141.53" stroke="#d8404a" stroke-width="0.7"/>
<circle cx="195.86" cy="138.93" r="2.15" fill="#d8404a" stroke="none" stroke-width="1"/>
<line x1="202.97" y1="132.94" x2="202.97" y2="138.14" stroke="#d8404a" stroke-width="0.7"/>
<line x1="201.38" y1="132.94" x2="204.57" y2="132.94" stroke="#d8404a" stroke-width="0.7"/>
<line x1="201.38" y1="138.14" x2="204.57" y2="138.14" stroke="#d8404a" stroke-width="0.7"/>
<circle cx="202.97" cy="135.54" r="2.15" fill="#d8404a" stroke="none" stroke-width="1"/>
<line x1="210.09" y1="136.02" x2="210.09" y2="141.22" stroke="#d8404a" stroke-width="0.7"/>
<line x1="208.49" y1="136.02" x2="211.69" y2="136.02" stroke="#d8404a" stroke-width="0.7"/>
<line x1="208.49" y1="141.22" x2="211.69" y2="141.22" stroke="#d8404a" stroke-width="0.7"/>
<circle cx="210.09" cy="138.62" r="2.15" fill="#d8404a" stroke="none" stroke-width="1"/>
<line x1="217.2" y1="135.8" x2="217.2" y2="141" stroke="#d8404a" stroke-width="0.7"/>
<line x1="215.6" y1="135.8" x2="218.8" y2="135.8" stroke="#d8404a" stroke-width="0.7"/>
<line x1="215.6" y1="141" x2="218.8" y2="141" stroke="#d8404a" stroke-width="0.7"/>
<circle cx="217.2" cy="138.4" r="2.15" fill="#d8404a" stroke="none" stroke-width="1"/>
<line x1="224.31" y1="137.47" x2="224.31" y2="142.67" stroke="#d8404a" stroke-width="0.7"/>
<line x1="222.71" y1="137.47" x2="225.91" y2="137.47" stroke="#d8404a" stroke-width="0.7"/>
<line x1="222.71" y1="142.67" x2="225.91" y2="142.67" stroke="#d8404a" stroke-width="0.7"/>
<circle cx="224.31" cy="140.07" r="2.15" fill="#d8404a" stroke="none" stroke-width="1"/>
<line x1="231.43" y1="135.68" x2="231.43" y2="140.88" stroke="#d8404a" stroke-width="0.7"/>
<line x1="229.83" y1="135.68" x2="233.03" y2="135.68" stroke="#d8404a" stroke-width="0.7"/>
<line x1="229.83" y1="140.88" x2="233.03" y2="140.88" stroke="#d8404a" stroke-width="0.7"/>
<circle cx="231.43" cy="138.28" r="2.15" fill="#d8404a" stroke="none" stroke-width="1"/>
<line x1="238.54" y1="135.25" x2="238.54" y2="140.45" stroke="#d8404a" stroke-width="0.7"/>
<line x1="236.94" y1="135.25" x2="240.14" y2="135.25" stroke="#d8404a" stroke-width="0.7"/>
<line x1="236.94" y1="140.45" x2="240.14" y2="140.45" stroke="#d8404a" stroke-width="0.7"/>
<circle cx="238.54" cy="137.85" r="2.15" fill="#d8404a" stroke="none" stroke-width="1"/>
<line x1="245.65" y1="135.12" x2="245.65" y2="140.32" stroke="#d8404a" stroke-width="0.7"/>
<line x1="244.05" y1="135.12" x2="247.25" y2="135.12" stroke="#d8404a" stroke-width="0.7"/>
<line x1="244.05" y1="140.32" x2="247.25" y2="140.32" stroke="#d8404a" stroke-width="0.7"/>
<circle cx="245.65" cy="137.72" r="2.15" fill="#d8404a" stroke="none" stroke-width="1"/>
<line x1="252.76" y1="136.53" x2="252.76" y2="141.73" stroke="#d8404a" stroke-width="0.7"/>
<line x1="251.16" y1="136.53" x2="254.36" y2="136.53" stroke="#d8404a" stroke-width="0.7"/>
<line x1="251.16" y1="141.73" x2="254.36" y2="141.73" stroke="#d8404a" stroke-width="0.7"/>
<circle cx="252.76" cy="139.13" r="2.15" fill="#d8404a" stroke="none" stroke-width="1"/>
<line x1="259.88" y1="135.11" x2="259.88" y2="140.31" stroke="#d8404a" stroke-width="0.7"/>
<line x1="258.27" y1="135.11" x2="261.48" y2="135.11" stroke="#d8404a" stroke-width="0.7"/>
<line x1="258.27" y1="140.31" x2="261.48" y2="140.31" stroke="#d8404a" stroke-width="0.7"/>
<circle cx="259.88" cy="137.71" r="2.15" fill="#d8404a" stroke="none" stroke-width="1"/>
<line x1="266.99" y1="137.45" x2="266.99" y2="142.65" stroke="#d8404a" stroke-width="0.7"/>
<line x1="265.39" y1="137.45" x2="268.59" y2="137.45" stroke="#d8404a" stroke-width="0.7"/>
<line x1="265.39" y1="142.65" x2="268.59" y2="142.65" stroke="#d8404a" stroke-width="0.7"/>
<circle cx="266.99" cy="140.05" r="2.15" fill="#d8404a" stroke="none" stroke-width="1"/>
<line x1="274.1" y1="136.23" x2="274.1" y2="141.43" stroke="#d8404a" stroke-width="0.7"/>
<line x1="272.5" y1="136.23" x2="275.7" y2="136.23" stroke="#d8404a" stroke-width="0.7"/>
<line x1="272.5" y1="141.43" x2="275.7" y2="141.43" stroke="#d8404a" stroke-width="0.7"/>
<circle cx="274.1" cy="138.83" r="2.15" fill="#d8404a" stroke="none" stroke-width="1"/>
<line x1="281.21" y1="137.05" x2="281.21" y2="142.25" stroke="#d8404a" stroke-width="0.7"/>
<line x1="279.61" y1="137.05" x2="282.81" y2="137.05" stroke="#d8404a" stroke-width="0.7"/>
<line x1="279.61" y1="142.25" x2="282.81" y2="142.25" stroke="#d8404a" stroke-width="0.7"/>
<circle cx="281.21" cy="139.65" r="2.15" fill="#d8404a" stroke="none" stroke-width="1"/>
<line x1="288.32" y1="135.6" x2="288.32" y2="140.8" stroke="#d8404a" stroke-width="0.7"/>
<line x1="286.72" y1="135.6" x2="289.93" y2="135.6" stroke="#d8404a" stroke-width="0.7"/>
<line x1="286.72" y1="140.8" x2="289.93" y2="140.8" stroke="#d8404a" stroke-width="0.7"/>
<circle cx="288.32" cy="138.2" r="2.15" fill="#d8404a" stroke="none" stroke-width="1"/>
<line x1="295.44" y1="137.28" x2="295.44" y2="142.48" stroke="#d8404a" stroke-width="0.7"/>
<line x1="293.84" y1="137.28" x2="297.04" y2="137.28" stroke="#d8404a" stroke-width="0.7"/>
<line x1="293.84" y1="142.48" x2="297.04" y2="142.48" stroke="#d8404a" stroke-width="0.7"/>
<circle cx="295.44" cy="139.88" r="2.15" fill="#d8404a" stroke="none" stroke-width="1"/>
<line x1="302.55" y1="137.37" x2="302.55" y2="142.57" stroke="#d8404a" stroke-width="0.7"/>
<line x1="300.95" y1="137.37" x2="304.15" y2="137.37" stroke="#d8404a" stroke-width="0.7"/>
<line x1="300.95" y1="142.57" x2="304.15" y2="142.57" stroke="#d8404a" stroke-width="0.7"/>
<circle cx="302.55" cy="139.97" r="2.15" fill="#d8404a" stroke="none" stroke-width="1"/>
<line x1="309.66" y1="136.05" x2="309.66" y2="141.25" stroke="#d8404a" stroke-width="0.7"/>
<line x1="308.06" y1="136.05" x2="311.26" y2="136.05" stroke="#d8404a" stroke-width="0.7"/>
<line x1="308.06" y1="141.25" x2="311.26" y2="141.25" stroke="#d8404a" stroke-width="0.7"/>
<circle cx="309.66" cy="138.65" r="2.15" fill="#d8404a" stroke="none" stroke-width="1"/>
<line x1="316.77" y1="136.38" x2="316.77" y2="141.58" stroke="#d8404a" stroke-width="0.7"/>
<line x1="315.17" y1="136.38" x2="318.38" y2="136.38" stroke="#d8404a" stroke-width="0.7"/>
<line x1="315.17" y1="141.58" x2="318.38" y2="141.58" stroke="#d8404a" stroke-width="0.7"/>
<circle cx="316.77" cy="138.98" r="2.15" fill="#d8404a" stroke="none" stroke-width="1"/>
<line x1="323.89" y1="134.73" x2="323.89" y2="139.93" stroke="#d8404a" stroke-width="0.7"/>
<line x1="322.29" y1="134.73" x2="325.49" y2="134.73" stroke="#d8404a" stroke-width="0.7"/>
<line x1="322.29" y1="139.93" x2="325.49" y2="139.93" stroke="#d8404a" stroke-width="0.7"/>
<circle cx="323.89" cy="137.33" r="2.15" fill="#d8404a" stroke="none" stroke-width="1"/>
<line x1="331" y1="134.99" x2="331" y2="140.19" stroke="#d8404a" stroke-width="0.7"/>
<line x1="329.4" y1="134.99" x2="332.6" y2="134.99" stroke="#d8404a" stroke-width="0.7"/>
<line x1="329.4" y1="140.19" x2="332.6" y2="140.19" stroke="#d8404a" stroke-width="0.7"/>
<circle cx="331" cy="137.59" r="2.15" fill="#d8404a" stroke="none" stroke-width="1"/>
<polyline points="46.5,109.3 53.61,130.97 60.73,131.12 67.84,134.05 74.95,133.15 82.06,135.85 89.17,136.2 96.29,134.22 103.4,138.83 110.51,135.66 117.62,136.11 124.74,139.42 131.85,135.05 138.96,134.74 146.07,136.3 153.19,135.8 160.3,135.44 167.41,138.59 174.53,136.79 181.64,136.88 188.75,135.33 195.86,135.47 202.97,135.37 210.09,136.51 217.2,135.06 224.31,136.04 231.43,135.99 238.54,138.17 245.65,139.1 252.76,138.62 259.88,137.55 266.99,138.75 274.1,135.32 281.21,136.63 288.32,136.3 295.44,136.31 302.55,136.05 309.66,136.95 316.77,139.23 323.89,135.5 331,135.74" fill="none" stroke="#7658a6" stroke-width="0.75" stroke-linejoin="round"/>
<circle cx="46.5" cy="109.3" r="2.15" fill="#7658a6" stroke="none" stroke-width="1"/>
<line x1="53.61" y1="128.37" x2="53.61" y2="133.57" stroke="#7658a6" stroke-width="0.7"/>
<line x1="52.01" y1="128.37" x2="55.21" y2="128.37" stroke="#7658a6" stroke-width="0.7"/>
<line x1="52.01" y1="133.57" x2="55.21" y2="133.57" stroke="#7658a6" stroke-width="0.7"/>
<circle cx="53.61" cy="130.97" r="2.15" fill="#7658a6" stroke="none" stroke-width="1"/>
<line x1="60.73" y1="128.52" x2="60.73" y2="133.72" stroke="#7658a6" stroke-width="0.7"/>
<line x1="59.12" y1="128.52" x2="62.33" y2="128.52" stroke="#7658a6" stroke-width="0.7"/>
<line x1="59.12" y1="133.72" x2="62.33" y2="133.72" stroke="#7658a6" stroke-width="0.7"/>
<circle cx="60.73" cy="131.12" r="2.15" fill="#7658a6" stroke="none" stroke-width="1"/>
<line x1="67.84" y1="131.45" x2="67.84" y2="136.65" stroke="#7658a6" stroke-width="0.7"/>
<line x1="66.24" y1="131.45" x2="69.44" y2="131.45" stroke="#7658a6" stroke-width="0.7"/>
<line x1="66.24" y1="136.65" x2="69.44" y2="136.65" stroke="#7658a6" stroke-width="0.7"/>
<circle cx="67.84" cy="134.05" r="2.15" fill="#7658a6" stroke="none" stroke-width="1"/>
<line x1="74.95" y1="130.55" x2="74.95" y2="135.75" stroke="#7658a6" stroke-width="0.7"/>
<line x1="73.35" y1="130.55" x2="76.55" y2="130.55" stroke="#7658a6" stroke-width="0.7"/>
<line x1="73.35" y1="135.75" x2="76.55" y2="135.75" stroke="#7658a6" stroke-width="0.7"/>
<circle cx="74.95" cy="133.15" r="2.15" fill="#7658a6" stroke="none" stroke-width="1"/>
<line x1="82.06" y1="133.25" x2="82.06" y2="138.45" stroke="#7658a6" stroke-width="0.7"/>
<line x1="80.46" y1="133.25" x2="83.66" y2="133.25" stroke="#7658a6" stroke-width="0.7"/>
<line x1="80.46" y1="138.45" x2="83.66" y2="138.45" stroke="#7658a6" stroke-width="0.7"/>
<circle cx="82.06" cy="135.85" r="2.15" fill="#7658a6" stroke="none" stroke-width="1"/>
<line x1="89.17" y1="133.6" x2="89.17" y2="138.8" stroke="#7658a6" stroke-width="0.7"/>
<line x1="87.58" y1="133.6" x2="90.77" y2="133.6" stroke="#7658a6" stroke-width="0.7"/>
<line x1="87.58" y1="138.8" x2="90.77" y2="138.8" stroke="#7658a6" stroke-width="0.7"/>
<circle cx="89.17" cy="136.2" r="2.15" fill="#7658a6" stroke="none" stroke-width="1"/>
<line x1="96.29" y1="131.62" x2="96.29" y2="136.82" stroke="#7658a6" stroke-width="0.7"/>
<line x1="94.69" y1="131.62" x2="97.89" y2="131.62" stroke="#7658a6" stroke-width="0.7"/>
<line x1="94.69" y1="136.82" x2="97.89" y2="136.82" stroke="#7658a6" stroke-width="0.7"/>
<circle cx="96.29" cy="134.22" r="2.15" fill="#7658a6" stroke="none" stroke-width="1"/>
<line x1="103.4" y1="136.23" x2="103.4" y2="141.43" stroke="#7658a6" stroke-width="0.7"/>
<line x1="101.8" y1="136.23" x2="105" y2="136.23" stroke="#7658a6" stroke-width="0.7"/>
<line x1="101.8" y1="141.43" x2="105" y2="141.43" stroke="#7658a6" stroke-width="0.7"/>
<circle cx="103.4" cy="138.83" r="2.15" fill="#7658a6" stroke="none" stroke-width="1"/>
<line x1="110.51" y1="133.06" x2="110.51" y2="138.26" stroke="#7658a6" stroke-width="0.7"/>
<line x1="108.91" y1="133.06" x2="112.11" y2="133.06" stroke="#7658a6" stroke-width="0.7"/>
<line x1="108.91" y1="138.26" x2="112.11" y2="138.26" stroke="#7658a6" stroke-width="0.7"/>
<circle cx="110.51" cy="135.66" r="2.15" fill="#7658a6" stroke="none" stroke-width="1"/>
<line x1="117.62" y1="133.51" x2="117.62" y2="138.71" stroke="#7658a6" stroke-width="0.7"/>
<line x1="116.03" y1="133.51" x2="119.22" y2="133.51" stroke="#7658a6" stroke-width="0.7"/>
<line x1="116.03" y1="138.71" x2="119.22" y2="138.71" stroke="#7658a6" stroke-width="0.7"/>
<circle cx="117.62" cy="136.11" r="2.15" fill="#7658a6" stroke="none" stroke-width="1"/>
<line x1="124.74" y1="136.82" x2="124.74" y2="142.02" stroke="#7658a6" stroke-width="0.7"/>
<line x1="123.14" y1="136.82" x2="126.34" y2="136.82" stroke="#7658a6" stroke-width="0.7"/>
<line x1="123.14" y1="142.02" x2="126.34" y2="142.02" stroke="#7658a6" stroke-width="0.7"/>
<circle cx="124.74" cy="139.42" r="2.15" fill="#7658a6" stroke="none" stroke-width="1"/>
<line x1="131.85" y1="132.45" x2="131.85" y2="137.65" stroke="#7658a6" stroke-width="0.7"/>
<line x1="130.25" y1="132.45" x2="133.45" y2="132.45" stroke="#7658a6" stroke-width="0.7"/>
<line x1="130.25" y1="137.65" x2="133.45" y2="137.65" stroke="#7658a6" stroke-width="0.7"/>
<circle cx="131.85" cy="135.05" r="2.15" fill="#7658a6" stroke="none" stroke-width="1"/>
<line x1="138.96" y1="132.14" x2="138.96" y2="137.34" stroke="#7658a6" stroke-width="0.7"/>
<line x1="137.36" y1="132.14" x2="140.56" y2="132.14" stroke="#7658a6" stroke-width="0.7"/>
<line x1="137.36" y1="137.34" x2="140.56" y2="137.34" stroke="#7658a6" stroke-width="0.7"/>
<circle cx="138.96" cy="134.74" r="2.15" fill="#7658a6" stroke="none" stroke-width="1"/>
<line x1="146.07" y1="133.7" x2="146.07" y2="138.9" stroke="#7658a6" stroke-width="0.7"/>
<line x1="144.47" y1="133.7" x2="147.67" y2="133.7" stroke="#7658a6" stroke-width="0.7"/>
<line x1="144.47" y1="138.9" x2="147.67" y2="138.9" stroke="#7658a6" stroke-width="0.7"/>
<circle cx="146.07" cy="136.3" r="2.15" fill="#7658a6" stroke="none" stroke-width="1"/>
<line x1="153.19" y1="133.2" x2="153.19" y2="138.4" stroke="#7658a6" stroke-width="0.7"/>
<line x1="151.59" y1="133.2" x2="154.79" y2="133.2" stroke="#7658a6" stroke-width="0.7"/>
<line x1="151.59" y1="138.4" x2="154.79" y2="138.4" stroke="#7658a6" stroke-width="0.7"/>
<circle cx="153.19" cy="135.8" r="2.15" fill="#7658a6" stroke="none" stroke-width="1"/>
<line x1="160.3" y1="132.84" x2="160.3" y2="138.04" stroke="#7658a6" stroke-width="0.7"/>
<line x1="158.7" y1="132.84" x2="161.9" y2="132.84" stroke="#7658a6" stroke-width="0.7"/>
<line x1="158.7" y1="138.04" x2="161.9" y2="138.04" stroke="#7658a6" stroke-width="0.7"/>
<circle cx="160.3" cy="135.44" r="2.15" fill="#7658a6" stroke="none" stroke-width="1"/>
<line x1="167.41" y1="135.99" x2="167.41" y2="141.19" stroke="#7658a6" stroke-width="0.7"/>
<line x1="165.81" y1="135.99" x2="169.01" y2="135.99" stroke="#7658a6" stroke-width="0.7"/>
<line x1="165.81" y1="141.19" x2="169.01" y2="141.19" stroke="#7658a6" stroke-width="0.7"/>
<circle cx="167.41" cy="138.59" r="2.15" fill="#7658a6" stroke="none" stroke-width="1"/>
<line x1="174.53" y1="134.19" x2="174.53" y2="139.39" stroke="#7658a6" stroke-width="0.7"/>
<line x1="172.93" y1="134.19" x2="176.12" y2="134.19" stroke="#7658a6" stroke-width="0.7"/>
<line x1="172.93" y1="139.39" x2="176.12" y2="139.39" stroke="#7658a6" stroke-width="0.7"/>
<circle cx="174.53" cy="136.79" r="2.15" fill="#7658a6" stroke="none" stroke-width="1"/>
<line x1="181.64" y1="134.28" x2="181.64" y2="139.48" stroke="#7658a6" stroke-width="0.7"/>
<line x1="180.04" y1="134.28" x2="183.24" y2="134.28" stroke="#7658a6" stroke-width="0.7"/>
<line x1="180.04" y1="139.48" x2="183.24" y2="139.48" stroke="#7658a6" stroke-width="0.7"/>
<circle cx="181.64" cy="136.88" r="2.15" fill="#7658a6" stroke="none" stroke-width="1"/>
<line x1="188.75" y1="132.73" x2="188.75" y2="137.93" stroke="#7658a6" stroke-width="0.7"/>
<line x1="187.15" y1="132.73" x2="190.35" y2="132.73" stroke="#7658a6" stroke-width="0.7"/>
<line x1="187.15" y1="137.93" x2="190.35" y2="137.93" stroke="#7658a6" stroke-width="0.7"/>
<circle cx="188.75" cy="135.33" r="2.15" fill="#7658a6" stroke="none" stroke-width="1"/>
<line x1="195.86" y1="132.87" x2="195.86" y2="138.07" stroke="#7658a6" stroke-width="0.7"/>
<line x1="194.26" y1="132.87" x2="197.46" y2="132.87" stroke="#7658a6" stroke-width="0.7"/>
<line x1="194.26" y1="138.07" x2="197.46" y2="138.07" stroke="#7658a6" stroke-width="0.7"/>
<circle cx="195.86" cy="135.47" r="2.15" fill="#7658a6" stroke="none" stroke-width="1"/>
<line x1="202.97" y1="132.77" x2="202.97" y2="137.97" stroke="#7658a6" stroke-width="0.7"/>
<line x1="201.38" y1="132.77" x2="204.57" y2="132.77" stroke="#7658a6" stroke-width="0.7"/>
<line x1="201.38" y1="137.97" x2="204.57" y2="137.97" stroke="#7658a6" stroke-width="0.7"/>
<circle cx="202.97" cy="135.37" r="2.15" fill="#7658a6" stroke="none" stroke-width="1"/>
<line x1="210.09" y1="133.91" x2="210.09" y2="139.11" stroke="#7658a6" stroke-width="0.7"/>
<line x1="208.49" y1="133.91" x2="211.69" y2="133.91" stroke="#7658a6" stroke-width="0.7"/>
<line x1="208.49" y1="139.11" x2="211.69" y2="139.11" stroke="#7658a6" stroke-width="0.7"/>
<circle cx="210.09" cy="136.51" r="2.15" fill="#7658a6" stroke="none" stroke-width="1"/>
<line x1="217.2" y1="132.46" x2="217.2" y2="137.66" stroke="#7658a6" stroke-width="0.7"/>
<line x1="215.6" y1="132.46" x2="218.8" y2="132.46" stroke="#7658a6" stroke-width="0.7"/>
<line x1="215.6" y1="137.66" x2="218.8" y2="137.66" stroke="#7658a6" stroke-width="0.7"/>
<circle cx="217.2" cy="135.06" r="2.15" fill="#7658a6" stroke="none" stroke-width="1"/>
<line x1="224.31" y1="133.44" x2="224.31" y2="138.64" stroke="#7658a6" stroke-width="0.7"/>
<line x1="222.71" y1="133.44" x2="225.91" y2="133.44" stroke="#7658a6" stroke-width="0.7"/>
<line x1="222.71" y1="138.64" x2="225.91" y2="138.64" stroke="#7658a6" stroke-width="0.7"/>
<circle cx="224.31" cy="136.04" r="2.15" fill="#7658a6" stroke="none" stroke-width="1"/>
<line x1="231.43" y1="133.39" x2="231.43" y2="138.59" stroke="#7658a6" stroke-width="0.7"/>
<line x1="229.83" y1="133.39" x2="233.03" y2="133.39" stroke="#7658a6" stroke-width="0.7"/>
<line x1="229.83" y1="138.59" x2="233.03" y2="138.59" stroke="#7658a6" stroke-width="0.7"/>
<circle cx="231.43" cy="135.99" r="2.15" fill="#7658a6" stroke="none" stroke-width="1"/>
<line x1="238.54" y1="135.57" x2="238.54" y2="140.77" stroke="#7658a6" stroke-width="0.7"/>
<line x1="236.94" y1="135.57" x2="240.14" y2="135.57" stroke="#7658a6" stroke-width="0.7"/>
<line x1="236.94" y1="140.77" x2="240.14" y2="140.77" stroke="#7658a6" stroke-width="0.7"/>
<circle cx="238.54" cy="138.17" r="2.15" fill="#7658a6" stroke="none" stroke-width="1"/>
<line x1="245.65" y1="136.5" x2="245.65" y2="141.7" stroke="#7658a6" stroke-width="0.7"/>
<line x1="244.05" y1="136.5" x2="247.25" y2="136.5" stroke="#7658a6" stroke-width="0.7"/>
<line x1="244.05" y1="141.7" x2="247.25" y2="141.7" stroke="#7658a6" stroke-width="0.7"/>
<circle cx="245.65" cy="139.1" r="2.15" fill="#7658a6" stroke="none" stroke-width="1"/>
<line x1="252.76" y1="136.02" x2="252.76" y2="141.22" stroke="#7658a6" stroke-width="0.7"/>
<line x1="251.16" y1="136.02" x2="254.36" y2="136.02" stroke="#7658a6" stroke-width="0.7"/>
<line x1="251.16" y1="141.22" x2="254.36" y2="141.22" stroke="#7658a6" stroke-width="0.7"/>
<circle cx="252.76" cy="138.62" r="2.15" fill="#7658a6" stroke="none" stroke-width="1"/>
<line x1="259.88" y1="134.95" x2="259.88" y2="140.15" stroke="#7658a6" stroke-width="0.7"/>
<line x1="258.27" y1="134.95" x2="261.48" y2="134.95" stroke="#7658a6" stroke-width="0.7"/>
<line x1="258.27" y1="140.15" x2="261.48" y2="140.15" stroke="#7658a6" stroke-width="0.7"/>
<circle cx="259.88" cy="137.55" r="2.15" fill="#7658a6" stroke="none" stroke-width="1"/>
<line x1="266.99" y1="136.15" x2="266.99" y2="141.35" stroke="#7658a6" stroke-width="0.7"/>
<line x1="265.39" y1="136.15" x2="268.59" y2="136.15" stroke="#7658a6" stroke-width="0.7"/>
<line x1="265.39" y1="141.35" x2="268.59" y2="141.35" stroke="#7658a6" stroke-width="0.7"/>
<circle cx="266.99" cy="138.75" r="2.15" fill="#7658a6" stroke="none" stroke-width="1"/>
<line x1="274.1" y1="132.72" x2="274.1" y2="137.92" stroke="#7658a6" stroke-width="0.7"/>
<line x1="272.5" y1="132.72" x2="275.7" y2="132.72" stroke="#7658a6" stroke-width="0.7"/>
<line x1="272.5" y1="137.92" x2="275.7" y2="137.92" stroke="#7658a6" stroke-width="0.7"/>
<circle cx="274.1" cy="135.32" r="2.15" fill="#7658a6" stroke="none" stroke-width="1"/>
<line x1="281.21" y1="134.03" x2="281.21" y2="139.23" stroke="#7658a6" stroke-width="0.7"/>
<line x1="279.61" y1="134.03" x2="282.81" y2="134.03" stroke="#7658a6" stroke-width="0.7"/>
<line x1="279.61" y1="139.23" x2="282.81" y2="139.23" stroke="#7658a6" stroke-width="0.7"/>
<circle cx="281.21" cy="136.63" r="2.15" fill="#7658a6" stroke="none" stroke-width="1"/>
<line x1="288.32" y1="133.7" x2="288.32" y2="138.9" stroke="#7658a6" stroke-width="0.7"/>
<line x1="286.72" y1="133.7" x2="289.93" y2="133.7" stroke="#7658a6" stroke-width="0.7"/>
<line x1="286.72" y1="138.9" x2="289.93" y2="138.9" stroke="#7658a6" stroke-width="0.7"/>
<circle cx="288.32" cy="136.3" r="2.15" fill="#7658a6" stroke="none" stroke-width="1"/>
<line x1="295.44" y1="133.71" x2="295.44" y2="138.91" stroke="#7658a6" stroke-width="0.7"/>
<line x1="293.84" y1="133.71" x2="297.04" y2="133.71" stroke="#7658a6" stroke-width="0.7"/>
<line x1="293.84" y1="138.91" x2="297.04" y2="138.91" stroke="#7658a6" stroke-width="0.7"/>
<circle cx="295.44" cy="136.31" r="2.15" fill="#7658a6" stroke="none" stroke-width="1"/>
<line x1="302.55" y1="133.45" x2="302.55" y2="138.65" stroke="#7658a6" stroke-width="0.7"/>
<line x1="300.95" y1="133.45" x2="304.15" y2="133.45" stroke="#7658a6" stroke-width="0.7"/>
<line x1="300.95" y1="138.65" x2="304.15" y2="138.65" stroke="#7658a6" stroke-width="0.7"/>
<circle cx="302.55" cy="136.05" r="2.15" fill="#7658a6" stroke="none" stroke-width="1"/>
<line x1="309.66" y1="134.35" x2="309.66" y2="139.55" stroke="#7658a6" stroke-width="0.7"/>
<line x1="308.06" y1="134.35" x2="311.26" y2="134.35" stroke="#7658a6" stroke-width="0.7"/>
<line x1="308.06" y1="139.55" x2="311.26" y2="139.55" stroke="#7658a6" stroke-width="0.7"/>
<circle cx="309.66" cy="136.95" r="2.15" fill="#7658a6" stroke="none" stroke-width="1"/>
<line x1="316.77" y1="136.63" x2="316.77" y2="141.83" stroke="#7658a6" stroke-width="0.7"/>
<line x1="315.17" y1="136.63" x2="318.38" y2="136.63" stroke="#7658a6" stroke-width="0.7"/>
<line x1="315.17" y1="141.83" x2="318.38" y2="141.83" stroke="#7658a6" stroke-width="0.7"/>
<circle cx="316.77" cy="139.23" r="2.15" fill="#7658a6" stroke="none" stroke-width="1"/>
<line x1="323.89" y1="132.9" x2="323.89" y2="138.1" stroke="#7658a6" stroke-width="0.7"/>
<line x1="322.29" y1="132.9" x2="325.49" y2="132.9" stroke="#7658a6" stroke-width="0.7"/>
<line x1="322.29" y1="138.1" x2="325.49" y2="138.1" stroke="#7658a6" stroke-width="0.7"/>
<circle cx="323.89" cy="135.5" r="2.15" fill="#7658a6" stroke="none" stroke-width="1"/>
<line x1="331" y1="133.14" x2="331" y2="138.34" stroke="#7658a6" stroke-width="0.7"/>
<line x1="329.4" y1="133.14" x2="332.6" y2="133.14" stroke="#7658a6" stroke-width="0.7"/>
<line x1="329.4" y1="138.34" x2="332.6" y2="138.34" stroke="#7658a6" stroke-width="0.7"/>
<circle cx="331" cy="135.74" r="2.15" fill="#7658a6" stroke="none" stroke-width="1"/>
<polyline points="46.5,109.3 53.61,142.97 60.73,142.91 67.84,133.26 74.95,136.54 82.06,132.83 89.17,135.51 96.29,138.7 103.4,137.64 110.51,135.08 117.62,137.98 124.74,135.02 131.85,133.72 138.96,136.38 146.07,136.9 153.19,136.45 160.3,135.49 167.41,135.1 174.53,135.8 181.64,135.68 188.75,138.33 195.86,138 202.97,137.5 210.09,135.21 217.2,137.27 224.31,136.03 231.43,138.64 238.54,138.41 245.65,137.43 252.76,135.54 259.88,135.45 266.99,135.52 274.1,137.33 281.21,136.27 288.32,136.51 295.44,136.51 302.55,138.14 309.66,134.5 316.77,137.76 323.89,134.1 331,134.3" fill="none" stroke="#8a5a48" stroke-width="0.75" stroke-linejoin="round"/>
<circle cx="46.5" cy="109.3" r="2.15" fill="#8a5a48" stroke="none" stroke-width="1"/>
<line x1="53.61" y1="140.37" x2="53.61" y2="145.57" stroke="#8a5a48" stroke-width="0.7"/>
<line x1="52.01" y1="140.37" x2="55.21" y2="140.37" stroke="#8a5a48" stroke-width="0.7"/>
<line x1="52.01" y1="145.57" x2="55.21" y2="145.57" stroke="#8a5a48" stroke-width="0.7"/>
<circle cx="53.61" cy="142.97" r="2.15" fill="#8a5a48" stroke="none" stroke-width="1"/>
<line x1="60.73" y1="140.31" x2="60.73" y2="145.51" stroke="#8a5a48" stroke-width="0.7"/>
<line x1="59.12" y1="140.31" x2="62.33" y2="140.31" stroke="#8a5a48" stroke-width="0.7"/>
<line x1="59.12" y1="145.51" x2="62.33" y2="145.51" stroke="#8a5a48" stroke-width="0.7"/>
<circle cx="60.73" cy="142.91" r="2.15" fill="#8a5a48" stroke="none" stroke-width="1"/>
<line x1="67.84" y1="130.66" x2="67.84" y2="135.86" stroke="#8a5a48" stroke-width="0.7"/>
<line x1="66.24" y1="130.66" x2="69.44" y2="130.66" stroke="#8a5a48" stroke-width="0.7"/>
<line x1="66.24" y1="135.86" x2="69.44" y2="135.86" stroke="#8a5a48" stroke-width="0.7"/>
<circle cx="67.84" cy="133.26" r="2.15" fill="#8a5a48" stroke="none" stroke-width="1"/>
<line x1="74.95" y1="133.94" x2="74.95" y2="139.14" stroke="#8a5a48" stroke-width="0.7"/>
<line x1="73.35" y1="133.94" x2="76.55" y2="133.94" stroke="#8a5a48" stroke-width="0.7"/>
<line x1="73.35" y1="139.14" x2="76.55" y2="139.14" stroke="#8a5a48" stroke-width="0.7"/>
<circle cx="74.95" cy="136.54" r="2.15" fill="#8a5a48" stroke="none" stroke-width="1"/>
<line x1="82.06" y1="130.23" x2="82.06" y2="135.43" stroke="#8a5a48" stroke-width="0.7"/>
<line x1="80.46" y1="130.23" x2="83.66" y2="130.23" stroke="#8a5a48" stroke-width="0.7"/>
<line x1="80.46" y1="135.43" x2="83.66" y2="135.43" stroke="#8a5a48" stroke-width="0.7"/>
<circle cx="82.06" cy="132.83" r="2.15" fill="#8a5a48" stroke="none" stroke-width="1"/>
<line x1="89.17" y1="132.91" x2="89.17" y2="138.11" stroke="#8a5a48" stroke-width="0.7"/>
<line x1="87.58" y1="132.91" x2="90.77" y2="132.91" stroke="#8a5a48" stroke-width="0.7"/>
<line x1="87.58" y1="138.11" x2="90.77" y2="138.11" stroke="#8a5a48" stroke-width="0.7"/>
<circle cx="89.17" cy="135.51" r="2.15" fill="#8a5a48" stroke="none" stroke-width="1"/>
<line x1="96.29" y1="136.1" x2="96.29" y2="141.3" stroke="#8a5a48" stroke-width="0.7"/>
<line x1="94.69" y1="136.1" x2="97.89" y2="136.1" stroke="#8a5a48" stroke-width="0.7"/>
<line x1="94.69" y1="141.3" x2="97.89" y2="141.3" stroke="#8a5a48" stroke-width="0.7"/>
<circle cx="96.29" cy="138.7" r="2.15" fill="#8a5a48" stroke="none" stroke-width="1"/>
<line x1="103.4" y1="135.04" x2="103.4" y2="140.24" stroke="#8a5a48" stroke-width="0.7"/>
<line x1="101.8" y1="135.04" x2="105" y2="135.04" stroke="#8a5a48" stroke-width="0.7"/>
<line x1="101.8" y1="140.24" x2="105" y2="140.24" stroke="#8a5a48" stroke-width="0.7"/>
<circle cx="103.4" cy="137.64" r="2.15" fill="#8a5a48" stroke="none" stroke-width="1"/>
<line x1="110.51" y1="132.48" x2="110.51" y2="137.68" stroke="#8a5a48" stroke-width="0.7"/>
<line x1="108.91" y1="132.48" x2="112.11" y2="132.48" stroke="#8a5a48" stroke-width="0.7"/>
<line x1="108.91" y1="137.68" x2="112.11" y2="137.68" stroke="#8a5a48" stroke-width="0.7"/>
<circle cx="110.51" cy="135.08" r="2.15" fill="#8a5a48" stroke="none" stroke-width="1"/>
<line x1="117.62" y1="135.38" x2="117.62" y2="140.58" stroke="#8a5a48" stroke-width="0.7"/>
<line x1="116.03" y1="135.38" x2="119.22" y2="135.38" stroke="#8a5a48" stroke-width="0.7"/>
<line x1="116.03" y1="140.58" x2="119.22" y2="140.58" stroke="#8a5a48" stroke-width="0.7"/>
<circle cx="117.62" cy="137.98" r="2.15" fill="#8a5a48" stroke="none" stroke-width="1"/>
<line x1="124.74" y1="132.42" x2="124.74" y2="137.62" stroke="#8a5a48" stroke-width="0.7"/>
<line x1="123.14" y1="132.42" x2="126.34" y2="132.42" stroke="#8a5a48" stroke-width="0.7"/>
<line x1="123.14" y1="137.62" x2="126.34" y2="137.62" stroke="#8a5a48" stroke-width="0.7"/>
<circle cx="124.74" cy="135.02" r="2.15" fill="#8a5a48" stroke="none" stroke-width="1"/>
<line x1="131.85" y1="131.12" x2="131.85" y2="136.32" stroke="#8a5a48" stroke-width="0.7"/>
<line x1="130.25" y1="131.12" x2="133.45" y2="131.12" stroke="#8a5a48" stroke-width="0.7"/>
<line x1="130.25" y1="136.32" x2="133.45" y2="136.32" stroke="#8a5a48" stroke-width="0.7"/>
<circle cx="131.85" cy="133.72" r="2.15" fill="#8a5a48" stroke="none" stroke-width="1"/>
<line x1="138.96" y1="133.78" x2="138.96" y2="138.98" stroke="#8a5a48" stroke-width="0.7"/>
<line x1="137.36" y1="133.78" x2="140.56" y2="133.78" stroke="#8a5a48" stroke-width="0.7"/>
<line x1="137.36" y1="138.98" x2="140.56" y2="138.98" stroke="#8a5a48" stroke-width="0.7"/>
<circle cx="138.96" cy="136.38" r="2.15" fill="#8a5a48" stroke="none" stroke-width="1"/>
<line x1="146.07" y1="134.3" x2="146.07" y2="139.5" stroke="#8a5a48" stroke-width="0.7"/>
<line x1="144.47" y1="134.3" x2="147.67" y2="134.3" stroke="#8a5a48" stroke-width="0.7"/>
<line x1="144.47" y1="139.5" x2="147.67" y2="139.5" stroke="#8a5a48" stroke-width="0.7"/>
<circle cx="146.07" cy="136.9" r="2.15" fill="#8a5a48" stroke="none" stroke-width="1"/>
<line x1="153.19" y1="133.85" x2="153.19" y2="139.05" stroke="#8a5a48" stroke-width="0.7"/>
<line x1="151.59" y1="133.85" x2="154.79" y2="133.85" stroke="#8a5a48" stroke-width="0.7"/>
<line x1="151.59" y1="139.05" x2="154.79" y2="139.05" stroke="#8a5a48" stroke-width="0.7"/>
<circle cx="153.19" cy="136.45" r="2.15" fill="#8a5a48" stroke="none" stroke-width="1"/>
<line x1="160.3" y1="132.89" x2="160.3" y2="138.09" stroke="#8a5a48" stroke-width="0.7"/>
<line x1="158.7" y1="132.89" x2="161.9" y2="132.89" stroke="#8a5a48" stroke-width="0.7"/>
<line x1="158.7" y1="138.09" x2="161.9" y2="138.09" stroke="#8a5a48" stroke-width="0.7"/>
<circle cx="160.3" cy="135.49" r="2.15" fill="#8a5a48" stroke="none" stroke-width="1"/>
<line x1="167.41" y1="132.5" x2="167.41" y2="137.7" stroke="#8a5a48" stroke-width="0.7"/>
<line x1="165.81" y1="132.5" x2="169.01" y2="132.5" stroke="#8a5a48" stroke-width="0.7"/>
<line x1="165.81" y1="137.7" x2="169.01" y2="137.7" stroke="#8a5a48" stroke-width="0.7"/>
<circle cx="167.41" cy="135.1" r="2.15" fill="#8a5a48" stroke="none" stroke-width="1"/>
<line x1="174.53" y1="133.2" x2="174.53" y2="138.4" stroke="#8a5a48" stroke-width="0.7"/>
<line x1="172.93" y1="133.2" x2="176.12" y2="133.2" stroke="#8a5a48" stroke-width="0.7"/>
<line x1="172.93" y1="138.4" x2="176.12" y2="138.4" stroke="#8a5a48" stroke-width="0.7"/>
<circle cx="174.53" cy="135.8" r="2.15" fill="#8a5a48" stroke="none" stroke-width="1"/>
<line x1="181.64" y1="133.08" x2="181.64" y2="138.28" stroke="#8a5a48" stroke-width="0.7"/>
<line x1="180.04" y1="133.08" x2="183.24" y2="133.08" stroke="#8a5a48" stroke-width="0.7"/>
<line x1="180.04" y1="138.28" x2="183.24" y2="138.28" stroke="#8a5a48" stroke-width="0.7"/>
<circle cx="181.64" cy="135.68" r="2.15" fill="#8a5a48" stroke="none" stroke-width="1"/>
<line x1="188.75" y1="135.73" x2="188.75" y2="140.93" stroke="#8a5a48" stroke-width="0.7"/>
<line x1="187.15" y1="135.73" x2="190.35" y2="135.73" stroke="#8a5a48" stroke-width="0.7"/>
<line x1="187.15" y1="140.93" x2="190.35" y2="140.93" stroke="#8a5a48" stroke-width="0.7"/>
<circle cx="188.75" cy="138.33" r="2.15" fill="#8a5a48" stroke="none" stroke-width="1"/>
<line x1="195.86" y1="135.4" x2="195.86" y2="140.6" stroke="#8a5a48" stroke-width="0.7"/>
<line x1="194.26" y1="135.4" x2="197.46" y2="135.4" stroke="#8a5a48" stroke-width="0.7"/>
<line x1="194.26" y1="140.6" x2="197.46" y2="140.6" stroke="#8a5a48" stroke-width="0.7"/>
<circle cx="195.86" cy="138" r="2.15" fill="#8a5a48" stroke="none" stroke-width="1"/>
<line x1="202.97" y1="134.9" x2="202.97" y2="140.1" stroke="#8a5a48" stroke-width="0.7"/>
<line x1="201.38" y1="134.9" x2="204.57" y2="134.9" stroke="#8a5a48" stroke-width="0.7"/>
<line x1="201.38" y1="140.1" x2="204.57" y2="140.1" stroke="#8a5a48" stroke-width="0.7"/>
<circle cx="202.97" cy="137.5" r="2.15" fill="#8a5a48" stroke="none" stroke-width="1"/>
<line x1="210.09" y1="132.61" x2="210.09" y2="137.81" stroke="#8a5a48" stroke-width="0.7"/>
<line x1="208.49" y1="132.61" x2="211.69" y2="132.61" stroke="#8a5a48" stroke-width="0.7"/>
<line x1="208.49" y1="137.81" x2="211.69" y2="137.81" stroke="#8a5a48" stroke-width="0.7"/>
<circle cx="210.09" cy="135.21" r="2.15" fill="#8a5a48" stroke="none" stroke-width="1"/>
<line x1="217.2" y1="134.67" x2="217.2" y2="139.87" stroke="#8a5a48" stroke-width="0.7"/>
<line x1="215.6" y1="134.67" x2="218.8" y2="134.67" stroke="#8a5a48" stroke-width="0.7"/>
<line x1="215.6" y1="139.87" x2="218.8" y2="139.87" stroke="#8a5a48" stroke-width="0.7"/>
<circle cx="217.2" cy="137.27" r="2.15" fill="#8a5a48" stroke="none" stroke-width="1"/>
<line x1="224.31" y1="133.43" x2="224.31" y2="138.63" stroke="#8a5a48" stroke-width="0.7"/>
<line x1="222.71" y1="133.43" x2="225.91" y2="133.43" stroke="#8a5a48" stroke-width="0.7"/>
<line x1="222.71" y1="138.63" x2="225.91" y2="138.63" stroke="#8a5a48" stroke-width="0.7"/>
<circle cx="224.31" cy="136.03" r="2.15" fill="#8a5a48" stroke="none" stroke-width="1"/>
<line x1="231.43" y1="136.04" x2="231.43" y2="141.24" stroke="#8a5a48" stroke-width="0.7"/>
<line x1="229.83" y1="136.04" x2="233.03" y2="136.04" stroke="#8a5a48" stroke-width="0.7"/>
<line x1="229.83" y1="141.24" x2="233.03" y2="141.24" stroke="#8a5a48" stroke-width="0.7"/>
<circle cx="231.43" cy="138.64" r="2.15" fill="#8a5a48" stroke="none" stroke-width="1"/>
<line x1="238.54" y1="135.81" x2="238.54" y2="141.01" stroke="#8a5a48" stroke-width="0.7"/>
<line x1="236.94" y1="135.81" x2="240.14" y2="135.81" stroke="#8a5a48" stroke-width="0.7"/>
<line x1="236.94" y1="141.01" x2="240.14" y2="141.01" stroke="#8a5a48" stroke-width="0.7"/>
<circle cx="238.54" cy="138.41" r="2.15" fill="#8a5a48" stroke="none" stroke-width="1"/>
<line x1="245.65" y1="134.83" x2="245.65" y2="140.03" stroke="#8a5a48" stroke-width="0.7"/>
<line x1="244.05" y1="134.83" x2="247.25" y2="134.83" stroke="#8a5a48" stroke-width="0.7"/>
<line x1="244.05" y1="140.03" x2="247.25" y2="140.03" stroke="#8a5a48" stroke-width="0.7"/>
<circle cx="245.65" cy="137.43" r="2.15" fill="#8a5a48" stroke="none" stroke-width="1"/>
<line x1="252.76" y1="132.94" x2="252.76" y2="138.14" stroke="#8a5a48" stroke-width="0.7"/>
<line x1="251.16" y1="132.94" x2="254.36" y2="132.94" stroke="#8a5a48" stroke-width="0.7"/>
<line x1="251.16" y1="138.14" x2="254.36" y2="138.14" stroke="#8a5a48" stroke-width="0.7"/>
<circle cx="252.76" cy="135.54" r="2.15" fill="#8a5a48" stroke="none" stroke-width="1"/>
<line x1="259.88" y1="132.85" x2="259.88" y2="138.05" stroke="#8a5a48" stroke-width="0.7"/>
<line x1="258.27" y1="132.85" x2="261.48" y2="132.85" stroke="#8a5a48" stroke-width="0.7"/>
<line x1="258.27" y1="138.05" x2="261.48" y2="138.05" stroke="#8a5a48" stroke-width="0.7"/>
<circle cx="259.88" cy="135.45" r="2.15" fill="#8a5a48" stroke="none" stroke-width="1"/>
<line x1="266.99" y1="132.92" x2="266.99" y2="138.12" stroke="#8a5a48" stroke-width="0.7"/>
<line x1="265.39" y1="132.92" x2="268.59" y2="132.92" stroke="#8a5a48" stroke-width="0.7"/>
<line x1="265.39" y1="138.12" x2="268.59" y2="138.12" stroke="#8a5a48" stroke-width="0.7"/>
<circle cx="266.99" cy="135.52" r="2.15" fill="#8a5a48" stroke="none" stroke-width="1"/>
<line x1="274.1" y1="134.73" x2="274.1" y2="139.93" stroke="#8a5a48" stroke-width="0.7"/>
<line x1="272.5" y1="134.73" x2="275.7" y2="134.73" stroke="#8a5a48" stroke-width="0.7"/>
<line x1="272.5" y1="139.93" x2="275.7" y2="139.93" stroke="#8a5a48" stroke-width="0.7"/>
<circle cx="274.1" cy="137.33" r="2.15" fill="#8a5a48" stroke="none" stroke-width="1"/>
<line x1="281.21" y1="133.67" x2="281.21" y2="138.87" stroke="#8a5a48" stroke-width="0.7"/>
<line x1="279.61" y1="133.67" x2="282.81" y2="133.67" stroke="#8a5a48" stroke-width="0.7"/>
<line x1="279.61" y1="138.87" x2="282.81" y2="138.87" stroke="#8a5a48" stroke-width="0.7"/>
<circle cx="281.21" cy="136.27" r="2.15" fill="#8a5a48" stroke="none" stroke-width="1"/>
<line x1="288.32" y1="133.91" x2="288.32" y2="139.11" stroke="#8a5a48" stroke-width="0.7"/>
<line x1="286.72" y1="133.91" x2="289.93" y2="133.91" stroke="#8a5a48" stroke-width="0.7"/>
<line x1="286.72" y1="139.11" x2="289.93" y2="139.11" stroke="#8a5a48" stroke-width="0.7"/>
<circle cx="288.32" cy="136.51" r="2.15" fill="#8a5a48" stroke="none" stroke-width="1"/>
<line x1="295.44" y1="133.91" x2="295.44" y2="139.11" stroke="#8a5a48" stroke-width="0.7"/>
<line x1="293.84" y1="133.91" x2="297.04" y2="133.91" stroke="#8a5a48" stroke-width="0.7"/>
<line x1="293.84" y1="139.11" x2="297.04" y2="139.11" stroke="#8a5a48" stroke-width="0.7"/>
<circle cx="295.44" cy="136.51" r="2.15" fill="#8a5a48" stroke="none" stroke-width="1"/>
<line x1="302.55" y1="135.54" x2="302.55" y2="140.74" stroke="#8a5a48" stroke-width="0.7"/>
<line x1="300.95" y1="135.54" x2="304.15" y2="135.54" stroke="#8a5a48" stroke-width="0.7"/>
<line x1="300.95" y1="140.74" x2="304.15" y2="140.74" stroke="#8a5a48" stroke-width="0.7"/>
<circle cx="302.55" cy="138.14" r="2.15" fill="#8a5a48" stroke="none" stroke-width="1"/>
<line x1="309.66" y1="131.9" x2="309.66" y2="137.1" stroke="#8a5a48" stroke-width="0.7"/>
<line x1="308.06" y1="131.9" x2="311.26" y2="131.9" stroke="#8a5a48" stroke-width="0.7"/>
<line x1="308.06" y1="137.1" x2="311.26" y2="137.1" stroke="#8a5a48" stroke-width="0.7"/>
<circle cx="309.66" cy="134.5" r="2.15" fill="#8a5a48" stroke="none" stroke-width="1"/>
<line x1="316.77" y1="135.16" x2="316.77" y2="140.36" stroke="#8a5a48" stroke-width="0.7"/>
<line x1="315.17" y1="135.16" x2="318.38" y2="135.16" stroke="#8a5a48" stroke-width="0.7"/>
<line x1="315.17" y1="140.36" x2="318.38" y2="140.36" stroke="#8a5a48" stroke-width="0.7"/>
<circle cx="316.77" cy="137.76" r="2.15" fill="#8a5a48" stroke="none" stroke-width="1"/>
<line x1="323.89" y1="131.5" x2="323.89" y2="136.7" stroke="#8a5a48" stroke-width="0.7"/>
<line x1="322.29" y1="131.5" x2="325.49" y2="131.5" stroke="#8a5a48" stroke-width="0.7"/>
<line x1="322.29" y1="136.7" x2="325.49" y2="136.7" stroke="#8a5a48" stroke-width="0.7"/>
<circle cx="323.89" cy="134.1" r="2.15" fill="#8a5a48" stroke="none" stroke-width="1"/>
<line x1="331" y1="131.7" x2="331" y2="136.9" stroke="#8a5a48" stroke-width="0.7"/>
<line x1="329.4" y1="131.7" x2="332.6" y2="131.7" stroke="#8a5a48" stroke-width="0.7"/>
<line x1="329.4" y1="136.9" x2="332.6" y2="136.9" stroke="#8a5a48" stroke-width="0.7"/>
<circle cx="331" cy="134.3" r="2.15" fill="#8a5a48" stroke="none" stroke-width="1"/>
<line x1="46.5" y1="102.3" x2="331" y2="102.3" stroke="#363636" stroke-width="1"/>
<line x1="331" y1="102.3" x2="331" y2="171.3" stroke="#7a7a7a" stroke-width="1"/>
<line x1="46.5" y1="102.3" x2="46.5" y2="171.3" stroke="#363636" stroke-width="1"/>
<line x1="46.5" y1="171.3" x2="331" y2="171.3" stroke="#363636" stroke-width="1"/>
<line x1="117.62" y1="171.3" x2="117.62" y2="168.5" stroke="#363636" stroke-width="0.8"/>
<line x1="117.62" y1="102.3" x2="117.62" y2="105.1" stroke="#363636" stroke-width="0.8"/>
<line x1="188.75" y1="171.3" x2="188.75" y2="168.5" stroke="#363636" stroke-width="0.8"/>
<line x1="188.75" y1="102.3" x2="188.75" y2="105.1" stroke="#363636" stroke-width="0.8"/>
<line x1="259.88" y1="171.3" x2="259.88" y2="168.5" stroke="#363636" stroke-width="0.8"/>
<line x1="259.88" y1="102.3" x2="259.88" y2="105.1" stroke="#363636" stroke-width="0.8"/>
<line x1="46.5" y1="109.3" x2="49.3" y2="109.3" stroke="#363636" stroke-width="0.8"/>
<line x1="331" y1="109.3" x2="328.2" y2="109.3" stroke="#363636" stroke-width="0.8"/>
<line x1="46.5" y1="136.9" x2="49.3" y2="136.9" stroke="#363636" stroke-width="0.8"/>
<line x1="331" y1="136.9" x2="328.2" y2="136.9" stroke="#363636" stroke-width="0.8"/>
<line x1="46.5" y1="164.5" x2="49.3" y2="164.5" stroke="#363636" stroke-width="0.8"/>
<line x1="331" y1="164.5" x2="328.2" y2="164.5" stroke="#363636" stroke-width="0.8"/>
<text x="37.8" y="113.9" font-size="12.2" text-anchor="end">1</text>
<text x="37.7" y="141.5" font-size="12.2" text-anchor="end">0</text>
<text x="41.2" y="169.1" font-size="12.2" text-anchor="end">-1</text>
<text x="326.5" y="119.4" font-size="12.5" text-anchor="end" font-style="italic">B=3.0</text>
<text x="44.4" y="187.9" font-size="12.2" text-anchor="middle">0</text>
<text x="115.6" y="187.9" font-size="12.2" text-anchor="middle">5</text>
<text x="188.2" y="187.9" font-size="12.2" text-anchor="middle">10</text>
<text x="259.45" y="187.9" font-size="12.2" text-anchor="middle">15</text>
<text x="330.7" y="187.9" font-size="12.2" text-anchor="middle">20</text>
<text x="189.2" y="203.4" font-size="12.4" text-anchor="middle" font-style="italic">t/T</text>
<line x1="0.6" y1="54.8" x2="0.6" y2="79.9" stroke="#555" stroke-width="1.1"/>
<g transform="translate(18.5 79.4) rotate(-90)"><text x="0" y="0" font-size="12" font-style="italic" fill="#1a1a1a">A<tspan font-size="9" dy="5.9">L</tspan><tspan font-size="9.2" dx="-4.6" dy="-11.4">1/d</tspan><tspan font-size="12" dx="-0.2" dy="3.5">(t)</tspan></text></g>
<line x1="0.6" y1="129.8" x2="0.6" y2="154.9" stroke="#555" stroke-width="1.1"/>
<g transform="translate(18.5 154.4) rotate(-90)"><text x="0" y="0" font-size="12" font-style="italic" fill="#1a1a1a">A<tspan font-size="9" dy="5.9">L</tspan><tspan font-size="9.2" dx="-4.6" dy="-11.4">1/d</tspan><tspan font-size="12" dx="-0.2" dy="3.5">(t)</tspan></text></g>
<line x1="74.3" y1="12.6" x2="86.3" y2="12.6" stroke="#3f62ae" stroke-width="0.9"/>
<line x1="80.3" y1="8.4" x2="80.3" y2="17.6" stroke="#3f62ae" stroke-width="0.9"/>
<line x1="78.1" y1="8.4" x2="82.5" y2="8.4" stroke="#3f62ae" stroke-width="0.9"/>
<line x1="78.1" y1="17.6" x2="82.5" y2="17.6" stroke="#3f62ae" stroke-width="0.9"/>
<circle cx="80.3" cy="12.6" r="1.9" fill="#3f62ae" stroke="none" stroke-width="1"/>
<text x="88.5" y="12.1" font-size="12.2" font-style="italic" fill="#1a1a1a">Z<tspan font-size="9.2" dy="5.9">L</tspan><tspan font-size="7.6" dx="1" dy="5.5">1</tspan></text>
<line x1="113.6" y1="12.6" x2="125.6" y2="12.6" stroke="#eea03f" stroke-width="0.9"/>
<line x1="119.6" y1="8.4" x2="119.6" y2="17.6" stroke="#eea03f" stroke-width="0.9"/>
<line x1="117.4" y1="8.4" x2="121.8" y2="8.4" stroke="#eea03f" stroke-width="0.9"/>
<line x1="117.4" y1="17.6" x2="121.8" y2="17.6" stroke="#eea03f" stroke-width="0.9"/>
<circle cx="119.6" cy="12.6" r="1.9" fill="#eea03f" stroke="none" stroke-width="1"/>
<text x="127.8" y="12.1" font-size="12.2" font-style="italic" fill="#1a1a1a">Z<tspan font-size="9.2" dy="5.9">L</tspan><tspan font-size="7.6" dx="1" dy="5.5">2</tspan></text>
<line x1="152.9" y1="12.6" x2="164.9" y2="12.6" stroke="#3aa886" stroke-width="0.9"/>
<line x1="158.9" y1="8.4" x2="158.9" y2="17.6" stroke="#3aa886" stroke-width="0.9"/>
<line x1="156.7" y1="8.4" x2="161.1" y2="8.4" stroke="#3aa886" stroke-width="0.9"/>
<line x1="156.7" y1="17.6" x2="161.1" y2="17.6" stroke="#3aa886" stroke-width="0.9"/>
<circle cx="158.9" cy="12.6" r="1.9" fill="#3aa886" stroke="none" stroke-width="1"/>
<text x="167.1" y="12.1" font-size="12.2" font-style="italic" fill="#1a1a1a">Z<tspan font-size="9.2" dy="5.9">L</tspan><tspan font-size="7.6" dx="1" dy="5.5">3</tspan></text>
<line x1="192.2" y1="12.6" x2="204.2" y2="12.6" stroke="#d8404a" stroke-width="0.9"/>
<line x1="198.2" y1="8.4" x2="198.2" y2="17.6" stroke="#d8404a" stroke-width="0.9"/>
<line x1="196" y1="8.4" x2="200.4" y2="8.4" stroke="#d8404a" stroke-width="0.9"/>
<line x1="196" y1="17.6" x2="200.4" y2="17.6" stroke="#d8404a" stroke-width="0.9"/>
<circle cx="198.2" cy="12.6" r="1.9" fill="#d8404a" stroke="none" stroke-width="1"/>
<text x="206.4" y="12.1" font-size="12.2" font-style="italic" fill="#1a1a1a">Z<tspan font-size="9.2" dy="5.9">L</tspan><tspan font-size="7.6" dx="1" dy="5.5">4</tspan></text>
<line x1="231.5" y1="12.6" x2="243.5" y2="12.6" stroke="#7658a6" stroke-width="0.9"/>
<line x1="237.5" y1="8.4" x2="237.5" y2="17.6" stroke="#7658a6" stroke-width="0.9"/>
<line x1="235.3" y1="8.4" x2="239.7" y2="8.4" stroke="#7658a6" stroke-width="0.9"/>
<line x1="235.3" y1="17.6" x2="239.7" y2="17.6" stroke="#7658a6" stroke-width="0.9"/>
<circle cx="237.5" cy="12.6" r="1.9" fill="#7658a6" stroke="none" stroke-width="1"/>
<text x="245.7" y="12.1" font-size="12.2" font-style="italic" fill="#1a1a1a">Z<tspan font-size="9.2" dy="5.9">L</tspan><tspan font-size="7.6" dx="1" dy="5.5">5</tspan></text>
<line x1="270.8" y1="12.6" x2="282.8" y2="12.6" stroke="#8a5a48" stroke-width="0.9"/>
<line x1="276.8" y1="8.4" x2="276.8" y2="17.6" stroke="#8a5a48" stroke-width="0.9"/>
<line x1="274.6" y1="8.4" x2="279" y2="8.4" stroke="#8a5a48" stroke-width="0.9"/>
<line x1="274.6" y1="17.6" x2="279" y2="17.6" stroke="#8a5a48" stroke-width="0.9"/>
<circle cx="276.8" cy="12.6" r="1.9" fill="#8a5a48" stroke="none" stroke-width="1"/>
<text x="285" y="12.1" font-size="12.2" font-style="italic" fill="#1a1a1a">Z<tspan font-size="9.2" dy="5.9">L</tspan><tspan font-size="7.6" dx="1" dy="5.5">6</tspan></text>
</g>
<text x="3.8" y="9.9" font-size="13.8" font-weight="bold" fill="#000">a</text>
<g id="pb">
<line x1="440.58" y1="26.5" x2="440.58" y2="171.3" stroke="#e3e3e3" stroke-width="0.8"/>
<line x1="487.87" y1="26.5" x2="487.87" y2="171.3" stroke="#e3e3e3" stroke-width="0.8"/>
<line x1="535.15" y1="26.5" x2="535.15" y2="171.3" stroke="#e3e3e3" stroke-width="0.8"/>
<line x1="582.43" y1="26.5" x2="582.43" y2="171.3" stroke="#e3e3e3" stroke-width="0.8"/>
<line x1="629.72" y1="26.5" x2="629.72" y2="171.3" stroke="#e3e3e3" stroke-width="0.8"/>
<line x1="393.3" y1="126.66" x2="677" y2="126.66" stroke="#e3e3e3" stroke-width="0.8"/>
<line x1="393.3" y1="82.02" x2="677" y2="82.02" stroke="#e3e3e3" stroke-width="0.8"/>
<line x1="393.3" y1="37.38" x2="677" y2="37.38" stroke="#e3e3e3" stroke-width="0.8"/>
<polyline points="393.3,34.03 402.76,34.48 412.21,36.26 421.67,38.94 431.13,42.96 440.58,48.54 450.04,55.24 459.5,61.93 468.95,69.74 478.41,78.67 487.87,86.48 497.32,91.62 506.78,96.3 516.24,102.11 525.69,108.8 535.15,115.95 544.61,121.75 554.06,125.54 563.52,127.78 572.98,133.36 582.43,138.27 601.35,140.05 620.26,147.19 639.17,146.3 658.09,146.75 677,150.54" fill="none" stroke="#8b5a47" stroke-width="1.3" stroke-dasharray="6,2.6,1.4,2.6" stroke-linejoin="round"/>
<polyline points="393.3,45.42 402.76,46.98 412.21,48.54 431.13,55.68 450.04,66.4 468.95,84.48 487.87,95.19 506.78,103.89 525.69,114.16 544.61,127.78 563.52,129.56 582.43,139.38 601.35,141.61 620.26,148.31 639.17,147.19 658.09,147.19 677,150.54" fill="none" stroke="#8b5a47" stroke-width="1.5" stroke-linejoin="round"/>
<rect x="390.6" y="42.72" width="5.4" height="5.4" fill="#8b5a47" stroke="none" stroke-width="1"/>
<rect x="400.06" y="44.28" width="5.4" height="5.4" fill="#8b5a47" stroke="none" stroke-width="1"/>
<rect x="409.51" y="45.84" width="5.4" height="5.4" fill="#8b5a47" stroke="none" stroke-width="1"/>
<line x1="431.13" y1="51" x2="431.13" y2="60.37" stroke="#8b5a47" stroke-width="1.35"/>
<line x1="428.43" y1="51" x2="433.83" y2="51" stroke="#8b5a47" stroke-width="1.35"/>
<line x1="428.43" y1="60.37" x2="433.83" y2="60.37" stroke="#8b5a47" stroke-width="1.35"/>
<circle cx="431.13" cy="55.68" r="3" fill="#8b5a47" stroke="none" stroke-width="1"/>
<line x1="450.04" y1="54.79" x2="450.04" y2="78" stroke="#8b5a47" stroke-width="1.35"/>
<line x1="447.34" y1="54.79" x2="452.74" y2="54.79" stroke="#8b5a47" stroke-width="1.35"/>
<line x1="447.34" y1="78" x2="452.74" y2="78" stroke="#8b5a47" stroke-width="1.35"/>
<circle cx="450.04" cy="66.4" r="3" fill="#8b5a47" stroke="none" stroke-width="1"/>
<line x1="468.95" y1="69.3" x2="468.95" y2="99.65" stroke="#8b5a47" stroke-width="1.35"/>
<line x1="466.25" y1="69.3" x2="471.65" y2="69.3" stroke="#8b5a47" stroke-width="1.35"/>
<line x1="466.25" y1="99.65" x2="471.65" y2="99.65" stroke="#8b5a47" stroke-width="1.35"/>
<circle cx="468.95" cy="84.48" r="3" fill="#8b5a47" stroke="none" stroke-width="1"/>
<line x1="487.87" y1="81.8" x2="487.87" y2="108.58" stroke="#8b5a47" stroke-width="1.35"/>
<line x1="485.17" y1="81.8" x2="490.57" y2="81.8" stroke="#8b5a47" stroke-width="1.35"/>
<line x1="485.17" y1="108.58" x2="490.57" y2="108.58" stroke="#8b5a47" stroke-width="1.35"/>
<circle cx="487.87" cy="95.19" r="3" fill="#8b5a47" stroke="none" stroke-width="1"/>
<line x1="506.78" y1="86.93" x2="506.78" y2="120.86" stroke="#8b5a47" stroke-width="1.35"/>
<line x1="504.08" y1="86.93" x2="509.48" y2="86.93" stroke="#8b5a47" stroke-width="1.35"/>
<line x1="504.08" y1="120.86" x2="509.48" y2="120.86" stroke="#8b5a47" stroke-width="1.35"/>
<circle cx="506.78" cy="103.89" r="3" fill="#8b5a47" stroke="none" stroke-width="1"/>
<line x1="525.69" y1="99.21" x2="525.69" y2="129.12" stroke="#8b5a47" stroke-width="1.35"/>
<line x1="522.99" y1="99.21" x2="528.39" y2="99.21" stroke="#8b5a47" stroke-width="1.35"/>
<line x1="522.99" y1="129.12" x2="528.39" y2="129.12" stroke="#8b5a47" stroke-width="1.35"/>
<circle cx="525.69" cy="114.16" r="3" fill="#8b5a47" stroke="none" stroke-width="1"/>
<line x1="544.61" y1="114.61" x2="544.61" y2="140.94" stroke="#8b5a47" stroke-width="1.35"/>
<line x1="541.91" y1="114.61" x2="547.31" y2="114.61" stroke="#8b5a47" stroke-width="1.35"/>
<line x1="541.91" y1="140.94" x2="547.31" y2="140.94" stroke="#8b5a47" stroke-width="1.35"/>
<circle cx="544.61" cy="127.78" r="3" fill="#8b5a47" stroke="none" stroke-width="1"/>
<line x1="563.52" y1="120.19" x2="563.52" y2="138.94" stroke="#8b5a47" stroke-width="1.35"/>
<line x1="560.82" y1="120.19" x2="566.22" y2="120.19" stroke="#8b5a47" stroke-width="1.35"/>
<line x1="560.82" y1="138.94" x2="566.22" y2="138.94" stroke="#8b5a47" stroke-width="1.35"/>
<circle cx="563.52" cy="129.56" r="3" fill="#8b5a47" stroke="none" stroke-width="1"/>
<line x1="582.43" y1="130.45" x2="582.43" y2="148.31" stroke="#8b5a47" stroke-width="1.35"/>
<line x1="579.73" y1="130.45" x2="585.13" y2="130.45" stroke="#8b5a47" stroke-width="1.35"/>
<line x1="579.73" y1="148.31" x2="585.13" y2="148.31" stroke="#8b5a47" stroke-width="1.35"/>
<circle cx="582.43" cy="139.38" r="3" fill="#8b5a47" stroke="none" stroke-width="1"/>
<line x1="601.35" y1="132.91" x2="601.35" y2="150.32" stroke="#8b5a47" stroke-width="1.35"/>
<line x1="598.65" y1="132.91" x2="604.05" y2="132.91" stroke="#8b5a47" stroke-width="1.35"/>
<line x1="598.65" y1="150.32" x2="604.05" y2="150.32" stroke="#8b5a47" stroke-width="1.35"/>
<circle cx="601.35" cy="141.61" r="3" fill="#8b5a47" stroke="none" stroke-width="1"/>
<line x1="620.26" y1="141.61" x2="620.26" y2="155.01" stroke="#8b5a47" stroke-width="1.35"/>
<line x1="617.56" y1="141.61" x2="622.96" y2="141.61" stroke="#8b5a47" stroke-width="1.35"/>
<line x1="617.56" y1="155.01" x2="622.96" y2="155.01" stroke="#8b5a47" stroke-width="1.35"/>
<circle cx="620.26" cy="148.31" r="3" fill="#8b5a47" stroke="none" stroke-width="1"/>
<line x1="639.17" y1="140.5" x2="639.17" y2="153.89" stroke="#8b5a47" stroke-width="1.35"/>
<line x1="636.47" y1="140.5" x2="641.87" y2="140.5" stroke="#8b5a47" stroke-width="1.35"/>
<line x1="636.47" y1="153.89" x2="641.87" y2="153.89" stroke="#8b5a47" stroke-width="1.35"/>
<circle cx="639.17" cy="147.19" r="3" fill="#8b5a47" stroke="none" stroke-width="1"/>
<line x1="658.09" y1="140.05" x2="658.09" y2="154.34" stroke="#8b5a47" stroke-width="1.35"/>
<line x1="655.39" y1="140.05" x2="660.79" y2="140.05" stroke="#8b5a47" stroke-width="1.35"/>
<line x1="655.39" y1="154.34" x2="660.79" y2="154.34" stroke="#8b5a47" stroke-width="1.35"/>
<circle cx="658.09" cy="147.19" r="3" fill="#8b5a47" stroke="none" stroke-width="1"/>
<line x1="677" y1="143.85" x2="677" y2="157.24" stroke="#8b5a47" stroke-width="1.35"/>
<line x1="674.3" y1="143.85" x2="679.7" y2="143.85" stroke="#8b5a47" stroke-width="1.35"/>
<line x1="674.3" y1="157.24" x2="679.7" y2="157.24" stroke="#8b5a47" stroke-width="1.35"/>
<circle cx="677" cy="150.54" r="3" fill="#8b5a47" stroke="none" stroke-width="1"/>
<line x1="393.3" y1="26.5" x2="677" y2="26.5" stroke="#363636" stroke-width="1"/>
<line x1="677" y1="26.5" x2="677" y2="171.3" stroke="#8a8a8a" stroke-width="1"/>
<line x1="393.3" y1="26.5" x2="393.3" y2="171.3" stroke="#363636" stroke-width="1"/>
<line x1="393.3" y1="171.3" x2="677" y2="171.3" stroke="#363636" stroke-width="1"/>
<line x1="440.58" y1="171.3" x2="440.58" y2="168.5" stroke="#363636" stroke-width="0.8"/>
<line x1="440.58" y1="26.5" x2="440.58" y2="29.3" stroke="#363636" stroke-width="0.8"/>
<line x1="487.87" y1="171.3" x2="487.87" y2="168.5" stroke="#363636" stroke-width="0.8"/>
<line x1="487.87" y1="26.5" x2="487.87" y2="29.3" stroke="#363636" stroke-width="0.8"/>
<line x1="535.15" y1="171.3" x2="535.15" y2="168.5" stroke="#363636" stroke-width="0.8"/>
<line x1="535.15" y1="26.5" x2="535.15" y2="29.3" stroke="#363636" stroke-width="0.8"/>
<line x1="582.43" y1="171.3" x2="582.43" y2="168.5" stroke="#363636" stroke-width="0.8"/>
<line x1="582.43" y1="26.5" x2="582.43" y2="29.3" stroke="#363636" stroke-width="0.8"/>
<line x1="629.72" y1="171.3" x2="629.72" y2="168.5" stroke="#363636" stroke-width="0.8"/>
<line x1="629.72" y1="26.5" x2="629.72" y2="29.3" stroke="#363636" stroke-width="0.8"/>
<line x1="393.3" y1="126.66" x2="396.1" y2="126.66" stroke="#363636" stroke-width="0.8"/>
<line x1="677" y1="126.66" x2="674.2" y2="126.66" stroke="#363636" stroke-width="0.8"/>
<line x1="393.3" y1="82.02" x2="396.1" y2="82.02" stroke="#363636" stroke-width="0.8"/>
<line x1="677" y1="82.02" x2="674.2" y2="82.02" stroke="#363636" stroke-width="0.8"/>
<line x1="393.3" y1="37.38" x2="396.1" y2="37.38" stroke="#363636" stroke-width="0.8"/>
<line x1="677" y1="37.38" x2="674.2" y2="37.38" stroke="#363636" stroke-width="0.8"/>
<text x="387.4" y="175.9" font-size="12" text-anchor="end">0</text>
<text x="387.4" y="131.26" font-size="12" text-anchor="end">0.2</text>
<text x="387.4" y="86.62" font-size="12" text-anchor="end">0.4</text>
<text x="387.4" y="41.98" font-size="12" text-anchor="end">0.6</text>
<text x="392.7" y="188.2" font-size="12" text-anchor="middle">0</text>
<text x="439.98" y="188.2" font-size="12" text-anchor="middle">0.5</text>
<text x="487.27" y="188.2" font-size="12" text-anchor="middle">1.0</text>
<text x="534.55" y="188.2" font-size="12" text-anchor="middle">1.5</text>
<text x="581.83" y="188.2" font-size="12" text-anchor="middle">2.0</text>
<text x="629.12" y="188.2" font-size="12" text-anchor="middle">2.5</text>
<text x="676.4" y="188.2" font-size="12" text-anchor="middle">3.0</text>
<text x="535.15" y="203.5" font-size="12.2" text-anchor="middle" font-style="italic">B</text>
<g transform="translate(359.3 160.5) rotate(-90)"><text x="0" y="0" font-size="12.2" fill="#1a1a1a">FFT amplitude at <tspan font-style="italic" dx="0.8">ω</tspan><tspan font-size="9" dx="0.3" dy="4">0</tspan><tspan dy="-4" dx="0.6" font-size="13">/2</tspan></text></g>
<polyline points="414.9,153 432.4,153" fill="none" stroke="#8b5a47" stroke-width="1.3" stroke-dasharray="6,2.6,1.4,2.6" stroke-linejoin="round"/>
<text x="436.4" y="157.4" font-size="12" font-style="italic">Sim.</text>
<line x1="467.4" y1="153" x2="485" y2="153" stroke="#8b5a47" stroke-width="1.5"/>
<line x1="475.7" y1="146.4" x2="475.7" y2="159.6" stroke="#8b5a47" stroke-width="1.35"/>
<line x1="473" y1="146.4" x2="478.4" y2="146.4" stroke="#8b5a47" stroke-width="1.35"/>
<line x1="473" y1="159.6" x2="478.4" y2="159.6" stroke="#8b5a47" stroke-width="1.35"/>
<circle cx="475.7" cy="153" r="3" fill="#8b5a47" stroke="none" stroke-width="1"/>
<text x="488.2" y="157.4" font-size="12" font-style="italic">Exp.</text>
<rect x="548.4" y="35.7" width="120.6" height="56.9" fill="#fff" stroke="none" stroke-width="1"/>
<line x1="588.93" y1="36.7" x2="588.93" y2="91.6" stroke="#e3e3e3" stroke-width="0.8"/>
<line x1="628.47" y1="36.7" x2="628.47" y2="91.6" stroke="#e3e3e3" stroke-width="0.8"/>
<line x1="549.4" y1="64.15" x2="668" y2="64.15" stroke="#e3e3e3" stroke-width="0.8"/>
<line x1="549.4" y1="36.7" x2="668" y2="36.7" stroke="#d0d0d0" stroke-width="0.8"/>
<line x1="668" y1="36.7" x2="668" y2="91.6" stroke="#d0d0d0" stroke-width="0.8"/>
<polyline points="549.4,85.56 553.35,85.56 557.31,85.56 565.21,81.17 573.12,64.15 581.03,54.27 588.93,58.66 596.84,48.78 604.75,54.27 612.65,59.21 620.56,68.54 628.47,69.09 636.37,69.64 644.28,74.03 652.19,74.03 660.09,73.48 668,75.13" fill="none" stroke="#8b5a47" stroke-width="1.1" stroke-linejoin="round"/>
<circle cx="549.4" cy="85.56" r="1.9" fill="#8b5a47" stroke="none" stroke-width="1"/>
<circle cx="553.35" cy="85.56" r="1.9" fill="#8b5a47" stroke="none" stroke-width="1"/>
<circle cx="557.31" cy="85.56" r="1.9" fill="#8b5a47" stroke="none" stroke-width="1"/>
<circle cx="565.21" cy="81.17" r="1.9" fill="#8b5a47" stroke="none" stroke-width="1"/>
<circle cx="573.12" cy="64.15" r="1.9" fill="#8b5a47" stroke="none" stroke-width="1"/>
<circle cx="581.03" cy="54.27" r="1.9" fill="#8b5a47" stroke="none" stroke-width="1"/>
<circle cx="588.93" cy="58.66" r="1.9" fill="#8b5a47" stroke="none" stroke-width="1"/>
<circle cx="596.84" cy="48.78" r="1.9" fill="#8b5a47" stroke="none" stroke-width="1"/>
<circle cx="604.75" cy="54.27" r="1.9" fill="#8b5a47" stroke="none" stroke-width="1"/>
<circle cx="612.65" cy="59.21" r="1.9" fill="#8b5a47" stroke="none" stroke-width="1"/>
<circle cx="620.56" cy="68.54" r="1.9" fill="#8b5a47" stroke="none" stroke-width="1"/>
<circle cx="628.47" cy="69.09" r="1.9" fill="#8b5a47" stroke="none" stroke-width="1"/>
<circle cx="636.37" cy="69.64" r="1.9" fill="#8b5a47" stroke="none" stroke-width="1"/>
<circle cx="644.28" cy="74.03" r="1.9" fill="#8b5a47" stroke="none" stroke-width="1"/>
<circle cx="652.19" cy="74.03" r="1.9" fill="#8b5a47" stroke="none" stroke-width="1"/>
<circle cx="660.09" cy="73.48" r="1.9" fill="#8b5a47" stroke="none" stroke-width="1"/>
<circle cx="668" cy="75.13" r="1.9" fill="#8b5a47" stroke="none" stroke-width="1"/>
<line x1="549.4" y1="36.7" x2="549.4" y2="91.6" stroke="#363636" stroke-width="1"/>
<line x1="549.4" y1="91.6" x2="668" y2="91.6" stroke="#363636" stroke-width="1"/>
<line x1="549.4" y1="64.15" x2="551.9" y2="64.15" stroke="#363636" stroke-width="0.8"/>
<line x1="549.4" y1="36.7" x2="551.9" y2="36.7" stroke="#363636" stroke-width="0.8"/>
<line x1="588.93" y1="91.6" x2="588.93" y2="89.1" stroke="#363636" stroke-width="0.8"/>
<line x1="628.47" y1="91.6" x2="628.47" y2="89.1" stroke="#363636" stroke-width="0.8"/>
<line x1="668" y1="91.6" x2="668" y2="89.1" stroke="#363636" stroke-width="0.8"/>
<text x="543.4" y="95.9" font-size="12" text-anchor="end">0</text>
<text x="543.4" y="68.45" font-size="12" text-anchor="end">0.05</text>
<text x="543.4" y="41" font-size="12" text-anchor="end">0.10</text>
<text x="549.4" y="109.1" font-size="12" text-anchor="middle">0</text>
<text x="588.93" y="109.1" font-size="12" text-anchor="middle">1.0</text>
<text x="628.47" y="109.1" font-size="12" text-anchor="middle">2.0</text>
<text x="668" y="109.1" font-size="12" text-anchor="middle">3.0</text>
<text x="608.3" y="124" font-size="12" text-anchor="middle" font-style="italic">B</text>
<text x="513.8" y="64.6" font-size="12" text-anchor="middle" transform="rotate(-90 513.8 64.6)">S.D.</text>
</g>
<text x="350.4" y="9.9" font-size="13.8" font-weight="bold" fill="#000">b</text>
<g id="pc">
<line x1="72.14" y1="229.4" x2="72.14" y2="373.7" stroke="#e3e3e3" stroke-width="0.8"/>
<line x1="97.78" y1="229.4" x2="97.78" y2="373.7" stroke="#e3e3e3" stroke-width="0.8"/>
<line x1="123.42" y1="229.4" x2="123.42" y2="373.7" stroke="#e3e3e3" stroke-width="0.8"/>
<line x1="149.06" y1="229.4" x2="149.06" y2="373.7" stroke="#e3e3e3" stroke-width="0.8"/>
<line x1="46.5" y1="343.18" x2="174.7" y2="343.18" stroke="#e3e3e3" stroke-width="0.8"/>
<line x1="46.5" y1="312.66" x2="174.7" y2="312.66" stroke="#e3e3e3" stroke-width="0.8"/>
<line x1="46.5" y1="282.14" x2="174.7" y2="282.14" stroke="#e3e3e3" stroke-width="0.8"/>
<line x1="46.5" y1="251.62" x2="174.7" y2="251.62" stroke="#e3e3e3" stroke-width="0.8"/>
<polyline points="46.5,242.46 72.14,340.13 97.78,355.39 123.42,364.24 149.06,368.36 174.7,369.88" fill="none" stroke="#eea03c" stroke-width="1.2" stroke-dasharray="5,2,1.2,2" stroke-linejoin="round"/>
<polyline points="46.5,242.46 72.14,333.26 97.78,354.62 123.42,363.48 149.06,367.6 174.7,369.12" fill="none" stroke="#eea03c" stroke-width="1.6" stroke-linejoin="round"/>
<circle cx="46.5" cy="242.46" r="2.9" fill="#eea03c" stroke="none" stroke-width="1"/>
<line x1="72.14" y1="327.16" x2="72.14" y2="339.36" stroke="#eea03c" stroke-width="1.0"/>
<line x1="69.74" y1="327.16" x2="74.54" y2="327.16" stroke="#eea03c" stroke-width="1.0"/>
<line x1="69.74" y1="339.36" x2="74.54" y2="339.36" stroke="#eea03c" stroke-width="1.0"/>
<circle cx="72.14" cy="333.26" r="2.9" fill="#eea03c" stroke="none" stroke-width="1"/>
<line x1="97.78" y1="351.57" x2="97.78" y2="357.68" stroke="#eea03c" stroke-width="1.0"/>
<line x1="95.38" y1="351.57" x2="100.18" y2="351.57" stroke="#eea03c" stroke-width="1.0"/>
<line x1="95.38" y1="357.68" x2="100.18" y2="357.68" stroke="#eea03c" stroke-width="1.0"/>
<circle cx="97.78" cy="354.62" r="2.9" fill="#eea03c" stroke="none" stroke-width="1"/>
<line x1="123.42" y1="362.25" x2="123.42" y2="364.7" stroke="#eea03c" stroke-width="1.0"/>
<line x1="121.02" y1="362.25" x2="125.82" y2="362.25" stroke="#eea03c" stroke-width="1.0"/>
<line x1="121.02" y1="364.7" x2="125.82" y2="364.7" stroke="#eea03c" stroke-width="1.0"/>
<circle cx="123.42" cy="363.48" r="2.9" fill="#eea03c" stroke="none" stroke-width="1"/>
<line x1="149.06" y1="366.68" x2="149.06" y2="368.51" stroke="#eea03c" stroke-width="1.0"/>
<line x1="146.66" y1="366.68" x2="151.46" y2="366.68" stroke="#eea03c" stroke-width="1.0"/>
<line x1="146.66" y1="368.51" x2="151.46" y2="368.51" stroke="#eea03c" stroke-width="1.0"/>
<circle cx="149.06" cy="367.6" r="2.9" fill="#eea03c" stroke="none" stroke-width="1"/>
<line x1="174.7" y1="368.21" x2="174.7" y2="370.04" stroke="#eea03c" stroke-width="1.0"/>
<line x1="172.3" y1="368.21" x2="177.1" y2="368.21" stroke="#eea03c" stroke-width="1.0"/>
<line x1="172.3" y1="370.04" x2="177.1" y2="370.04" stroke="#eea03c" stroke-width="1.0"/>
<circle cx="174.7" cy="369.12" r="2.9" fill="#eea03c" stroke="none" stroke-width="1"/>
<polyline points="46.5,242.46 72.14,292.82 97.78,318 123.42,334.79 149.06,344.71 174.7,353.86" fill="none" stroke="#3c5fae" stroke-width="1.2" stroke-dasharray="5,2,1.2,2" stroke-linejoin="round"/>
<polyline points="46.5,242.46 72.14,286.41 97.78,318.76 123.42,338.6 149.06,351.57 174.7,358.44" fill="none" stroke="#3c5fae" stroke-width="1.6" stroke-linejoin="round"/>
<line x1="72.14" y1="284.58" x2="72.14" y2="288.24" stroke="#3c5fae" stroke-width="1.0"/>
<line x1="69.74" y1="284.58" x2="74.54" y2="284.58" stroke="#3c5fae" stroke-width="1.0"/>
<line x1="69.74" y1="288.24" x2="74.54" y2="288.24" stroke="#3c5fae" stroke-width="1.0"/>
<circle cx="72.14" cy="286.41" r="2.9" fill="#3c5fae" stroke="none" stroke-width="1"/>
<line x1="97.78" y1="316.93" x2="97.78" y2="320.6" stroke="#3c5fae" stroke-width="1.0"/>
<line x1="95.38" y1="316.93" x2="100.18" y2="316.93" stroke="#3c5fae" stroke-width="1.0"/>
<line x1="95.38" y1="320.6" x2="100.18" y2="320.6" stroke="#3c5fae" stroke-width="1.0"/>
<rect x="95.18" y="316.16" width="5.2" height="5.2" fill="#3c5fae" stroke="none" stroke-width="1"/>
<line x1="123.42" y1="336.16" x2="123.42" y2="341.04" stroke="#3c5fae" stroke-width="1.0"/>
<line x1="121.02" y1="336.16" x2="125.82" y2="336.16" stroke="#3c5fae" stroke-width="1.0"/>
<line x1="121.02" y1="341.04" x2="125.82" y2="341.04" stroke="#3c5fae" stroke-width="1.0"/>
<rect x="120.82" y="336" width="5.2" height="5.2" fill="#3c5fae" stroke="none" stroke-width="1"/>
<line x1="149.06" y1="350.05" x2="149.06" y2="353.1" stroke="#3c5fae" stroke-width="1.0"/>
<line x1="146.66" y1="350.05" x2="151.46" y2="350.05" stroke="#3c5fae" stroke-width="1.0"/>
<line x1="146.66" y1="353.1" x2="151.46" y2="353.1" stroke="#3c5fae" stroke-width="1.0"/>
<rect x="146.46" y="348.97" width="5.2" height="5.2" fill="#3c5fae" stroke="none" stroke-width="1"/>
<line x1="174.7" y1="357.22" x2="174.7" y2="359.66" stroke="#3c5fae" stroke-width="1.0"/>
<line x1="172.3" y1="357.22" x2="177.1" y2="357.22" stroke="#3c5fae" stroke-width="1.0"/>
<line x1="172.3" y1="359.66" x2="177.1" y2="359.66" stroke="#3c5fae" stroke-width="1.0"/>
<circle cx="174.7" cy="358.44" r="2.9" fill="#3c5fae" stroke="none" stroke-width="1"/>
<circle cx="46.5" cy="242.46" r="2.9" fill="#eea03c" stroke="none" stroke-width="1"/>
<line x1="46.5" y1="229.4" x2="174.7" y2="229.4" stroke="#363636" stroke-width="1"/>
<line x1="174.7" y1="229.4" x2="174.7" y2="373.7" stroke="#8a8a8a" stroke-width="1"/>
<line x1="46.5" y1="229.4" x2="46.5" y2="373.7" stroke="#363636" stroke-width="1"/>
<line x1="46.5" y1="373.7" x2="174.7" y2="373.7" stroke="#363636" stroke-width="1"/>
<line x1="72.14" y1="373.7" x2="72.14" y2="370.9" stroke="#363636" stroke-width="0.8"/>
<line x1="72.14" y1="229.4" x2="72.14" y2="232.2" stroke="#363636" stroke-width="0.8"/>
<line x1="97.78" y1="373.7" x2="97.78" y2="370.9" stroke="#363636" stroke-width="0.8"/>
<line x1="97.78" y1="229.4" x2="97.78" y2="232.2" stroke="#363636" stroke-width="0.8"/>
<line x1="123.42" y1="373.7" x2="123.42" y2="370.9" stroke="#363636" stroke-width="0.8"/>
<line x1="123.42" y1="229.4" x2="123.42" y2="232.2" stroke="#363636" stroke-width="0.8"/>
<line x1="149.06" y1="373.7" x2="149.06" y2="370.9" stroke="#363636" stroke-width="0.8"/>
<line x1="149.06" y1="229.4" x2="149.06" y2="232.2" stroke="#363636" stroke-width="0.8"/>
<line x1="46.5" y1="343.18" x2="49.3" y2="343.18" stroke="#363636" stroke-width="0.8"/>
<line x1="174.7" y1="343.18" x2="171.9" y2="343.18" stroke="#363636" stroke-width="0.8"/>
<line x1="46.5" y1="312.66" x2="49.3" y2="312.66" stroke="#363636" stroke-width="0.8"/>
<line x1="174.7" y1="312.66" x2="171.9" y2="312.66" stroke="#363636" stroke-width="0.8"/>
<line x1="46.5" y1="282.14" x2="49.3" y2="282.14" stroke="#363636" stroke-width="0.8"/>
<line x1="174.7" y1="282.14" x2="171.9" y2="282.14" stroke="#363636" stroke-width="0.8"/>
<line x1="46.5" y1="251.62" x2="49.3" y2="251.62" stroke="#363636" stroke-width="0.8"/>
<line x1="174.7" y1="251.62" x2="171.9" y2="251.62" stroke="#363636" stroke-width="0.8"/>
<text x="40.7" y="378.5" font-size="12" text-anchor="end">0</text>
<text x="40.7" y="347.98" font-size="12" text-anchor="end">0.2</text>
<text x="40.7" y="317.46" font-size="12" text-anchor="end">0.4</text>
<text x="40.7" y="286.94" font-size="12" text-anchor="end">0.6</text>
<text x="40.7" y="256.42" font-size="12" text-anchor="end">0.8</text>
<text x="46" y="390.6" font-size="12" text-anchor="middle">0</text>
<text x="71.64" y="390.6" font-size="12" text-anchor="middle">1</text>
<text x="97.28" y="390.6" font-size="12" text-anchor="middle">2</text>
<text x="122.92" y="390.6" font-size="12" text-anchor="middle">3</text>
<text x="148.56" y="390.6" font-size="12" text-anchor="middle">4</text>
<text x="174.2" y="390.6" font-size="12" text-anchor="middle">5</text>
<text x="111.3" y="405.5" font-size="12" text-anchor="middle" font-style="italic">t/T</text>
<line x1="116.4" y1="240.8" x2="133.6" y2="240.8" stroke="#3c5fae" stroke-width="1.4"/>
<line x1="124.9" y1="233.4" x2="124.9" y2="248.2" stroke="#3c5fae" stroke-width="1.1"/>
<line x1="122.1" y1="233.4" x2="127.7" y2="233.4" stroke="#3c5fae" stroke-width="1.1"/>
<line x1="122.1" y1="248.2" x2="127.7" y2="248.2" stroke="#3c5fae" stroke-width="1.1"/>
<circle cx="124.9" cy="240.8" r="2.8" fill="#3c5fae" stroke="none" stroke-width="1"/>
<text x="137.1" y="245.2" font-size="12" font-style="italic">B=0.1</text>
<line x1="116.4" y1="260.2" x2="133.6" y2="260.2" stroke="#eea03c" stroke-width="1.4"/>
<line x1="124.9" y1="252.8" x2="124.9" y2="267.6" stroke="#eea03c" stroke-width="1.1"/>
<line x1="122.1" y1="252.8" x2="127.7" y2="252.8" stroke="#eea03c" stroke-width="1.1"/>
<line x1="122.1" y1="267.6" x2="127.7" y2="267.6" stroke="#eea03c" stroke-width="1.1"/>
<circle cx="124.9" cy="260.2" r="2.8" fill="#eea03c" stroke="none" stroke-width="1"/>
<text x="137.1" y="264.6" font-size="12" font-style="italic">B=3.0</text>
<g transform="translate(12.7 328.6) rotate(-90)"><text x="0" y="0" font-size="12" fill="#1a1a1a">-<tspan dx="0.8" font-size="13" font-style="italic">S</tspan><tspan font-size="9.7" dy="3.4">topo</tspan><tspan dy="-3.4">/</tspan><tspan font-style="italic">ln</tspan>2</text></g>
<line x1="0.6" y1="314.5" x2="0.6" y2="321.2" stroke="#333" stroke-width="0.9"/>
</g>
<text x="3.9" y="224" font-size="13.6" font-weight="bold" fill="#000">c</text>
<g id="pe">
<line x1="591.8" y1="228.5" x2="591.8" y2="373.8" stroke="#e3e3e3" stroke-width="0.8"/>
<line x1="634.3" y1="228.5" x2="634.3" y2="373.8" stroke="#e3e3e3" stroke-width="0.8"/>
<line x1="549.3" y1="332.34" x2="676.8" y2="332.34" stroke="#e3e3e3" stroke-width="0.8"/>
<line x1="549.3" y1="290.88" x2="676.8" y2="290.88" stroke="#e3e3e3" stroke-width="0.8"/>
<line x1="549.3" y1="249.42" x2="676.8" y2="249.42" stroke="#e3e3e3" stroke-width="0.8"/>
<polyline points="549.3,256.05 557.8,259.37 566.3,264.97 574.8,273.67 583.3,282.59 591.8,296.48 600.3,290.88 608.8,300.21 617.3,312.85 625.8,310.78 634.3,314.72 655.55,315.76 676.8,327.99" fill="none" stroke="#6a8fb3" stroke-width="1.2" stroke-dasharray="5,2,1.2,2" stroke-linejoin="round"/>
<polyline points="549.3,249.83 553.55,254.19 557.8,252.94 566.3,259.78 574.8,273.05 583.3,275.13 591.8,288.81 600.3,278.86 608.8,297.72 617.3,302.07 625.8,297.1 634.3,311.61 655.55,314.1 676.8,319.07" fill="none" stroke="#6a8fb3" stroke-width="1.4" stroke-linejoin="round"/>
<rect x="546.7" y="247.23" width="5.2" height="5.2" fill="#6a8fb3" stroke="none" stroke-width="1"/>
<line x1="553.55" y1="251.7" x2="553.55" y2="256.68" stroke="#6a8fb3" stroke-width="1.0"/>
<line x1="550.95" y1="251.7" x2="556.15" y2="251.7" stroke="#6a8fb3" stroke-width="1.0"/>
<line x1="550.95" y1="256.68" x2="556.15" y2="256.68" stroke="#6a8fb3" stroke-width="1.0"/>
<circle cx="553.55" cy="254.19" r="2.7" fill="#6a8fb3" stroke="none" stroke-width="1"/>
<line x1="557.8" y1="249.83" x2="557.8" y2="256.05" stroke="#6a8fb3" stroke-width="1.0"/>
<line x1="555.2" y1="249.83" x2="560.4" y2="249.83" stroke="#6a8fb3" stroke-width="1.0"/>
<line x1="555.2" y1="256.05" x2="560.4" y2="256.05" stroke="#6a8fb3" stroke-width="1.0"/>
<circle cx="557.8" cy="252.94" r="2.7" fill="#6a8fb3" stroke="none" stroke-width="1"/>
<line x1="566.3" y1="256.68" x2="566.3" y2="262.89" stroke="#6a8fb3" stroke-width="1.0"/>
<line x1="563.7" y1="256.68" x2="568.9" y2="256.68" stroke="#6a8fb3" stroke-width="1.0"/>
<line x1="563.7" y1="262.89" x2="568.9" y2="262.89" stroke="#6a8fb3" stroke-width="1.0"/>
<circle cx="566.3" cy="259.78" r="2.7" fill="#6a8fb3" stroke="none" stroke-width="1"/>
<line x1="574.8" y1="268.91" x2="574.8" y2="277.2" stroke="#6a8fb3" stroke-width="1.0"/>
<line x1="572.2" y1="268.91" x2="577.4" y2="268.91" stroke="#6a8fb3" stroke-width="1.0"/>
<line x1="572.2" y1="277.2" x2="577.4" y2="277.2" stroke="#6a8fb3" stroke-width="1.0"/>
<circle cx="574.8" cy="273.05" r="2.7" fill="#6a8fb3" stroke="none" stroke-width="1"/>
<line x1="583.3" y1="271.6" x2="583.3" y2="278.65" stroke="#6a8fb3" stroke-width="1.0"/>
<line x1="580.7" y1="271.6" x2="585.9" y2="271.6" stroke="#6a8fb3" stroke-width="1.0"/>
<line x1="580.7" y1="278.65" x2="585.9" y2="278.65" stroke="#6a8fb3" stroke-width="1.0"/>
<circle cx="583.3" cy="275.13" r="2.7" fill="#6a8fb3" stroke="none" stroke-width="1"/>
<line x1="591.8" y1="282.59" x2="591.8" y2="295.03" stroke="#6a8fb3" stroke-width="1.0"/>
<line x1="589.2" y1="282.59" x2="594.4" y2="282.59" stroke="#6a8fb3" stroke-width="1.0"/>
<line x1="589.2" y1="295.03" x2="594.4" y2="295.03" stroke="#6a8fb3" stroke-width="1.0"/>
<circle cx="591.8" cy="288.81" r="2.7" fill="#6a8fb3" stroke="none" stroke-width="1"/>
<line x1="600.3" y1="274.3" x2="600.3" y2="283.42" stroke="#6a8fb3" stroke-width="1.0"/>
<line x1="597.7" y1="274.3" x2="602.9" y2="274.3" stroke="#6a8fb3" stroke-width="1.0"/>
<line x1="597.7" y1="283.42" x2="602.9" y2="283.42" stroke="#6a8fb3" stroke-width="1.0"/>
<circle cx="600.3" cy="278.86" r="2.7" fill="#6a8fb3" stroke="none" stroke-width="1"/>
<line x1="608.8" y1="292.54" x2="608.8" y2="302.9" stroke="#6a8fb3" stroke-width="1.0"/>
<line x1="606.2" y1="292.54" x2="611.4" y2="292.54" stroke="#6a8fb3" stroke-width="1.0"/>
<line x1="606.2" y1="302.9" x2="611.4" y2="302.9" stroke="#6a8fb3" stroke-width="1.0"/>
<circle cx="608.8" cy="297.72" r="2.7" fill="#6a8fb3" stroke="none" stroke-width="1"/>
<line x1="617.3" y1="297.51" x2="617.3" y2="306.63" stroke="#6a8fb3" stroke-width="1.0"/>
<line x1="614.7" y1="297.51" x2="619.9" y2="297.51" stroke="#6a8fb3" stroke-width="1.0"/>
<line x1="614.7" y1="306.63" x2="619.9" y2="306.63" stroke="#6a8fb3" stroke-width="1.0"/>
<circle cx="617.3" cy="302.07" r="2.7" fill="#6a8fb3" stroke="none" stroke-width="1"/>
<line x1="625.8" y1="290.88" x2="625.8" y2="303.32" stroke="#6a8fb3" stroke-width="1.0"/>
<line x1="623.2" y1="290.88" x2="628.4" y2="290.88" stroke="#6a8fb3" stroke-width="1.0"/>
<line x1="623.2" y1="303.32" x2="628.4" y2="303.32" stroke="#6a8fb3" stroke-width="1.0"/>
<circle cx="625.8" cy="297.1" r="2.7" fill="#6a8fb3" stroke="none" stroke-width="1"/>
<line x1="634.3" y1="305.39" x2="634.3" y2="317.83" stroke="#6a8fb3" stroke-width="1.0"/>
<line x1="631.7" y1="305.39" x2="636.9" y2="305.39" stroke="#6a8fb3" stroke-width="1.0"/>
<line x1="631.7" y1="317.83" x2="636.9" y2="317.83" stroke="#6a8fb3" stroke-width="1.0"/>
<circle cx="634.3" cy="311.61" r="2.7" fill="#6a8fb3" stroke="none" stroke-width="1"/>
<line x1="655.55" y1="306.22" x2="655.55" y2="321.98" stroke="#6a8fb3" stroke-width="1.0"/>
<line x1="652.95" y1="306.22" x2="658.15" y2="306.22" stroke="#6a8fb3" stroke-width="1.0"/>
<line x1="652.95" y1="321.98" x2="658.15" y2="321.98" stroke="#6a8fb3" stroke-width="1.0"/>
<circle cx="655.55" cy="314.1" r="2.7" fill="#6a8fb3" stroke="none" stroke-width="1"/>
<line x1="676.8" y1="309.74" x2="676.8" y2="328.4" stroke="#6a8fb3" stroke-width="1.0"/>
<line x1="674.2" y1="309.74" x2="679.4" y2="309.74" stroke="#6a8fb3" stroke-width="1.0"/>
<line x1="674.2" y1="328.4" x2="679.4" y2="328.4" stroke="#6a8fb3" stroke-width="1.0"/>
<circle cx="676.8" cy="319.07" r="2.7" fill="#6a8fb3" stroke="none" stroke-width="1"/>
<line x1="549.3" y1="228.5" x2="676.8" y2="228.5" stroke="#363636" stroke-width="1"/>
<line x1="676.8" y1="228.5" x2="676.8" y2="373.8" stroke="#8a8a8a" stroke-width="1"/>
<line x1="549.3" y1="228.5" x2="549.3" y2="373.8" stroke="#363636" stroke-width="1"/>
<line x1="549.3" y1="373.8" x2="676.8" y2="373.8" stroke="#363636" stroke-width="1"/>
<line x1="591.8" y1="373.8" x2="591.8" y2="371.3" stroke="#363636" stroke-width="0.8"/>
<line x1="591.8" y1="228.5" x2="591.8" y2="231" stroke="#363636" stroke-width="0.8"/>
<line x1="634.3" y1="373.8" x2="634.3" y2="371.3" stroke="#363636" stroke-width="0.8"/>
<line x1="634.3" y1="228.5" x2="634.3" y2="231" stroke="#363636" stroke-width="0.8"/>
<line x1="549.3" y1="332.34" x2="551.8" y2="332.34" stroke="#363636" stroke-width="0.8"/>
<line x1="676.8" y1="332.34" x2="674.3" y2="332.34" stroke="#363636" stroke-width="0.8"/>
<line x1="549.3" y1="290.88" x2="551.8" y2="290.88" stroke="#363636" stroke-width="0.8"/>
<line x1="676.8" y1="290.88" x2="674.3" y2="290.88" stroke="#363636" stroke-width="0.8"/>
<line x1="549.3" y1="249.42" x2="551.8" y2="249.42" stroke="#363636" stroke-width="0.8"/>
<line x1="676.8" y1="249.42" x2="674.3" y2="249.42" stroke="#363636" stroke-width="0.8"/>
<text x="543.4" y="379" font-size="12" text-anchor="end">0</text>
<text x="543.4" y="337.54" font-size="12" text-anchor="end">0.2</text>
<text x="543.4" y="296.08" font-size="12" text-anchor="end">0.4</text>
<text x="543.4" y="254.62" font-size="12" text-anchor="end">0.6</text>
<text x="549" y="390.9" font-size="12" text-anchor="middle">0</text>
<text x="591.5" y="390.9" font-size="12" text-anchor="middle">1.0</text>
<text x="634" y="390.9" font-size="12" text-anchor="middle">2.0</text>
<text x="676.5" y="390.9" font-size="12" text-anchor="middle">3.0</text>
<text x="613.4" y="405.5" font-size="12" text-anchor="middle" font-style="italic">B</text>
<polyline points="628.8,241 645,241" fill="none" stroke="#6a8fb3" stroke-width="1.3" stroke-dasharray="5.5,2.2,1.4,2.2" stroke-linejoin="round"/>
<text x="648.7" y="245.5" font-size="12" font-style="italic">Sim.</text>
<line x1="628.8" y1="260.2" x2="645" y2="260.2" stroke="#6a8fb3" stroke-width="1.4"/>
<line x1="636.9" y1="253" x2="636.9" y2="267.4" stroke="#6a8fb3" stroke-width="1.0"/>
<line x1="634.1" y1="253" x2="639.7" y2="253" stroke="#6a8fb3" stroke-width="1.0"/>
<line x1="634.1" y1="267.4" x2="639.7" y2="267.4" stroke="#6a8fb3" stroke-width="1.0"/>
<circle cx="636.9" cy="260.2" r="2.8" fill="#6a8fb3" stroke="none" stroke-width="1"/>
<text x="648.7" y="264.6" font-size="12" font-style="italic">Exp.</text>
<g transform="translate(515.2 343) rotate(-90)"><text x="0" y="0" font-size="12" fill="#1a1a1a">-<tspan dx="0.8" font-size="13" font-style="italic">S</tspan><tspan font-size="9.7" dy="3.4">topo</tspan><tspan dy="-3.4"> (</tspan><tspan font-style="italic">t</tspan>=<tspan font-style="italic">T</tspan>)/<tspan font-style="italic">ln</tspan>2</text></g>
</g>
<line x1="503.5" y1="329.2" x2="503.5" y2="335.7" stroke="#333" stroke-width="0.9"/>
<text x="506.4" y="223.8" font-size="13.6" font-weight="bold" fill="#000">e</text>
<g id="pd">
<rect x="227.1" y="233.7" width="20.5" height="20.5" fill="#6284bd" stroke="none" stroke-width="1"/>
<rect x="254.72" y="233.7" width="20.5" height="20.5" fill="#83a3ce" stroke="none" stroke-width="1"/>
<rect x="282.34" y="233.7" width="20.5" height="20.5" fill="#8cabd2" stroke="none" stroke-width="1"/>
<rect x="309.96" y="233.7" width="20.5" height="20.5" fill="#6d8ec3" stroke="none" stroke-width="1"/>
<rect x="337.58" y="233.7" width="20.5" height="20.5" fill="#6486be" stroke="none" stroke-width="1"/>
<rect x="227.1" y="261.2" width="20.5" height="20.6" fill="#7697c7" stroke="none" stroke-width="1"/>
<rect x="254.72" y="261.2" width="20.5" height="20.6" fill="#7293c5" stroke="none" stroke-width="1"/>
<rect x="282.34" y="261.2" width="20.5" height="20.6" fill="#86a6cf" stroke="none" stroke-width="1"/>
<rect x="309.96" y="261.2" width="20.5" height="20.6" fill="#7a9ac9" stroke="none" stroke-width="1"/>
<rect x="337.58" y="261.2" width="20.5" height="20.6" fill="#6f90c4" stroke="none" stroke-width="1"/>
<path d="M227.71,230.2 L227.71,226.65 A9.7,9.7 0 0 1 247.11,226.65 L247.11,230.2 Z" fill="#6082bc"/>
<path d="M282.95,230.2 L282.95,226.65 A9.7,9.7 0 0 1 302.35,226.65 L302.35,230.2 Z" fill="#698bc1"/>
<path d="M338.19,230.2 L338.19,226.65 A9.7,9.7 0 0 1 357.59,226.65 L357.59,230.2 Z" fill="#4568ad"/>
<path d="M255.33,285.3 L255.33,288.85 A9.7,9.7 0 0 0 274.73,288.85 L274.73,285.3 Z" fill="#698bc1"/>
<path d="M310.57,285.3 L310.57,288.85 A9.7,9.7 0 0 0 329.97,288.85 L329.97,285.3 Z" fill="#6889c0"/>
<path d="M223.6,261.8 L220.05,261.8 A9.7,9.7 0 0 0 220.05,281.2 L223.6,281.2 Z" fill="#577ab7"/>
<path d="M361.7,261.8 L365.25,261.8 A9.7,9.7 0 0 1 365.25,281.2 L361.7,281.2 Z" fill="#5678b6"/>
<rect x="223.6" y="226.7" width="27.62" height="7" fill="#fff" stroke="none" stroke-width="1"/>
<rect x="251.22" y="226.7" width="27.62" height="7" fill="#fff" stroke="none" stroke-width="1"/>
<rect x="278.84" y="226.7" width="27.62" height="7" fill="#fff" stroke="none" stroke-width="1"/>
<rect x="306.46" y="226.7" width="27.62" height="7" fill="#fff" stroke="none" stroke-width="1"/>
<rect x="334.08" y="226.7" width="27.62" height="7" fill="#fff" stroke="none" stroke-width="1"/>
<rect x="223.6" y="254.2" width="27.62" height="7" fill="#fff" stroke="none" stroke-width="1"/>
<rect x="251.22" y="254.2" width="27.62" height="7" fill="#fff" stroke="none" stroke-width="1"/>
<rect x="278.84" y="254.2" width="27.62" height="7" fill="#fff" stroke="none" stroke-width="1"/>
<rect x="306.46" y="254.2" width="27.62" height="7" fill="#fff" stroke="none" stroke-width="1"/>
<rect x="334.08" y="254.2" width="27.62" height="7" fill="#fff" stroke="none" stroke-width="1"/>
<rect x="223.6" y="281.8" width="27.62" height="7" fill="#fff" stroke="none" stroke-width="1"/>
<rect x="251.22" y="281.8" width="27.62" height="7" fill="#fff" stroke="none" stroke-width="1"/>
<rect x="278.84" y="281.8" width="27.62" height="7" fill="#fff" stroke="none" stroke-width="1"/>
<rect x="306.46" y="281.8" width="27.62" height="7" fill="#fff" stroke="none" stroke-width="1"/>
<rect x="334.08" y="281.8" width="27.62" height="7" fill="#fff" stroke="none" stroke-width="1"/>
<rect x="220.1" y="230.2" width="7" height="27.5" fill="#fff" stroke="none" stroke-width="1"/>
<rect x="247.72" y="230.2" width="7" height="27.5" fill="#fff" stroke="none" stroke-width="1"/>
<rect x="275.34" y="230.2" width="7" height="27.5" fill="#fff" stroke="none" stroke-width="1"/>
<rect x="302.96" y="230.2" width="7" height="27.5" fill="#fff" stroke="none" stroke-width="1"/>
<rect x="330.58" y="230.2" width="7" height="27.5" fill="#fff" stroke="none" stroke-width="1"/>
<rect x="358.2" y="230.2" width="7" height="27.5" fill="#fff" stroke="none" stroke-width="1"/>
<rect x="220.1" y="257.7" width="7" height="27.6" fill="#fff" stroke="none" stroke-width="1"/>
<rect x="247.72" y="257.7" width="7" height="27.6" fill="#fff" stroke="none" stroke-width="1"/>
<rect x="275.34" y="257.7" width="7" height="27.6" fill="#fff" stroke="none" stroke-width="1"/>
<rect x="302.96" y="257.7" width="7" height="27.6" fill="#fff" stroke="none" stroke-width="1"/>
<rect x="330.58" y="257.7" width="7" height="27.6" fill="#fff" stroke="none" stroke-width="1"/>
<rect x="358.2" y="257.7" width="7" height="27.6" fill="#fff" stroke="none" stroke-width="1"/>
<rect x="223.6" y="228.45" width="27.62" height="3.5" fill="#a9c7e0" stroke="#8c8c8c" stroke-width="0.55"/>
<rect x="251.22" y="228.45" width="27.62" height="3.5" fill="#a9c7e0" stroke="#8c8c8c" stroke-width="0.55"/>
<rect x="278.84" y="228.45" width="27.62" height="3.5" fill="#a9c7e0" stroke="#8c8c8c" stroke-width="0.55"/>
<rect x="306.46" y="228.45" width="27.62" height="3.5" fill="#a9c7e0" stroke="#8c8c8c" stroke-width="0.55"/>
<rect x="334.08" y="228.45" width="27.62" height="3.5" fill="#a9c7e0" stroke="#8c8c8c" stroke-width="0.55"/>
<rect x="223.6" y="255.95" width="27.62" height="3.5" fill="#a9c7e0" stroke="#8c8c8c" stroke-width="0.55"/>
<rect x="251.22" y="255.95" width="27.62" height="3.5" fill="#a9c7e0" stroke="#8c8c8c" stroke-width="0.55"/>
<rect x="278.84" y="255.95" width="27.62" height="3.5" fill="#a9c7e0" stroke="#8c8c8c" stroke-width="0.55"/>
<rect x="306.46" y="255.95" width="27.62" height="3.5" fill="#a9c7e0" stroke="#8c8c8c" stroke-width="0.55"/>
<rect x="334.08" y="255.95" width="27.62" height="3.5" fill="#a9c7e0" stroke="#8c8c8c" stroke-width="0.55"/>
<rect x="223.6" y="283.55" width="27.62" height="3.5" fill="#a9c7e0" stroke="#8c8c8c" stroke-width="0.55"/>
<rect x="251.22" y="283.55" width="27.62" height="3.5" fill="#a9c7e0" stroke="#8c8c8c" stroke-width="0.55"/>
<rect x="278.84" y="283.55" width="27.62" height="3.5" fill="#a9c7e0" stroke="#8c8c8c" stroke-width="0.55"/>
<rect x="306.46" y="283.55" width="27.62" height="3.5" fill="#a9c7e0" stroke="#8c8c8c" stroke-width="0.55"/>
<rect x="334.08" y="283.55" width="27.62" height="3.5" fill="#a9c7e0" stroke="#8c8c8c" stroke-width="0.55"/>
<rect x="221.85" y="230.2" width="3.5" height="27.5" fill="#dcdad6" stroke="#8c8c8c" stroke-width="0.55"/>
<rect x="249.47" y="230.2" width="3.5" height="27.5" fill="#dcdad6" stroke="#8c8c8c" stroke-width="0.55"/>
<rect x="277.09" y="230.2" width="3.5" height="27.5" fill="#dcdad6" stroke="#8c8c8c" stroke-width="0.55"/>
<rect x="304.71" y="230.2" width="3.5" height="27.5" fill="#dcdad6" stroke="#8c8c8c" stroke-width="0.55"/>
<rect x="332.33" y="230.2" width="3.5" height="27.5" fill="#dcdad6" stroke="#8c8c8c" stroke-width="0.55"/>
<rect x="359.95" y="230.2" width="3.5" height="27.5" fill="#dcdad6" stroke="#8c8c8c" stroke-width="0.55"/>
<rect x="221.85" y="257.7" width="3.5" height="27.6" fill="#dcdad6" stroke="#8c8c8c" stroke-width="0.55"/>
<rect x="249.47" y="257.7" width="3.5" height="27.6" fill="#dcdad6" stroke="#8c8c8c" stroke-width="0.55"/>
<rect x="277.09" y="257.7" width="3.5" height="27.6" fill="#dcdad6" stroke="#8c8c8c" stroke-width="0.55"/>
<rect x="304.71" y="257.7" width="3.5" height="27.6" fill="#dcdad6" stroke="#8c8c8c" stroke-width="0.55"/>
<rect x="332.33" y="257.7" width="3.5" height="27.6" fill="#dcdad6" stroke="#8c8c8c" stroke-width="0.55"/>
<rect x="359.95" y="257.7" width="3.5" height="27.6" fill="#dcdad6" stroke="#8c8c8c" stroke-width="0.55"/>
<circle cx="223.6" cy="230.2" r="6.4" fill="#fff" stroke="#1a1a1a" stroke-width="1.1"/>
<text x="223.6" y="233.7" font-size="9.6" text-anchor="middle" fill="#000" stroke="#000" stroke-width="0.3">1</text>
<circle cx="251.22" cy="230.2" r="6.4" fill="#fff" stroke="#1a1a1a" stroke-width="1.1"/>
<text x="251.22" y="233.7" font-size="9.6" text-anchor="middle" fill="#000" stroke="#000" stroke-width="0.3">2</text>
<circle cx="278.84" cy="230.2" r="6.4" fill="#fff" stroke="#1a1a1a" stroke-width="1.1"/>
<text x="278.84" y="233.7" font-size="9.6" text-anchor="middle" fill="#000" stroke="#000" stroke-width="0.3">3</text>
<circle cx="306.46" cy="230.2" r="6.4" fill="#fff" stroke="#1a1a1a" stroke-width="1.1"/>
<text x="306.46" y="233.7" font-size="9.6" text-anchor="middle" fill="#000" stroke="#000" stroke-width="0.3">4</text>
<circle cx="334.08" cy="230.2" r="6.4" fill="#fff" stroke="#1a1a1a" stroke-width="1.1"/>
<text x="334.08" y="233.7" font-size="9.6" text-anchor="middle" fill="#000" stroke="#000" stroke-width="0.3">5</text>
<circle cx="361.7" cy="230.2" r="6.4" fill="#fff" stroke="#1a1a1a" stroke-width="1.1"/>
<text x="361.7" y="233.7" font-size="9.6" text-anchor="middle" fill="#000" stroke="#000" stroke-width="0.3">6</text>
<circle cx="223.6" cy="257.7" r="6.4" fill="#fff" stroke="#1a1a1a" stroke-width="1.1"/>
<text x="223.6" y="261.2" font-size="9.6" text-anchor="middle" fill="#000" stroke="#000" stroke-width="0.3">12</text>
<circle cx="251.22" cy="257.7" r="6.4" fill="#fff" stroke="#1a1a1a" stroke-width="1.1"/>
<text x="251.22" y="261.2" font-size="9.6" text-anchor="middle" fill="#000" stroke="#000" stroke-width="0.3">11</text>
<circle cx="278.84" cy="257.7" r="6.4" fill="#fff" stroke="#1a1a1a" stroke-width="1.1"/>
<text x="278.84" y="261.2" font-size="9.6" text-anchor="middle" fill="#000" stroke="#000" stroke-width="0.3">10</text>
<circle cx="306.46" cy="257.7" r="6.4" fill="#fff" stroke="#1a1a1a" stroke-width="1.1"/>
<text x="306.46" y="261.2" font-size="9.6" text-anchor="middle" fill="#000" stroke="#000" stroke-width="0.3">9</text>
<circle cx="334.08" cy="257.7" r="6.4" fill="#fff" stroke="#1a1a1a" stroke-width="1.1"/>
<text x="334.08" y="261.2" font-size="9.6" text-anchor="middle" fill="#000" stroke="#000" stroke-width="0.3">8</text>
<circle cx="361.7" cy="257.7" r="6.4" fill="#fff" stroke="#1a1a1a" stroke-width="1.1"/>
<text x="361.7" y="261.2" font-size="9.6" text-anchor="middle" fill="#000" stroke="#000" stroke-width="0.3">7</text>
<circle cx="223.6" cy="285.3" r="6.4" fill="#fff" stroke="#1a1a1a" stroke-width="1.1"/>
<text x="223.6" y="288.8" font-size="9.6" text-anchor="middle" fill="#000" stroke="#000" stroke-width="0.3">13</text>
<circle cx="251.22" cy="285.3" r="6.4" fill="#fff" stroke="#1a1a1a" stroke-width="1.1"/>
<text x="251.22" y="288.8" font-size="9.6" text-anchor="middle" fill="#000" stroke="#000" stroke-width="0.3">14</text>
<circle cx="278.84" cy="285.3" r="6.4" fill="#fff" stroke="#1a1a1a" stroke-width="1.1"/>
<text x="278.84" y="288.8" font-size="9.6" text-anchor="middle" fill="#000" stroke="#000" stroke-width="0.3">15</text>
<circle cx="306.46" cy="285.3" r="6.4" fill="#fff" stroke="#1a1a1a" stroke-width="1.1"/>
<text x="306.46" y="288.8" font-size="9.6" text-anchor="middle" fill="#000" stroke="#000" stroke-width="0.3">16</text>
<circle cx="334.08" cy="285.3" r="6.4" fill="#fff" stroke="#1a1a1a" stroke-width="1.1"/>
<text x="334.08" y="288.8" font-size="9.6" text-anchor="middle" fill="#000" stroke="#000" stroke-width="0.3">17</text>
<circle cx="361.7" cy="285.3" r="6.4" fill="#fff" stroke="#1a1a1a" stroke-width="1.1"/>
<text x="361.7" y="288.8" font-size="9.6" text-anchor="middle" fill="#000" stroke="#000" stroke-width="0.3">18</text>
<text x="237.41" y="248.35" font-size="10" text-anchor="middle" font-weight="bold" fill="#000" stroke="#000" stroke-width="0.3">76</text>
<text x="265.03" y="248.35" font-size="10" text-anchor="middle" font-weight="bold" fill="#000" stroke="#000" stroke-width="0.3">58</text>
<text x="292.65" y="248.35" font-size="10" text-anchor="middle" font-weight="bold" fill="#000" stroke="#000" stroke-width="0.3">53</text>
<text x="320.27" y="248.35" font-size="10" text-anchor="middle" font-weight="bold" fill="#000" stroke="#000" stroke-width="0.3">70</text>
<text x="347.89" y="248.35" font-size="10" text-anchor="middle" font-weight="bold" fill="#000" stroke="#000" stroke-width="0.3">75</text>
<text x="237.41" y="275.9" font-size="10" text-anchor="middle" font-weight="bold" fill="#000" stroke="#000" stroke-width="0.3">65</text>
<text x="265.03" y="275.9" font-size="10" text-anchor="middle" font-weight="bold" fill="#000" stroke="#000" stroke-width="0.3">67</text>
<text x="292.65" y="275.9" font-size="10" text-anchor="middle" font-weight="bold" fill="#000" stroke="#000" stroke-width="0.3">56</text>
<text x="320.27" y="275.9" font-size="10" text-anchor="middle" font-weight="bold" fill="#000" stroke="#000" stroke-width="0.3">63</text>
<text x="347.89" y="275.9" font-size="10" text-anchor="middle" font-weight="bold" fill="#000" stroke="#000" stroke-width="0.3">69</text>
<text x="237.41" y="225.9" font-size="9.9" text-anchor="middle" font-weight="bold" fill="#000" stroke="#000" stroke-width="0.3">77</text>
<text x="292.65" y="225.9" font-size="9.9" text-anchor="middle" font-weight="bold" fill="#000" stroke="#000" stroke-width="0.3">72</text>
<text x="347.89" y="225.9" font-size="9.9" text-anchor="middle" font-weight="bold" fill="#000" stroke="#000" stroke-width="0.3">92</text>
<text x="265.03" y="296.3" font-size="9.9" text-anchor="middle" font-weight="bold" fill="#000" stroke="#000" stroke-width="0.3">72</text>
<text x="320.27" y="296.3" font-size="9.9" text-anchor="middle" font-weight="bold" fill="#000" stroke="#000" stroke-width="0.3">73</text>
<text x="219.7" y="271.5" font-size="10.4" text-anchor="middle" font-weight="bold" fill="#000" transform="rotate(-90 219.7 271.5)" stroke="#000" stroke-width="0.3">82</text>
<text x="365.6" y="271.5" font-size="10.4" text-anchor="middle" font-weight="bold" fill="#000" transform="rotate(90 365.6 271.5)" stroke="#000" stroke-width="0.3">83</text>
<rect x="227.1" y="323.3" width="20.5" height="20.5" fill="#e0e7e9" stroke="none" stroke-width="1"/>
<rect x="254.72" y="323.3" width="20.5" height="20.5" fill="#ebe3e0" stroke="none" stroke-width="1"/>
<rect x="282.34" y="323.3" width="20.5" height="20.5" fill="#cddce8" stroke="none" stroke-width="1"/>
<rect x="309.96" y="323.3" width="20.5" height="20.5" fill="#e9e7e5" stroke="none" stroke-width="1"/>
<rect x="337.58" y="323.3" width="20.5" height="20.5" fill="#e9e7e5" stroke="none" stroke-width="1"/>
<rect x="227.1" y="350.8" width="20.5" height="20.5" fill="#e9e9e6" stroke="none" stroke-width="1"/>
<rect x="254.72" y="350.8" width="20.5" height="20.5" fill="#ebe0de" stroke="none" stroke-width="1"/>
<rect x="282.34" y="350.8" width="20.5" height="20.5" fill="#e9e9e6" stroke="none" stroke-width="1"/>
<rect x="309.96" y="350.8" width="20.5" height="20.5" fill="#ebe3e0" stroke="none" stroke-width="1"/>
<rect x="337.58" y="350.8" width="20.5" height="20.5" fill="#eae4e2" stroke="none" stroke-width="1"/>
<path d="M227.71,319.8 L227.71,316.25 A9.7,9.7 0 0 1 247.11,316.25 L247.11,319.8 Z" fill="#e9cac8"/>
<path d="M282.95,319.8 L282.95,316.25 A9.7,9.7 0 0 1 302.35,316.25 L302.35,319.8 Z" fill="#dbe4ea"/>
<path d="M338.19,319.8 L338.19,316.25 A9.7,9.7 0 0 1 357.59,316.25 L357.59,319.8 Z" fill="#96b4d7"/>
<path d="M255.33,374.8 L255.33,378.35 A9.7,9.7 0 0 0 274.73,378.35 L274.73,374.8 Z" fill="#e0e7e9"/>
<path d="M310.57,374.8 L310.57,378.35 A9.7,9.7 0 0 0 329.97,378.35 L329.97,374.8 Z" fill="#eae4e2"/>
<path d="M223.6,351.35 L220.05,351.35 A9.7,9.7 0 0 0 220.05,370.75 L223.6,370.75 Z" fill="#c8d9e7"/>
<path d="M361.7,351.35 L365.25,351.35 A9.7,9.7 0 0 1 365.25,370.75 L361.7,370.75 Z" fill="#81a1cd"/>
<rect x="223.6" y="316.3" width="27.62" height="7" fill="#fff" stroke="none" stroke-width="1"/>
<rect x="251.22" y="316.3" width="27.62" height="7" fill="#fff" stroke="none" stroke-width="1"/>
<rect x="278.84" y="316.3" width="27.62" height="7" fill="#fff" stroke="none" stroke-width="1"/>
<rect x="306.46" y="316.3" width="27.62" height="7" fill="#fff" stroke="none" stroke-width="1"/>
<rect x="334.08" y="316.3" width="27.62" height="7" fill="#fff" stroke="none" stroke-width="1"/>
<rect x="223.6" y="343.8" width="27.62" height="7" fill="#fff" stroke="none" stroke-width="1"/>
<rect x="251.22" y="343.8" width="27.62" height="7" fill="#fff" stroke="none" stroke-width="1"/>
<rect x="278.84" y="343.8" width="27.62" height="7" fill="#fff" stroke="none" stroke-width="1"/>
<rect x="306.46" y="343.8" width="27.62" height="7" fill="#fff" stroke="none" stroke-width="1"/>
<rect x="334.08" y="343.8" width="27.62" height="7" fill="#fff" stroke="none" stroke-width="1"/>
<rect x="223.6" y="371.3" width="27.62" height="7" fill="#fff" stroke="none" stroke-width="1"/>
<rect x="251.22" y="371.3" width="27.62" height="7" fill="#fff" stroke="none" stroke-width="1"/>
<rect x="278.84" y="371.3" width="27.62" height="7" fill="#fff" stroke="none" stroke-width="1"/>
<rect x="306.46" y="371.3" width="27.62" height="7" fill="#fff" stroke="none" stroke-width="1"/>
<rect x="334.08" y="371.3" width="27.62" height="7" fill="#fff" stroke="none" stroke-width="1"/>
<rect x="220.1" y="319.8" width="7" height="27.5" fill="#fff" stroke="none" stroke-width="1"/>
<rect x="247.72" y="319.8" width="7" height="27.5" fill="#fff" stroke="none" stroke-width="1"/>
<rect x="275.34" y="319.8" width="7" height="27.5" fill="#fff" stroke="none" stroke-width="1"/>
<rect x="302.96" y="319.8" width="7" height="27.5" fill="#fff" stroke="none" stroke-width="1"/>
<rect x="330.58" y="319.8" width="7" height="27.5" fill="#fff" stroke="none" stroke-width="1"/>
<rect x="358.2" y="319.8" width="7" height="27.5" fill="#fff" stroke="none" stroke-width="1"/>
<rect x="220.1" y="347.3" width="7" height="27.5" fill="#fff" stroke="none" stroke-width="1"/>
<rect x="247.72" y="347.3" width="7" height="27.5" fill="#fff" stroke="none" stroke-width="1"/>
<rect x="275.34" y="347.3" width="7" height="27.5" fill="#fff" stroke="none" stroke-width="1"/>
<rect x="302.96" y="347.3" width="7" height="27.5" fill="#fff" stroke="none" stroke-width="1"/>
<rect x="330.58" y="347.3" width="7" height="27.5" fill="#fff" stroke="none" stroke-width="1"/>
<rect x="358.2" y="347.3" width="7" height="27.5" fill="#fff" stroke="none" stroke-width="1"/>
<rect x="223.6" y="318.05" width="27.62" height="3.5" fill="#e0e7ea" stroke="#8c8c8c" stroke-width="0.55"/>
<rect x="251.22" y="318.05" width="27.62" height="3.5" fill="#e0e7ea" stroke="#8c8c8c" stroke-width="0.55"/>
<rect x="278.84" y="318.05" width="27.62" height="3.5" fill="#e0e7ea" stroke="#8c8c8c" stroke-width="0.55"/>
<rect x="306.46" y="318.05" width="27.62" height="3.5" fill="#e0e7ea" stroke="#8c8c8c" stroke-width="0.55"/>
<rect x="334.08" y="318.05" width="27.62" height="3.5" fill="#e0e7ea" stroke="#8c8c8c" stroke-width="0.55"/>
<rect x="223.6" y="345.55" width="27.62" height="3.5" fill="#e0e7ea" stroke="#8c8c8c" stroke-width="0.55"/>
<rect x="251.22" y="345.55" width="27.62" height="3.5" fill="#e0e7ea" stroke="#8c8c8c" stroke-width="0.55"/>
<rect x="278.84" y="345.55" width="27.62" height="3.5" fill="#e0e7ea" stroke="#8c8c8c" stroke-width="0.55"/>
<rect x="306.46" y="345.55" width="27.62" height="3.5" fill="#e0e7ea" stroke="#8c8c8c" stroke-width="0.55"/>
<rect x="334.08" y="345.55" width="27.62" height="3.5" fill="#e0e7ea" stroke="#8c8c8c" stroke-width="0.55"/>
<rect x="223.6" y="373.05" width="27.62" height="3.5" fill="#e0e7ea" stroke="#8c8c8c" stroke-width="0.55"/>
<rect x="251.22" y="373.05" width="27.62" height="3.5" fill="#e0e7ea" stroke="#8c8c8c" stroke-width="0.55"/>
<rect x="278.84" y="373.05" width="27.62" height="3.5" fill="#e0e7ea" stroke="#8c8c8c" stroke-width="0.55"/>
<rect x="306.46" y="373.05" width="27.62" height="3.5" fill="#e0e7ea" stroke="#8c8c8c" stroke-width="0.55"/>
<rect x="334.08" y="373.05" width="27.62" height="3.5" fill="#e0e7ea" stroke="#8c8c8c" stroke-width="0.55"/>
<rect x="221.85" y="319.8" width="3.5" height="27.5" fill="#dcdcd8" stroke="#8c8c8c" stroke-width="0.55"/>
<rect x="249.47" y="319.8" width="3.5" height="27.5" fill="#dcdcd8" stroke="#8c8c8c" stroke-width="0.55"/>
<rect x="277.09" y="319.8" width="3.5" height="27.5" fill="#dcdcd8" stroke="#8c8c8c" stroke-width="0.55"/>
<rect x="304.71" y="319.8" width="3.5" height="27.5" fill="#dcdcd8" stroke="#8c8c8c" stroke-width="0.55"/>
<rect x="332.33" y="319.8" width="3.5" height="27.5" fill="#dcdcd8" stroke="#8c8c8c" stroke-width="0.55"/>
<rect x="359.95" y="319.8" width="3.5" height="27.5" fill="#dcdcd8" stroke="#8c8c8c" stroke-width="0.55"/>
<rect x="221.85" y="347.3" width="3.5" height="27.5" fill="#dcdcd8" stroke="#8c8c8c" stroke-width="0.55"/>
<rect x="249.47" y="347.3" width="3.5" height="27.5" fill="#dcdcd8" stroke="#8c8c8c" stroke-width="0.55"/>
<rect x="277.09" y="347.3" width="3.5" height="27.5" fill="#dcdcd8" stroke="#8c8c8c" stroke-width="0.55"/>
<rect x="304.71" y="347.3" width="3.5" height="27.5" fill="#dcdcd8" stroke="#8c8c8c" stroke-width="0.55"/>
<rect x="332.33" y="347.3" width="3.5" height="27.5" fill="#dcdcd8" stroke="#8c8c8c" stroke-width="0.55"/>
<rect x="359.95" y="347.3" width="3.5" height="27.5" fill="#dcdcd8" stroke="#8c8c8c" stroke-width="0.55"/>
<circle cx="223.6" cy="319.8" r="6.4" fill="#fff" stroke="#1a1a1a" stroke-width="1.1"/>
<text x="223.6" y="323.3" font-size="9.6" text-anchor="middle" fill="#000" stroke="#000" stroke-width="0.3">1</text>
<circle cx="251.22" cy="319.8" r="6.4" fill="#fff" stroke="#1a1a1a" stroke-width="1.1"/>
<text x="251.22" y="323.3" font-size="9.6" text-anchor="middle" fill="#000" stroke="#000" stroke-width="0.3">2</text>
<circle cx="278.84" cy="319.8" r="6.4" fill="#fff" stroke="#1a1a1a" stroke-width="1.1"/>
<text x="278.84" y="323.3" font-size="9.6" text-anchor="middle" fill="#000" stroke="#000" stroke-width="0.3">3</text>
<circle cx="306.46" cy="319.8" r="6.4" fill="#fff" stroke="#1a1a1a" stroke-width="1.1"/>
<text x="306.46" y="323.3" font-size="9.6" text-anchor="middle" fill="#000" stroke="#000" stroke-width="0.3">4</text>
<circle cx="334.08" cy="319.8" r="6.4" fill="#fff" stroke="#1a1a1a" stroke-width="1.1"/>
<text x="334.08" y="323.3" font-size="9.6" text-anchor="middle" fill="#000" stroke="#000" stroke-width="0.3">5</text>
<circle cx="361.7" cy="319.8" r="6.4" fill="#fff" stroke="#1a1a1a" stroke-width="1.1"/>
<text x="361.7" y="323.3" font-size="9.6" text-anchor="middle" fill="#000" stroke="#000" stroke-width="0.3">6</text>
<circle cx="223.6" cy="347.3" r="6.4" fill="#fff" stroke="#1a1a1a" stroke-width="1.1"/>
<text x="223.6" y="350.8" font-size="9.6" text-anchor="middle" fill="#000" stroke="#000" stroke-width="0.3">12</text>
<circle cx="251.22" cy="347.3" r="6.4" fill="#fff" stroke="#1a1a1a" stroke-width="1.1"/>
<text x="251.22" y="350.8" font-size="9.6" text-anchor="middle" fill="#000" stroke="#000" stroke-width="0.3">11</text>
<circle cx="278.84" cy="347.3" r="6.4" fill="#fff" stroke="#1a1a1a" stroke-width="1.1"/>
<text x="278.84" y="350.8" font-size="9.6" text-anchor="middle" fill="#000" stroke="#000" stroke-width="0.3">10</text>
<circle cx="306.46" cy="347.3" r="6.4" fill="#fff" stroke="#1a1a1a" stroke-width="1.1"/>
<text x="306.46" y="350.8" font-size="9.6" text-anchor="middle" fill="#000" stroke="#000" stroke-width="0.3">9</text>
<circle cx="334.08" cy="347.3" r="6.4" fill="#fff" stroke="#1a1a1a" stroke-width="1.1"/>
<text x="334.08" y="350.8" font-size="9.6" text-anchor="middle" fill="#000" stroke="#000" stroke-width="0.3">8</text>
<circle cx="361.7" cy="347.3" r="6.4" fill="#fff" stroke="#1a1a1a" stroke-width="1.1"/>
<text x="361.7" y="350.8" font-size="9.6" text-anchor="middle" fill="#000" stroke="#000" stroke-width="0.3">7</text>
<circle cx="223.6" cy="374.8" r="6.4" fill="#fff" stroke="#1a1a1a" stroke-width="1.1"/>
<text x="223.6" y="378.3" font-size="9.6" text-anchor="middle" fill="#000" stroke="#000" stroke-width="0.3">13</text>
<circle cx="251.22" cy="374.8" r="6.4" fill="#fff" stroke="#1a1a1a" stroke-width="1.1"/>
<text x="251.22" y="378.3" font-size="9.6" text-anchor="middle" fill="#000" stroke="#000" stroke-width="0.3">14</text>
<circle cx="278.84" cy="374.8" r="6.4" fill="#fff" stroke="#1a1a1a" stroke-width="1.1"/>
<text x="278.84" y="378.3" font-size="9.6" text-anchor="middle" fill="#000" stroke="#000" stroke-width="0.3">15</text>
<circle cx="306.46" cy="374.8" r="6.4" fill="#fff" stroke="#1a1a1a" stroke-width="1.1"/>
<text x="306.46" y="378.3" font-size="9.6" text-anchor="middle" fill="#000" stroke="#000" stroke-width="0.3">16</text>
<circle cx="334.08" cy="374.8" r="6.4" fill="#fff" stroke="#1a1a1a" stroke-width="1.1"/>
<text x="334.08" y="378.3" font-size="9.6" text-anchor="middle" fill="#000" stroke="#000" stroke-width="0.3">17</text>
<circle cx="361.7" cy="374.8" r="6.4" fill="#fff" stroke="#1a1a1a" stroke-width="1.1"/>
<text x="361.7" y="378.3" font-size="9.6" text-anchor="middle" fill="#000" stroke="#000" stroke-width="0.3">18</text>
<text x="237.41" y="337.95" font-size="10" text-anchor="middle" font-weight="bold" fill="#000" stroke="#000" stroke-width="0.3">4</text>
<text x="265.03" y="337.95" font-size="10" text-anchor="middle" font-weight="bold" fill="#000" stroke="#000" stroke-width="0.3">-4</text>
<text x="292.65" y="337.95" font-size="10" text-anchor="middle" font-weight="bold" fill="#000" stroke="#000" stroke-width="0.3">15</text>
<text x="320.27" y="337.95" font-size="10" text-anchor="middle" font-weight="bold" fill="#000" stroke="#000" stroke-width="0.3">-1</text>
<text x="347.89" y="337.95" font-size="10" text-anchor="middle" font-weight="bold" fill="#000" stroke="#000" stroke-width="0.3">-1</text>
<text x="237.41" y="365.45" font-size="10" text-anchor="middle" font-weight="bold" fill="#000" stroke="#000" stroke-width="0.3">0</text>
<text x="265.03" y="365.45" font-size="10" text-anchor="middle" font-weight="bold" fill="#000" stroke="#000" stroke-width="0.3">-6</text>
<text x="292.65" y="365.45" font-size="10" text-anchor="middle" font-weight="bold" fill="#000" stroke="#000" stroke-width="0.3">0</text>
<text x="320.27" y="365.45" font-size="10" text-anchor="middle" font-weight="bold" fill="#000" stroke="#000" stroke-width="0.3">-4</text>
<text x="347.89" y="365.45" font-size="10" text-anchor="middle" font-weight="bold" fill="#000" stroke="#000" stroke-width="0.3">-3</text>
<text x="237.41" y="315.5" font-size="9.9" text-anchor="middle" font-weight="bold" fill="#000" stroke="#000" stroke-width="0.3">-22</text>
<text x="292.65" y="315.5" font-size="9.9" text-anchor="middle" font-weight="bold" fill="#000" stroke="#000" stroke-width="0.3">7</text>
<text x="347.89" y="315.5" font-size="9.9" text-anchor="middle" font-weight="bold" fill="#000" stroke="#000" stroke-width="0.3">47</text>
<text x="265.03" y="385.8" font-size="9.9" text-anchor="middle" font-weight="bold" fill="#000" stroke="#000" stroke-width="0.3">4</text>
<text x="320.27" y="385.8" font-size="9.9" text-anchor="middle" font-weight="bold" fill="#000" stroke="#000" stroke-width="0.3">-3</text>
<text x="219.7" y="361.05" font-size="10.4" text-anchor="middle" font-weight="bold" fill="#000" transform="rotate(-90 219.7 361.05)" stroke="#000" stroke-width="0.3">18</text>
<text x="365.6" y="361.05" font-size="10.4" text-anchor="middle" font-weight="bold" fill="#000" transform="rotate(90 365.6 361.05)" stroke="#000" stroke-width="0.3">59</text>
<text x="205.3" y="257.6" font-size="12.5" text-anchor="middle" font-style="italic" transform="rotate(-90 205.3 257.6)">B=0.1</text>
<text x="205.3" y="347.3" font-size="12.5" text-anchor="middle" font-style="italic" transform="rotate(-90 205.3 347.3)">B=3.0</text>
<defs><linearGradient id="cb" x1="0" x2="1" y1="0" y2="0"><stop offset="0.000" stop-color="#cd464e"/><stop offset="0.050" stop-color="#d1585f"/><stop offset="0.100" stop-color="#d66a70"/><stop offset="0.150" stop-color="#da7c80"/><stop offset="0.200" stop-color="#de8e91"/><stop offset="0.250" stop-color="#e2a0a2"/><stop offset="0.300" stop-color="#e5afb0"/><stop offset="0.350" stop-color="#e8bebd"/><stop offset="0.400" stop-color="#eacdcb"/><stop offset="0.450" stop-color="#eadad8"/><stop offset="0.500" stop-color="#e9e9e6"/><stop offset="0.550" stop-color="#d6e1e9"/><stop offset="0.600" stop-color="#c6d7e6"/><stop offset="0.650" stop-color="#b5cbe1"/><stop offset="0.700" stop-color="#a3bedb"/><stop offset="0.750" stop-color="#91b0d5"/><stop offset="0.800" stop-color="#7f9fcc"/><stop offset="0.850" stop-color="#6d8ec3"/><stop offset="0.900" stop-color="#5b7db9"/><stop offset="0.950" stop-color="#496caf"/><stop offset="1.000" stop-color="#375aa5"/></linearGradient></defs>
<rect x="227.2" y="407" width="60.2" height="9.8" fill="url(#cb)" stroke="#3a3a3a" stroke-width="0.9"/>
<line x1="257.3" y1="407" x2="257.3" y2="409.5" stroke="#3a3a3a" stroke-width="0.8"/>
<text x="227.6" y="399.8" font-size="12" text-anchor="middle">-100</text>
<text x="257.3" y="399.8" font-size="12" text-anchor="middle">0</text>
<text x="286.7" y="399.8" font-size="12" text-anchor="middle">100</text>
<polyline points="297.4,403.6 295.2,409.6 297.4,415.6" fill="none" stroke="#222" stroke-width="0.9"/>
<polyline points="350.6,403.6 352.8,409.6 350.6,415.6" fill="none" stroke="#222" stroke-width="0.9"/>
<text x="296.9" y="413.3" font-size="12.6">Stabilizer</text>
<line x1="358.4" y1="405.6" x2="364.2" y2="411.4" stroke="#333" stroke-width="0.85"/>
<line x1="364.2" y1="405.6" x2="358.4" y2="411.4" stroke="#333" stroke-width="0.85"/>
<text x="365.4" y="413.3" font-size="12.6">100</text>
<rect x="409.8" y="403.8" width="10.2" height="9.6" fill="#fff" stroke="#222" stroke-width="0.9"/>
<text x="424.5" y="413" font-size="12" font-style="italic">Ideal</text>
<rect x="458.2" y="403.2" width="11.6" height="10.6" fill="#b5d3e6" stroke="none" stroke-width="1"/>
<text x="472.8" y="413" font-size="12" font-style="italic">Exp.</text>
<line x1="417.6" y1="222.6" x2="417.6" y2="248.1" stroke="#333" stroke-width="1.0"/>
<line x1="417.6" y1="247.6" x2="478.3" y2="247.6" stroke="#505050" stroke-width="1.0"/>
<text x="412.7" y="231.5" font-size="12" text-anchor="end">1</text>
<text x="412.7" y="251.9" font-size="12" text-anchor="end">0</text>
<text x="484" y="252.1" font-size="12" font-style="italic">i</text>
<rect x="426.4" y="227.2" width="12.6" height="20.4" fill="#fff" stroke="#555" stroke-width="0.9"/>
<rect x="426.9" y="240.66" width="11.6" height="6.49" fill="#b5d3e6" stroke="none" stroke-width="1"/>
<rect x="441.4" y="227.2" width="12.6" height="20.4" fill="#fff" stroke="#555" stroke-width="0.9"/>
<rect x="441.9" y="239.24" width="11.6" height="7.91" fill="#b5d3e6" stroke="none" stroke-width="1"/>
<rect x="456.5" y="227.2" width="12.6" height="20.4" fill="#fff" stroke="#555" stroke-width="0.9"/>
<rect x="457" y="239.24" width="11.6" height="7.91" fill="#b5d3e6" stroke="none" stroke-width="1"/>
<text x="432.7" y="264.5" font-size="12" text-anchor="middle">1</text>
<text x="447.7" y="264.5" font-size="12" text-anchor="middle">2</text>
<text x="462.8" y="264.5" font-size="12" text-anchor="middle">3</text>
<line x1="417.6" y1="256.8" x2="417.6" y2="282.3" stroke="#333" stroke-width="1.0"/>
<line x1="417.6" y1="281.8" x2="478.3" y2="281.8" stroke="#9a9a9a" stroke-width="1.0"/>
<text x="412.7" y="265.7" font-size="12" text-anchor="end">1</text>
<text x="412.7" y="286.1" font-size="12" text-anchor="end">0</text>
<text x="482.3" y="286.3" font-size="12" font-style="italic">i</text>
<text x="426.1" y="298.5" font-size="12" text-anchor="middle">1</text>
<line x1="426.4" y1="280.6" x2="426.4" y2="282" stroke="#333" stroke-width="1.0"/>
<text x="434.64" y="298.5" font-size="12" text-anchor="middle">2</text>
<line x1="435" y1="280.6" x2="435" y2="282" stroke="#333" stroke-width="1.0"/>
<text x="443.18" y="298.5" font-size="12" text-anchor="middle">3</text>
<line x1="443.6" y1="280.6" x2="443.6" y2="282" stroke="#333" stroke-width="1.0"/>
<text x="451.72" y="298.5" font-size="12" text-anchor="middle">4</text>
<line x1="452.2" y1="280.6" x2="452.2" y2="282" stroke="#333" stroke-width="1.0"/>
<text x="460.26" y="298.5" font-size="12" text-anchor="middle">5</text>
<line x1="460.8" y1="280.6" x2="460.8" y2="282" stroke="#333" stroke-width="1.0"/>
<text x="468.8" y="298.5" font-size="12" text-anchor="middle">6</text>
<line x1="469.4" y1="280.6" x2="469.4" y2="282" stroke="#333" stroke-width="1.0"/>
<line x1="423.5" y1="282.4" x2="429.5" y2="282.4" stroke="#a8c8de" stroke-width="0.8"/>
<line x1="432.1" y1="282.4" x2="438.1" y2="282.4" stroke="#a8c8de" stroke-width="0.8"/>
<line x1="457.9" y1="282.4" x2="463.9" y2="282.4" stroke="#a8c8de" stroke-width="0.8"/>
<line x1="417.6" y1="312.4" x2="417.6" y2="337.9" stroke="#333" stroke-width="1.0"/>
<line x1="417.6" y1="337.4" x2="478.3" y2="337.4" stroke="#505050" stroke-width="1.0"/>
<text x="412.7" y="321.3" font-size="12" text-anchor="end">1</text>
<text x="412.7" y="341.7" font-size="12" text-anchor="end">0</text>
<text x="484" y="341.9" font-size="12" font-style="italic">i</text>
<line x1="426.9" y1="336.7" x2="438.5" y2="336.7" stroke="#222" stroke-width="1.1"/>
<line x1="441.9" y1="336.7" x2="453.5" y2="336.7" stroke="#222" stroke-width="1.1"/>
<line x1="457" y1="336.7" x2="468.6" y2="336.7" stroke="#222" stroke-width="1.1"/>
<text x="432.7" y="354.3" font-size="12" text-anchor="middle">1</text>
<text x="447.7" y="354.3" font-size="12" text-anchor="middle">2</text>
<text x="462.8" y="354.3" font-size="12" text-anchor="middle">3</text>
<line x1="417.6" y1="346.2" x2="417.6" y2="371.7" stroke="#333" stroke-width="1.0"/>
<line x1="417.6" y1="371.2" x2="478.3" y2="371.2" stroke="#9a9a9a" stroke-width="1.0"/>
<text x="412.7" y="355.1" font-size="12" text-anchor="end">1</text>
<text x="412.7" y="375.5" font-size="12" text-anchor="end">0</text>
<text x="482.3" y="375.7" font-size="12" font-style="italic">i</text>
<text x="426.1" y="387.9" font-size="12" text-anchor="middle">1</text>
<line x1="426.4" y1="370" x2="426.4" y2="371.4" stroke="#333" stroke-width="1.0"/>
<text x="434.64" y="387.9" font-size="12" text-anchor="middle">2</text>
<line x1="435" y1="370" x2="435" y2="371.4" stroke="#333" stroke-width="1.0"/>
<text x="443.18" y="387.9" font-size="12" text-anchor="middle">3</text>
<line x1="443.6" y1="370" x2="443.6" y2="371.4" stroke="#333" stroke-width="1.0"/>
<text x="451.72" y="387.9" font-size="12" text-anchor="middle">4</text>
<line x1="452.2" y1="370" x2="452.2" y2="371.4" stroke="#333" stroke-width="1.0"/>
<text x="460.26" y="387.9" font-size="12" text-anchor="middle">5</text>
<line x1="460.8" y1="370" x2="460.8" y2="371.4" stroke="#333" stroke-width="1.0"/>
<text x="468.8" y="387.9" font-size="12" text-anchor="middle">6</text>
<line x1="469.4" y1="370" x2="469.4" y2="371.4" stroke="#333" stroke-width="1.0"/>
<text x="386" y="238" font-size="12.5" font-style="italic" fill="#1a1a1a">X<tspan font-size="10.5" dx="1" dy="6">L</tspan><tspan font-size="8.2" dx="0.2" dy="5.2">i</tspan></text>
<text x="386" y="273.4" font-size="12.5" font-style="italic" fill="#1a1a1a">Z<tspan font-size="10.5" dx="1" dy="6">L</tspan><tspan font-size="8.2" dx="0.2" dy="5.2">i</tspan></text>
<text x="386" y="327.6" font-size="12.5" font-style="italic" fill="#1a1a1a">X<tspan font-size="10.5" dx="1" dy="6">L</tspan><tspan font-size="8.2" dx="0.2" dy="5.2">i</tspan></text>
<text x="386" y="364.3" font-size="12.5" font-style="italic" fill="#1a1a1a">Z<tspan font-size="10.5" dx="1" dy="6">L</tspan><tspan font-size="8.2" dx="0.2" dy="5.2">i</tspan></text>
</g>
<text x="194.4" y="223.6" font-size="13.6" font-weight="bold" fill="#000">d</text>
</svg></body></html>
